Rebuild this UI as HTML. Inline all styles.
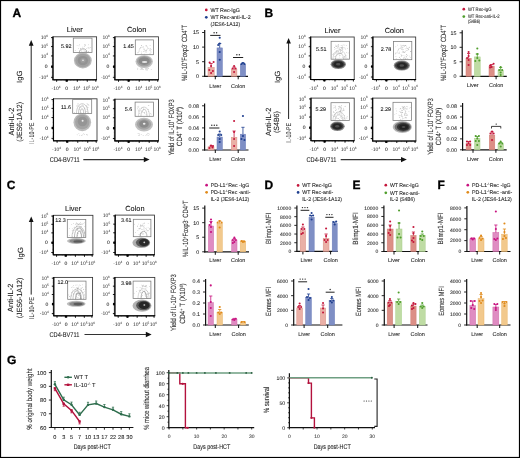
<!DOCTYPE html>
<html><head><meta charset="utf-8"><style>
html,body{margin:0;padding:0;background:#fff;}
body{width:520px;height:458px;overflow:hidden;}
svg{display:block;font-family:"Liberation Sans", sans-serif;will-change:transform;text-rendering:geometricPrecision;}
</style></head><body>
<svg width="520" height="458" viewBox="0 0 520 458">
<defs><filter id="bl" x="-20%" y="-20%" width="140%" height="140%"><feGaussianBlur stdDeviation="0.45"/></filter></defs>
<rect x="0" y="0" width="520" height="458" fill="#fff"/>
<text x="12.60" y="16.50" font-size="12" font-weight="bold" stroke="#000" stroke-width="0.3">A</text>
<line x1="31.20" y1="44.00" x2="31.20" y2="120.00" stroke="#222" stroke-width="1.0"/>
<path d="M28.8,45.7 L31.2,39.9 L33.6,45.7 Z" fill="#111" stroke="none" stroke-width="1"/>
<text x="22.10" y="76.80" font-size="7.5" text-anchor="middle" fill="#1a1a1a" stroke="#1a1a1a" stroke-width="0.08" textLength="12.4" lengthAdjust="spacingAndGlyphs" transform="rotate(-90 22.10 76.80)">IgG</text>
<text x="13.90" y="121.60" font-size="7.5" text-anchor="middle" fill="#1a1a1a" stroke="#1a1a1a" stroke-width="0.08" textLength="27.8" lengthAdjust="spacingAndGlyphs" transform="rotate(-90 13.90 121.60)">Anti-IL-2</text>
<text x="22.00" y="121.85" font-size="7.5" text-anchor="middle" fill="#1a1a1a" stroke="#1a1a1a" stroke-width="0.08" textLength="39.8" lengthAdjust="spacingAndGlyphs" transform="rotate(-90 22.00 121.85)">(JES6-1A12)</text>
<text x="33.60" y="133.25" font-size="7.0" text-anchor="middle" fill="#333" stroke="#333" stroke-width="0.08" textLength="21.3" lengthAdjust="spacingAndGlyphs" transform="rotate(-90 33.60 133.25)"><tspan fill="#9a9a9a" stroke="#9a9a9a">IL</tspan>-10-PE</text>
<text x="49.80" y="161.50" font-size="6.9" fill="#222" stroke="#222" stroke-width="0.08" textLength="29.8" lengthAdjust="spacingAndGlyphs">CD4-BV711</text>
<line x1="83.30" y1="159.60" x2="145.00" y2="159.60" stroke="#333" stroke-width="1.2"/>
<path d="M143.8,156.9 L149.6,159.6 L143.8,162.3 Z" fill="#111" stroke="none" stroke-width="1"/>
<rect x="53.00" y="36.80" width="43.60" height="43.00" fill="#fff" stroke="#333" stroke-width="0.85"/>
<path d="M51.80,38.23h1.2M51.80,39.67h1.2M51.80,41.10h1.2M51.80,42.53h1.2M51.80,43.97h1.2M51.80,45.40h1.2M51.80,46.83h1.2M51.80,48.27h1.2M51.80,49.70h1.2M51.80,51.13h1.2M51.80,52.57h1.2M51.80,54.00h1.2M51.80,55.43h1.2M51.80,56.87h1.2M51.80,58.30h1.2M51.80,59.73h1.2M51.80,61.17h1.2M51.80,62.60h1.2M51.80,64.03h1.2M51.80,65.47h1.2M51.80,66.90h1.2M51.80,68.33h1.2M51.80,69.77h1.2M51.80,71.20h1.2M51.80,72.63h1.2M51.80,74.07h1.2M51.80,75.50h1.2M51.80,76.93h1.2M51.80,78.37h1.2M54.45,79.80v1.2M55.91,79.80v1.2M57.36,79.80v1.2M58.81,79.80v1.2M60.27,79.80v1.2M61.72,79.80v1.2M63.17,79.80v1.2M64.63,79.80v1.2M66.08,79.80v1.2M67.53,79.80v1.2M68.99,79.80v1.2M70.44,79.80v1.2M71.89,79.80v1.2M73.35,79.80v1.2M74.80,79.80v1.2M76.25,79.80v1.2M77.71,79.80v1.2M79.16,79.80v1.2M80.61,79.80v1.2M82.07,79.80v1.2M83.52,79.80v1.2M84.97,79.80v1.2M86.43,79.80v1.2M87.88,79.80v1.2M89.33,79.80v1.2M90.79,79.80v1.2M92.24,79.80v1.2M93.69,79.80v1.2M95.15,79.80v1.2" fill="none" stroke="#333" stroke-width="0.45"/>
<path d="M51.00,37.62h2M51.00,46.60h2M51.00,55.94h2M51.00,66.69h2M51.00,77.31h2M56.62,79.80v2M66.73,79.80v2M77.33,79.80v2M87.31,79.80v2M95.82,79.80v2" fill="none" stroke="#000" stroke-width="0.9"/>
<line x1="53.00" y1="36.40" x2="53.00" y2="80.20" stroke="#000" stroke-width="1.1"/>
<line x1="52.60" y1="79.80" x2="97.00" y2="79.80" stroke="#000" stroke-width="1.1"/>
<rect x="51.20" y="65.48" width="1.80" height="2.40" fill="#000"/>
<rect x="65.53" y="79.80" width="2.40" height="1.80" fill="#000"/>
<text x="48.00" y="39.22" font-size="5" text-anchor="end" fill="#2a2a2a">10<tspan dy="-2.2" font-size="3.2">6</tspan></text>
<text x="48.00" y="48.20" font-size="5" text-anchor="end" fill="#2a2a2a">10<tspan dy="-2.2" font-size="3.2">5</tspan></text>
<text x="48.00" y="57.54" font-size="5" text-anchor="end" fill="#2a2a2a">10<tspan dy="-2.2" font-size="3.2">4</tspan></text>
<text x="47.50" y="68.28" font-size="5" text-anchor="end" fill="#2a2a2a" stroke="#2a2a2a" stroke-width="0.08">0</text>
<text x="48.00" y="78.91" font-size="5" text-anchor="end" fill="#2a2a2a">-10<tspan dy="-2.2" font-size="3.2">4</tspan></text>
<text x="56.02" y="89.80" font-size="5" text-anchor="middle" fill="#2a2a2a">-10<tspan dy="-2.2" font-size="3.2">4</tspan></text>
<text x="66.73" y="89.80" font-size="5" text-anchor="middle" fill="#2a2a2a" stroke="#2a2a2a" stroke-width="0.08">0</text>
<text x="76.73" y="89.80" font-size="5" text-anchor="middle" fill="#2a2a2a">10<tspan dy="-2.2" font-size="3.2">4</tspan></text>
<text x="86.71" y="89.80" font-size="5" text-anchor="middle" fill="#2a2a2a">10<tspan dy="-2.2" font-size="3.2">5</tspan></text>
<text x="95.22" y="89.80" font-size="5" text-anchor="middle" fill="#2a2a2a">10<tspan dy="-2.2" font-size="3.2">6</tspan></text>
<text x="74.80" y="32.30" font-size="7.4" text-anchor="middle" fill="#111" stroke="#111" stroke-width="0.08">Liver</text>
<g fill="#a5a5a5"><circle cx="78.69" cy="48.35" r="0.36"/><circle cx="80.73" cy="48.83" r="0.36"/><circle cx="84.70" cy="44.52" r="0.36"/><circle cx="75.20" cy="50.70" r="0.36"/><circle cx="79.02" cy="45.87" r="0.36"/><circle cx="90.43" cy="47.76" r="0.36"/><circle cx="87.97" cy="47.81" r="0.36"/><circle cx="84.91" cy="45.20" r="0.36"/><circle cx="84.84" cy="50.94" r="0.36"/><circle cx="83.11" cy="49.93" r="0.36"/><circle cx="85.41" cy="44.51" r="0.36"/><circle cx="86.75" cy="48.73" r="0.36"/><circle cx="79.67" cy="44.25" r="0.36"/><circle cx="88.42" cy="47.78" r="0.36"/><circle cx="86.14" cy="51.03" r="0.36"/><circle cx="86.07" cy="51.37" r="0.36"/><circle cx="81.12" cy="50.41" r="0.36"/><circle cx="81.89" cy="51.48" r="0.36"/><circle cx="88.62" cy="44.78" r="0.36"/><circle cx="77.11" cy="45.74" r="0.36"/><circle cx="89.96" cy="47.49" r="0.36"/><circle cx="84.71" cy="46.41" r="0.36"/><circle cx="82.86" cy="47.09" r="0.36"/><circle cx="80.44" cy="48.68" r="0.36"/><circle cx="84.06" cy="51.23" r="0.36"/><circle cx="85.57" cy="51.43" r="0.36"/><circle cx="88.27" cy="51.93" r="0.36"/><circle cx="85.40" cy="45.30" r="0.36"/><circle cx="88.34" cy="51.72" r="0.36"/><circle cx="89.02" cy="48.55" r="0.36"/></g>
<path d="M79.40,52.50 C79.40,47.50 86.90,47.50 86.90,52.50" fill="none" stroke="#777" stroke-width="0.55"/>
<g filter="url(#bl)">
<ellipse cx="82.85" cy="60.50" rx="8.90" ry="7.90" fill="#bababa"/>
<ellipse cx="82.85" cy="60.50" rx="7.60" ry="6.80" fill="#a2a2a2"/>
<ellipse cx="82.90" cy="60.60" rx="5.20" ry="4.70" fill="#939393"/>
<ellipse cx="83.00" cy="60.40" rx="2.60" ry="2.30" fill="#a0a0a0"/>
<ellipse cx="83.00" cy="60.30" rx="0.80" ry="0.80" fill="#f0f0f0"/>
</g>
<rect x="73.30" y="38.10" width="18.70" height="14.40" fill="none" stroke="#7a7a7a" stroke-width="0.75"/>
<text x="61.00" y="47.90" font-size="5.4" fill="#111" stroke="#111" stroke-width="0.08">5.92</text>
<rect x="114.90" y="36.80" width="43.60" height="43.00" fill="#fff" stroke="#333" stroke-width="0.85"/>
<path d="M113.70,38.23h1.2M113.70,39.67h1.2M113.70,41.10h1.2M113.70,42.53h1.2M113.70,43.97h1.2M113.70,45.40h1.2M113.70,46.83h1.2M113.70,48.27h1.2M113.70,49.70h1.2M113.70,51.13h1.2M113.70,52.57h1.2M113.70,54.00h1.2M113.70,55.43h1.2M113.70,56.87h1.2M113.70,58.30h1.2M113.70,59.73h1.2M113.70,61.17h1.2M113.70,62.60h1.2M113.70,64.03h1.2M113.70,65.47h1.2M113.70,66.90h1.2M113.70,68.33h1.2M113.70,69.77h1.2M113.70,71.20h1.2M113.70,72.63h1.2M113.70,74.07h1.2M113.70,75.50h1.2M113.70,76.93h1.2M113.70,78.37h1.2M116.35,79.80v1.2M117.81,79.80v1.2M119.26,79.80v1.2M120.71,79.80v1.2M122.17,79.80v1.2M123.62,79.80v1.2M125.07,79.80v1.2M126.53,79.80v1.2M127.98,79.80v1.2M129.43,79.80v1.2M130.89,79.80v1.2M132.34,79.80v1.2M133.79,79.80v1.2M135.25,79.80v1.2M136.70,79.80v1.2M138.15,79.80v1.2M139.61,79.80v1.2M141.06,79.80v1.2M142.51,79.80v1.2M143.97,79.80v1.2M145.42,79.80v1.2M146.87,79.80v1.2M148.33,79.80v1.2M149.78,79.80v1.2M151.23,79.80v1.2M152.69,79.80v1.2M154.14,79.80v1.2M155.59,79.80v1.2M157.05,79.80v1.2" fill="none" stroke="#333" stroke-width="0.45"/>
<path d="M112.90,37.62h2M112.90,46.60h2M112.90,55.94h2M112.90,66.69h2M112.90,77.31h2M118.52,79.80v2M128.63,79.80v2M139.23,79.80v2M149.21,79.80v2M157.72,79.80v2" fill="none" stroke="#000" stroke-width="0.9"/>
<line x1="114.90" y1="36.40" x2="114.90" y2="80.20" stroke="#000" stroke-width="1.1"/>
<line x1="114.50" y1="79.80" x2="158.90" y2="79.80" stroke="#000" stroke-width="1.1"/>
<rect x="113.10" y="65.48" width="1.80" height="2.40" fill="#000"/>
<rect x="127.43" y="79.80" width="2.40" height="1.80" fill="#000"/>
<text x="109.90" y="39.22" font-size="5" text-anchor="end" fill="#2a2a2a">10<tspan dy="-2.2" font-size="3.2">6</tspan></text>
<text x="109.90" y="48.20" font-size="5" text-anchor="end" fill="#2a2a2a">10<tspan dy="-2.2" font-size="3.2">5</tspan></text>
<text x="109.90" y="57.54" font-size="5" text-anchor="end" fill="#2a2a2a">10<tspan dy="-2.2" font-size="3.2">4</tspan></text>
<text x="109.40" y="68.28" font-size="5" text-anchor="end" fill="#2a2a2a" stroke="#2a2a2a" stroke-width="0.08">0</text>
<text x="109.90" y="78.91" font-size="5" text-anchor="end" fill="#2a2a2a">-10<tspan dy="-2.2" font-size="3.2">4</tspan></text>
<text x="117.92" y="89.80" font-size="5" text-anchor="middle" fill="#2a2a2a">-10<tspan dy="-2.2" font-size="3.2">4</tspan></text>
<text x="128.63" y="89.80" font-size="5" text-anchor="middle" fill="#2a2a2a" stroke="#2a2a2a" stroke-width="0.08">0</text>
<text x="138.63" y="89.80" font-size="5" text-anchor="middle" fill="#2a2a2a">10<tspan dy="-2.2" font-size="3.2">4</tspan></text>
<text x="148.61" y="89.80" font-size="5" text-anchor="middle" fill="#2a2a2a">10<tspan dy="-2.2" font-size="3.2">5</tspan></text>
<text x="157.12" y="89.80" font-size="5" text-anchor="middle" fill="#2a2a2a">10<tspan dy="-2.2" font-size="3.2">6</tspan></text>
<text x="136.70" y="32.30" font-size="7.4" text-anchor="middle" fill="#111" stroke="#111" stroke-width="0.08">Colon</text>
<g fill="#a5a5a5"><circle cx="147.71" cy="46.90" r="0.36"/><circle cx="149.47" cy="50.16" r="0.36"/><circle cx="141.27" cy="45.57" r="0.36"/><circle cx="149.81" cy="53.91" r="0.36"/><circle cx="138.33" cy="52.21" r="0.36"/><circle cx="143.16" cy="46.36" r="0.36"/><circle cx="141.41" cy="51.92" r="0.36"/><circle cx="150.09" cy="45.40" r="0.36"/><circle cx="146.22" cy="45.40" r="0.36"/><circle cx="147.78" cy="47.98" r="0.36"/><circle cx="150.21" cy="53.83" r="0.36"/><circle cx="144.58" cy="53.99" r="0.36"/><circle cx="141.65" cy="45.69" r="0.36"/><circle cx="146.00" cy="45.28" r="0.36"/><circle cx="139.96" cy="48.67" r="0.36"/><circle cx="146.16" cy="46.41" r="0.36"/><circle cx="137.64" cy="52.81" r="0.36"/><circle cx="141.71" cy="53.63" r="0.36"/><circle cx="150.45" cy="48.40" r="0.36"/><circle cx="143.91" cy="49.68" r="0.36"/><circle cx="146.66" cy="50.36" r="0.36"/><circle cx="145.39" cy="50.58" r="0.36"/><circle cx="151.11" cy="49.56" r="0.36"/><circle cx="143.47" cy="51.48" r="0.36"/><circle cx="140.56" cy="47.71" r="0.36"/><circle cx="151.19" cy="69.30" r="0.36"/><circle cx="145.18" cy="68.03" r="0.36"/><circle cx="143.31" cy="69.45" r="0.36"/><circle cx="137.78" cy="69.54" r="0.36"/><circle cx="146.35" cy="68.15" r="0.36"/><circle cx="146.28" cy="69.17" r="0.36"/><circle cx="147.01" cy="68.88" r="0.36"/><circle cx="147.40" cy="69.85" r="0.36"/><circle cx="137.81" cy="68.15" r="0.36"/><circle cx="146.96" cy="70.41" r="0.36"/><circle cx="141.02" cy="69.14" r="0.36"/><circle cx="145.80" cy="68.80" r="0.36"/><circle cx="142.60" cy="68.78" r="0.36"/><circle cx="142.67" cy="69.49" r="0.36"/><circle cx="141.71" cy="68.94" r="0.36"/><circle cx="148.31" cy="68.07" r="0.36"/><circle cx="145.47" cy="69.84" r="0.36"/><circle cx="141.84" cy="68.56" r="0.36"/><circle cx="148.75" cy="68.60" r="0.36"/><circle cx="140.12" cy="69.09" r="0.36"/><circle cx="147.27" cy="68.25" r="0.36"/><circle cx="142.01" cy="68.83" r="0.36"/></g>
<path d="M139.00,52.00 C139.00,45.50 145.00,45.50 145.00,52.00" fill="none" stroke="#bbb" stroke-width="0.4"/>
<path d="M146.00,53.00 C146.00,47.00 151.00,47.00 151.00,53.00" fill="none" stroke="#bbb" stroke-width="0.4"/>
<g filter="url(#bl)">
<ellipse cx="144.20" cy="61.60" rx="8.70" ry="6.40" fill="#c2c2c2"/>
<ellipse cx="144.20" cy="61.30" rx="7.30" ry="5.30" fill="#a0a0a0"/>
<ellipse cx="144.20" cy="61.10" rx="5.50" ry="3.90" fill="#8a8a8a"/>
<ellipse cx="144.60" cy="62.00" rx="2.70" ry="1.00" fill="#e6e6e6"/>
</g>
<rect x="135.30" y="39.90" width="18.30" height="14.80" fill="none" stroke="#7a7a7a" stroke-width="0.75"/>
<text x="123.20" y="47.90" font-size="5.4" fill="#111" stroke="#111" stroke-width="0.08">1.45</text>
<rect x="53.50" y="98.80" width="43.50" height="42.00" fill="#fff" stroke="#333" stroke-width="0.85"/>
<path d="M52.30,100.20h1.2M52.30,101.60h1.2M52.30,103.00h1.2M52.30,104.40h1.2M52.30,105.80h1.2M52.30,107.20h1.2M52.30,108.60h1.2M52.30,110.00h1.2M52.30,111.40h1.2M52.30,112.80h1.2M52.30,114.20h1.2M52.30,115.60h1.2M52.30,117.00h1.2M52.30,118.40h1.2M52.30,119.80h1.2M52.30,121.20h1.2M52.30,122.60h1.2M52.30,124.00h1.2M52.30,125.40h1.2M52.30,126.80h1.2M52.30,128.20h1.2M52.30,129.60h1.2M52.30,131.00h1.2M52.30,132.40h1.2M52.30,133.80h1.2M52.30,135.20h1.2M52.30,136.60h1.2M52.30,138.00h1.2M52.30,139.40h1.2M54.95,140.80v1.2M56.40,140.80v1.2M57.85,140.80v1.2M59.30,140.80v1.2M60.75,140.80v1.2M62.20,140.80v1.2M63.65,140.80v1.2M65.10,140.80v1.2M66.55,140.80v1.2M68.00,140.80v1.2M69.45,140.80v1.2M70.90,140.80v1.2M72.35,140.80v1.2M73.80,140.80v1.2M75.25,140.80v1.2M76.70,140.80v1.2M78.15,140.80v1.2M79.60,140.80v1.2M81.05,140.80v1.2M82.50,140.80v1.2M83.95,140.80v1.2M85.40,140.80v1.2M86.85,140.80v1.2M88.30,140.80v1.2M89.75,140.80v1.2M91.20,140.80v1.2M92.65,140.80v1.2M94.10,140.80v1.2M95.55,140.80v1.2" fill="none" stroke="#333" stroke-width="0.45"/>
<path d="M51.50,99.60h2M51.50,108.38h2M51.50,117.49h2M51.50,127.99h2M51.50,138.36h2M57.11,140.80v2M67.20,140.80v2M77.77,140.80v2M87.73,140.80v2M96.22,140.80v2" fill="none" stroke="#000" stroke-width="0.9"/>
<line x1="53.50" y1="98.40" x2="53.50" y2="141.20" stroke="#000" stroke-width="1.1"/>
<line x1="53.10" y1="140.80" x2="97.40" y2="140.80" stroke="#000" stroke-width="1.1"/>
<rect x="51.70" y="126.79" width="1.80" height="2.40" fill="#000"/>
<rect x="66.00" y="140.80" width="2.40" height="1.80" fill="#000"/>
<text x="48.50" y="101.20" font-size="5" text-anchor="end" fill="#2a2a2a">10<tspan dy="-2.2" font-size="3.2">6</tspan></text>
<text x="48.50" y="109.98" font-size="5" text-anchor="end" fill="#2a2a2a">10<tspan dy="-2.2" font-size="3.2">5</tspan></text>
<text x="48.50" y="119.09" font-size="5" text-anchor="end" fill="#2a2a2a">10<tspan dy="-2.2" font-size="3.2">4</tspan></text>
<text x="48.00" y="129.59" font-size="5" text-anchor="end" fill="#2a2a2a" stroke="#2a2a2a" stroke-width="0.08">0</text>
<text x="48.50" y="139.96" font-size="5" text-anchor="end" fill="#2a2a2a">-10<tspan dy="-2.2" font-size="3.2">4</tspan></text>
<text x="56.51" y="150.80" font-size="5" text-anchor="middle" fill="#2a2a2a">-10<tspan dy="-2.2" font-size="3.2">4</tspan></text>
<text x="67.20" y="150.80" font-size="5" text-anchor="middle" fill="#2a2a2a" stroke="#2a2a2a" stroke-width="0.08">0</text>
<text x="77.17" y="150.80" font-size="5" text-anchor="middle" fill="#2a2a2a">10<tspan dy="-2.2" font-size="3.2">4</tspan></text>
<text x="87.13" y="150.80" font-size="5" text-anchor="middle" fill="#2a2a2a">10<tspan dy="-2.2" font-size="3.2">5</tspan></text>
<text x="95.62" y="150.80" font-size="5" text-anchor="middle" fill="#2a2a2a">10<tspan dy="-2.2" font-size="3.2">6</tspan></text>
<g fill="#a5a5a5"><circle cx="87.42" cy="107.38" r="0.36"/><circle cx="87.76" cy="104.69" r="0.36"/><circle cx="79.72" cy="109.50" r="0.36"/><circle cx="88.22" cy="107.51" r="0.36"/><circle cx="77.99" cy="104.21" r="0.36"/><circle cx="82.71" cy="104.91" r="0.36"/><circle cx="87.01" cy="111.38" r="0.36"/><circle cx="77.35" cy="105.79" r="0.36"/><circle cx="87.01" cy="109.42" r="0.36"/><circle cx="87.00" cy="106.45" r="0.36"/><circle cx="76.51" cy="105.92" r="0.36"/><circle cx="86.80" cy="105.71" r="0.36"/><circle cx="79.87" cy="107.17" r="0.36"/><circle cx="81.01" cy="107.10" r="0.36"/><circle cx="88.77" cy="104.56" r="0.36"/><circle cx="74.57" cy="112.43" r="0.36"/><circle cx="88.14" cy="112.87" r="0.36"/><circle cx="81.23" cy="112.50" r="0.36"/><circle cx="88.87" cy="105.22" r="0.36"/><circle cx="86.06" cy="111.37" r="0.36"/><circle cx="84.78" cy="108.19" r="0.36"/><circle cx="78.98" cy="106.41" r="0.36"/><circle cx="78.03" cy="103.68" r="0.36"/><circle cx="83.62" cy="105.87" r="0.36"/><circle cx="87.06" cy="103.45" r="0.36"/><circle cx="86.94" cy="134.73" r="0.36"/><circle cx="87.16" cy="135.24" r="0.36"/><circle cx="86.90" cy="134.44" r="0.36"/><circle cx="77.14" cy="134.86" r="0.36"/><circle cx="78.89" cy="133.75" r="0.36"/><circle cx="84.29" cy="134.31" r="0.36"/><circle cx="81.55" cy="135.35" r="0.36"/><circle cx="83.73" cy="133.85" r="0.36"/><circle cx="79.78" cy="135.15" r="0.36"/><circle cx="82.25" cy="134.96" r="0.36"/></g>
<path d="M76.50,113.50 C76.50,100.50 88.00,100.50 88.00,113.50" fill="none" stroke="#999" stroke-width="0.5"/>
<path d="M78.50,113.50 C78.50,103.50 85.50,103.50 85.50,113.50" fill="none" stroke="#888" stroke-width="0.5"/>
<path d="M80.30,113.50 C80.30,107.00 83.70,107.00 83.70,113.50" fill="none" stroke="#888" stroke-width="0.5"/>
<g filter="url(#bl)">
<ellipse cx="82.30" cy="122.30" rx="8.80" ry="8.90" fill="#bcbcbc"/>
<ellipse cx="82.30" cy="122.00" rx="7.20" ry="7.30" fill="#a4a4a4"/>
<ellipse cx="82.50" cy="121.50" rx="4.80" ry="4.80" fill="#959595"/>
<ellipse cx="82.60" cy="120.80" rx="1.00" ry="1.00" fill="#eeeeee"/>
</g>
<rect x="72.70" y="99.60" width="19.00" height="13.90" fill="none" stroke="#7a7a7a" stroke-width="0.75"/>
<text x="60.90" y="108.90" font-size="5.4" fill="#111" stroke="#111" stroke-width="0.08">11.6</text>
<rect x="114.90" y="99.20" width="43.60" height="41.70" fill="#fff" stroke="#333" stroke-width="0.85"/>
<path d="M113.70,100.59h1.2M113.70,101.98h1.2M113.70,103.37h1.2M113.70,104.76h1.2M113.70,106.15h1.2M113.70,107.54h1.2M113.70,108.93h1.2M113.70,110.32h1.2M113.70,111.71h1.2M113.70,113.10h1.2M113.70,114.49h1.2M113.70,115.88h1.2M113.70,117.27h1.2M113.70,118.66h1.2M113.70,120.05h1.2M113.70,121.44h1.2M113.70,122.83h1.2M113.70,124.22h1.2M113.70,125.61h1.2M113.70,127.00h1.2M113.70,128.39h1.2M113.70,129.78h1.2M113.70,131.17h1.2M113.70,132.56h1.2M113.70,133.95h1.2M113.70,135.34h1.2M113.70,136.73h1.2M113.70,138.12h1.2M113.70,139.51h1.2M116.35,140.90v1.2M117.81,140.90v1.2M119.26,140.90v1.2M120.71,140.90v1.2M122.17,140.90v1.2M123.62,140.90v1.2M125.07,140.90v1.2M126.53,140.90v1.2M127.98,140.90v1.2M129.43,140.90v1.2M130.89,140.90v1.2M132.34,140.90v1.2M133.79,140.90v1.2M135.25,140.90v1.2M136.70,140.90v1.2M138.15,140.90v1.2M139.61,140.90v1.2M141.06,140.90v1.2M142.51,140.90v1.2M143.97,140.90v1.2M145.42,140.90v1.2M146.87,140.90v1.2M148.33,140.90v1.2M149.78,140.90v1.2M151.23,140.90v1.2M152.69,140.90v1.2M154.14,140.90v1.2M155.59,140.90v1.2M157.05,140.90v1.2" fill="none" stroke="#333" stroke-width="0.45"/>
<path d="M112.90,99.99h2M112.90,108.71h2M112.90,117.76h2M112.90,128.18h2M112.90,138.48h2M118.52,140.90v2M128.63,140.90v2M139.23,140.90v2M149.21,140.90v2M157.72,140.90v2" fill="none" stroke="#000" stroke-width="0.9"/>
<line x1="114.90" y1="98.80" x2="114.90" y2="141.30" stroke="#000" stroke-width="1.1"/>
<line x1="114.50" y1="140.90" x2="158.90" y2="140.90" stroke="#000" stroke-width="1.1"/>
<rect x="113.10" y="126.98" width="1.80" height="2.40" fill="#000"/>
<rect x="127.43" y="140.90" width="2.40" height="1.80" fill="#000"/>
<text x="109.90" y="101.59" font-size="5" text-anchor="end" fill="#2a2a2a">10<tspan dy="-2.2" font-size="3.2">6</tspan></text>
<text x="109.90" y="110.31" font-size="5" text-anchor="end" fill="#2a2a2a">10<tspan dy="-2.2" font-size="3.2">5</tspan></text>
<text x="109.90" y="119.36" font-size="5" text-anchor="end" fill="#2a2a2a">10<tspan dy="-2.2" font-size="3.2">4</tspan></text>
<text x="109.40" y="129.78" font-size="5" text-anchor="end" fill="#2a2a2a" stroke="#2a2a2a" stroke-width="0.08">0</text>
<text x="109.90" y="140.08" font-size="5" text-anchor="end" fill="#2a2a2a">-10<tspan dy="-2.2" font-size="3.2">4</tspan></text>
<text x="117.92" y="150.90" font-size="5" text-anchor="middle" fill="#2a2a2a">-10<tspan dy="-2.2" font-size="3.2">4</tspan></text>
<text x="128.63" y="150.90" font-size="5" text-anchor="middle" fill="#2a2a2a" stroke="#2a2a2a" stroke-width="0.08">0</text>
<text x="138.63" y="150.90" font-size="5" text-anchor="middle" fill="#2a2a2a">10<tspan dy="-2.2" font-size="3.2">4</tspan></text>
<text x="148.61" y="150.90" font-size="5" text-anchor="middle" fill="#2a2a2a">10<tspan dy="-2.2" font-size="3.2">5</tspan></text>
<text x="157.12" y="150.90" font-size="5" text-anchor="middle" fill="#2a2a2a">10<tspan dy="-2.2" font-size="3.2">6</tspan></text>
<g fill="#a5a5a5"><circle cx="142.10" cy="107.47" r="0.36"/><circle cx="144.75" cy="113.67" r="0.36"/><circle cx="139.48" cy="113.42" r="0.36"/><circle cx="150.37" cy="113.56" r="0.36"/><circle cx="148.94" cy="105.58" r="0.36"/><circle cx="146.11" cy="114.13" r="0.36"/><circle cx="137.72" cy="108.21" r="0.36"/><circle cx="140.89" cy="110.77" r="0.36"/><circle cx="143.13" cy="110.23" r="0.36"/><circle cx="148.26" cy="105.52" r="0.36"/><circle cx="137.80" cy="106.77" r="0.36"/><circle cx="138.81" cy="106.18" r="0.36"/><circle cx="151.13" cy="114.04" r="0.36"/><circle cx="138.25" cy="110.52" r="0.36"/><circle cx="141.58" cy="108.65" r="0.36"/><circle cx="142.09" cy="111.97" r="0.36"/><circle cx="145.51" cy="109.11" r="0.36"/><circle cx="139.77" cy="108.79" r="0.36"/><circle cx="138.79" cy="111.06" r="0.36"/><circle cx="147.38" cy="109.30" r="0.36"/><circle cx="138.16" cy="107.29" r="0.36"/><circle cx="142.41" cy="111.54" r="0.36"/><circle cx="148.35" cy="109.30" r="0.36"/><circle cx="148.62" cy="111.73" r="0.36"/><circle cx="143.26" cy="109.22" r="0.36"/><circle cx="144.19" cy="112.53" r="0.36"/><circle cx="143.10" cy="112.44" r="0.36"/><circle cx="143.68" cy="107.95" r="0.36"/><circle cx="144.77" cy="112.45" r="0.36"/><circle cx="138.04" cy="109.75" r="0.36"/><circle cx="143.11" cy="135.64" r="0.36"/><circle cx="149.24" cy="134.12" r="0.36"/><circle cx="148.77" cy="135.37" r="0.36"/><circle cx="141.15" cy="134.39" r="0.36"/><circle cx="139.48" cy="135.44" r="0.36"/><circle cx="145.95" cy="135.66" r="0.36"/><circle cx="147.51" cy="135.00" r="0.36"/><circle cx="146.80" cy="134.69" r="0.36"/><circle cx="139.24" cy="134.76" r="0.36"/><circle cx="138.06" cy="133.43" r="0.36"/><circle cx="147.29" cy="133.13" r="0.36"/><circle cx="139.10" cy="133.30" r="0.36"/><circle cx="148.57" cy="133.54" r="0.36"/><circle cx="138.28" cy="135.52" r="0.36"/></g>
<path d="M138.50,116.30 C138.50,104.00 149.50,104.00 149.50,116.30" fill="none" stroke="#aaa" stroke-width="0.45"/>
<path d="M141.00,116.30 C141.00,107.00 147.00,107.00 147.00,116.30" fill="none" stroke="#999" stroke-width="0.45"/>
<g filter="url(#bl)">
<ellipse cx="144.00" cy="124.60" rx="9.00" ry="6.90" fill="#c0c0c0"/>
<ellipse cx="144.00" cy="124.30" rx="7.20" ry="5.40" fill="#a4a4a4"/>
<ellipse cx="144.00" cy="124.00" rx="4.80" ry="3.80" fill="#8b8b8b"/>
<ellipse cx="144.20" cy="123.80" rx="1.30" ry="1.00" fill="#f0f0f0"/>
</g>
<rect x="135.10" y="102.10" width="18.30" height="14.20" fill="none" stroke="#7a7a7a" stroke-width="0.75"/>
<text x="124.70" y="110.90" font-size="5.4" fill="#111" stroke="#111" stroke-width="0.08">5.6</text>
<circle cx="206.30" cy="9.90" r="1.35" fill="#c4163b"/>
<text x="210.40" y="11.60" font-size="5.3" fill="#222" stroke="#222" stroke-width="0.08" textLength="29.6" lengthAdjust="spacingAndGlyphs">WT Rec-IgG</text>
<circle cx="206.30" cy="17.30" r="1.35" fill="#1f3f8f"/>
<text x="210.40" y="19.00" font-size="5.3" fill="#222" stroke="#222" stroke-width="0.08" textLength="40.2" lengthAdjust="spacingAndGlyphs">WT Rec-anti-IL-2</text>
<text x="210.40" y="25.60" font-size="5.3" fill="#222" stroke="#222" stroke-width="0.08" textLength="29.8" lengthAdjust="spacingAndGlyphs">(JES6-1A12)</text>
<line x1="204.70" y1="30.00" x2="204.70" y2="76.90" stroke="#111" stroke-width="1.2"/>
<line x1="204.10" y1="76.30" x2="248.00" y2="76.30" stroke="#111" stroke-width="1.2"/>
<line x1="202.10" y1="32.50" x2="204.70" y2="32.50" stroke="#111" stroke-width="0.9"/>
<text x="199.00" y="34.35" font-size="5.3" text-anchor="end" fill="#2a2a2a" stroke="#2a2a2a" stroke-width="0.08">15</text>
<line x1="202.10" y1="47.10" x2="204.70" y2="47.10" stroke="#111" stroke-width="0.9"/>
<text x="199.00" y="48.95" font-size="5.3" text-anchor="end" fill="#2a2a2a" stroke="#2a2a2a" stroke-width="0.08">10</text>
<line x1="202.10" y1="61.70" x2="204.70" y2="61.70" stroke="#111" stroke-width="0.9"/>
<text x="199.00" y="63.55" font-size="5.3" text-anchor="end" fill="#2a2a2a" stroke="#2a2a2a" stroke-width="0.08">5</text>
<line x1="202.10" y1="76.30" x2="204.70" y2="76.30" stroke="#111" stroke-width="0.9"/>
<text x="199.00" y="78.15" font-size="5.3" text-anchor="end" fill="#2a2a2a" stroke="#2a2a2a" stroke-width="0.08">0</text>
<line x1="215.30" y1="76.30" x2="215.30" y2="79.30" stroke="#111" stroke-width="1.0"/>
<line x1="238.20" y1="76.30" x2="238.20" y2="79.30" stroke="#111" stroke-width="1.0"/>
<rect x="208.00" y="67.40" width="6.20" height="8.90" fill="#eab0a6" stroke="#d98f84" stroke-width="0.5"/>
<line x1="211.10" y1="67.40" x2="211.10" y2="63.50" stroke="#c4163b" stroke-width="0.8"/>
<line x1="209.50" y1="63.50" x2="212.70" y2="63.50" stroke="#c4163b" stroke-width="0.8"/>
<circle cx="209.60" cy="62.60" r="1.05" fill="#c4163b"/>
<circle cx="213.60" cy="62.00" r="1.05" fill="#c4163b"/>
<circle cx="211.10" cy="66.00" r="1.05" fill="#c4163b"/>
<circle cx="209.30" cy="70.00" r="1.05" fill="#c4163b"/>
<circle cx="212.90" cy="71.00" r="1.05" fill="#c4163b"/>
<circle cx="211.10" cy="73.00" r="1.05" fill="#c4163b"/>
<rect x="217.00" y="47.90" width="5.40" height="28.40" fill="#7f8fc5" stroke="#6a7cba" stroke-width="0.5"/>
<line x1="219.70" y1="47.90" x2="219.70" y2="43.50" stroke="#1f3f8f" stroke-width="0.8"/>
<line x1="218.10" y1="43.50" x2="221.30" y2="43.50" stroke="#1f3f8f" stroke-width="0.8"/>
<circle cx="219.70" cy="37.80" r="1.05" fill="#1f3f8f"/>
<circle cx="219.70" cy="43.50" r="1.05" fill="#1f3f8f"/>
<circle cx="219.70" cy="52.00" r="1.05" fill="#1f3f8f"/>
<circle cx="219.70" cy="59.80" r="1.05" fill="#1f3f8f"/>
<circle cx="218.20" cy="45.00" r="1.05" fill="#1f3f8f"/>
<rect x="231.30" y="69.50" width="5.60" height="6.80" fill="#eab0a6" stroke="#d98f84" stroke-width="0.5"/>
<line x1="234.10" y1="69.50" x2="234.10" y2="67.00" stroke="#c4163b" stroke-width="0.8"/>
<line x1="232.50" y1="67.00" x2="235.70" y2="67.00" stroke="#c4163b" stroke-width="0.8"/>
<circle cx="234.10" cy="66.00" r="1.05" fill="#c4163b"/>
<circle cx="232.60" cy="68.50" r="1.05" fill="#c4163b"/>
<circle cx="235.60" cy="68.50" r="1.05" fill="#c4163b"/>
<circle cx="234.10" cy="72.00" r="1.05" fill="#c4163b"/>
<rect x="240.30" y="64.30" width="5.30" height="12.00" fill="#7f8fc5" stroke="#6a7cba" stroke-width="0.5"/>
<line x1="242.95" y1="64.30" x2="242.95" y2="62.80" stroke="#1f3f8f" stroke-width="0.8"/>
<line x1="241.35" y1="62.80" x2="244.55" y2="62.80" stroke="#1f3f8f" stroke-width="0.8"/>
<circle cx="242.95" cy="63.00" r="1.05" fill="#1f3f8f"/>
<circle cx="241.45" cy="64.00" r="1.05" fill="#1f3f8f"/>
<circle cx="244.45" cy="64.00" r="1.05" fill="#1f3f8f"/>
<text x="215.30" y="87.50" font-size="5.5" text-anchor="middle" fill="#2a2a2a" stroke="#2a2a2a" stroke-width="0.08">Liver</text>
<text x="238.20" y="87.50" font-size="5.5" text-anchor="middle" fill="#2a2a2a" stroke="#2a2a2a" stroke-width="0.08">Colon</text>
<line x1="210.20" y1="35.40" x2="220.50" y2="35.40" stroke="#222" stroke-width="1.0"/>
<circle cx="214.10" cy="32.70" r="0.72" fill="#2a2a2a"/>
<circle cx="216.60" cy="32.70" r="0.72" fill="#2a2a2a"/>
<line x1="233.00" y1="57.50" x2="243.20" y2="57.50" stroke="#222" stroke-width="1.0"/>
<circle cx="236.85" cy="54.80" r="0.72" fill="#2a2a2a"/>
<circle cx="239.35" cy="54.80" r="0.72" fill="#2a2a2a"/>
<text x="186.80" y="53.00" font-size="7.6" text-anchor="middle" fill="#2a2a2a" stroke="#2a2a2a" stroke-width="0.08" textLength="56" lengthAdjust="spacingAndGlyphs" transform="rotate(-90 186.80 53.00)">%IL-10<tspan dy="-2.6" font-size="4.5">+</tspan><tspan dy="2.6">Foxp3</tspan><tspan dy="-2.6" font-size="4.5">-</tspan><tspan dy="2.6"> CD4</tspan><tspan dy="-2.6" font-size="4.5">+</tspan><tspan dy="2.6">T</tspan></text>
<line x1="204.60" y1="103.50" x2="204.60" y2="150.60" stroke="#111" stroke-width="1.2"/>
<line x1="204.00" y1="150.00" x2="248.50" y2="150.00" stroke="#111" stroke-width="1.2"/>
<line x1="202.00" y1="105.80" x2="204.60" y2="105.80" stroke="#111" stroke-width="0.9"/>
<text x="198.90" y="107.65" font-size="5.3" text-anchor="end" fill="#2a2a2a" stroke="#2a2a2a" stroke-width="0.08">0.08</text>
<line x1="202.00" y1="116.85" x2="204.60" y2="116.85" stroke="#111" stroke-width="0.9"/>
<text x="198.90" y="118.70" font-size="5.3" text-anchor="end" fill="#2a2a2a" stroke="#2a2a2a" stroke-width="0.08">0.06</text>
<line x1="202.00" y1="127.90" x2="204.60" y2="127.90" stroke="#111" stroke-width="0.9"/>
<text x="198.90" y="129.75" font-size="5.3" text-anchor="end" fill="#2a2a2a" stroke="#2a2a2a" stroke-width="0.08">0.04</text>
<line x1="202.00" y1="138.95" x2="204.60" y2="138.95" stroke="#111" stroke-width="0.9"/>
<text x="198.90" y="140.80" font-size="5.3" text-anchor="end" fill="#2a2a2a" stroke="#2a2a2a" stroke-width="0.08">0.02</text>
<line x1="202.00" y1="150.00" x2="204.60" y2="150.00" stroke="#111" stroke-width="0.9"/>
<text x="198.90" y="151.85" font-size="5.3" text-anchor="end" fill="#2a2a2a" stroke="#2a2a2a" stroke-width="0.08">0.00</text>
<line x1="215.30" y1="150.00" x2="215.30" y2="153.00" stroke="#111" stroke-width="1.0"/>
<line x1="238.20" y1="150.00" x2="238.20" y2="153.00" stroke="#111" stroke-width="1.0"/>
<rect x="208.00" y="146.80" width="6.00" height="3.20" fill="#eab0a6" stroke="#d98f84" stroke-width="0.5"/>
<line x1="211.00" y1="146.80" x2="211.00" y2="146.00" stroke="#c4163b" stroke-width="0.8"/>
<line x1="209.40" y1="146.00" x2="212.60" y2="146.00" stroke="#c4163b" stroke-width="0.8"/>
<circle cx="209.50" cy="148.00" r="1.05" fill="#c4163b"/>
<circle cx="212.50" cy="147.50" r="1.05" fill="#c4163b"/>
<circle cx="211.00" cy="145.50" r="1.05" fill="#c4163b"/>
<circle cx="213.00" cy="146.00" r="1.05" fill="#c4163b"/>
<rect x="217.00" y="137.00" width="5.40" height="13.00" fill="#7f8fc5" stroke="#6a7cba" stroke-width="0.5"/>
<line x1="219.70" y1="137.00" x2="219.70" y2="134.00" stroke="#1f3f8f" stroke-width="0.8"/>
<line x1="218.10" y1="134.00" x2="221.30" y2="134.00" stroke="#1f3f8f" stroke-width="0.8"/>
<circle cx="219.70" cy="131.50" r="1.05" fill="#1f3f8f"/>
<circle cx="218.20" cy="135.00" r="1.05" fill="#1f3f8f"/>
<circle cx="221.20" cy="135.00" r="1.05" fill="#1f3f8f"/>
<circle cx="219.70" cy="139.00" r="1.05" fill="#1f3f8f"/>
<circle cx="219.70" cy="142.00" r="1.05" fill="#1f3f8f"/>
<rect x="231.30" y="137.30" width="5.60" height="12.70" fill="#eab0a6" stroke="#d98f84" stroke-width="0.5"/>
<line x1="234.10" y1="137.30" x2="234.10" y2="131.00" stroke="#c4163b" stroke-width="0.8"/>
<line x1="232.50" y1="131.00" x2="235.70" y2="131.00" stroke="#c4163b" stroke-width="0.8"/>
<circle cx="234.10" cy="121.00" r="1.05" fill="#c4163b"/>
<circle cx="234.10" cy="132.00" r="1.05" fill="#c4163b"/>
<circle cx="234.10" cy="139.00" r="1.05" fill="#c4163b"/>
<circle cx="234.10" cy="146.00" r="1.05" fill="#c4163b"/>
<rect x="240.30" y="134.20" width="5.30" height="15.80" fill="#7f8fc5" stroke="#6a7cba" stroke-width="0.5"/>
<line x1="242.95" y1="134.20" x2="242.95" y2="127.30" stroke="#1f3f8f" stroke-width="0.8"/>
<line x1="241.35" y1="127.30" x2="244.55" y2="127.30" stroke="#1f3f8f" stroke-width="0.8"/>
<circle cx="242.95" cy="116.00" r="1.05" fill="#1f3f8f"/>
<circle cx="242.95" cy="136.00" r="1.05" fill="#1f3f8f"/>
<circle cx="241.45" cy="139.00" r="1.05" fill="#1f3f8f"/>
<circle cx="244.45" cy="140.00" r="1.05" fill="#1f3f8f"/>
<text x="215.30" y="160.50" font-size="5.5" text-anchor="middle" fill="#2a2a2a" stroke="#2a2a2a" stroke-width="0.08">Liver</text>
<text x="238.20" y="160.50" font-size="5.5" text-anchor="middle" fill="#2a2a2a" stroke="#2a2a2a" stroke-width="0.08">Colon</text>
<line x1="209.20" y1="128.00" x2="219.40" y2="128.00" stroke="#222" stroke-width="1.0"/>
<circle cx="211.80" cy="125.30" r="0.72" fill="#2a2a2a"/>
<circle cx="214.30" cy="125.30" r="0.72" fill="#2a2a2a"/>
<circle cx="216.80" cy="125.30" r="0.72" fill="#2a2a2a"/>
<text x="173.80" y="127.30" font-size="7.6" text-anchor="middle" fill="#2a2a2a" stroke="#2a2a2a" stroke-width="0.08" textLength="56" lengthAdjust="spacingAndGlyphs" transform="rotate(-90 173.80 127.30)">Yield of IL-10<tspan dy="-2.6" font-size="4.5">+</tspan><tspan dy="2.6"> FOXP3</tspan></text>
<text x="181.70" y="126.50" font-size="7.6" text-anchor="middle" fill="#2a2a2a" stroke="#2a2a2a" stroke-width="0.08" textLength="39" lengthAdjust="spacingAndGlyphs" transform="rotate(-90 181.70 126.50)">CD4<tspan dy="-2.6" font-size="4.5">+</tspan><tspan dy="2.6"> T (X10</tspan><tspan dy="-2.6" font-size="4.5">6</tspan><tspan dy="2.6">)</tspan></text>
<text x="264.40" y="16.70" font-size="12" font-weight="bold" stroke="#000" stroke-width="0.3">B</text>
<line x1="288.60" y1="43.00" x2="288.60" y2="119.00" stroke="#222" stroke-width="1.0"/>
<path d="M286.3,43.5 L288.6,38 L290.9,43.5 Z" fill="#111" stroke="none" stroke-width="1"/>
<text x="280.00" y="76.90" font-size="7.5" text-anchor="middle" fill="#1a1a1a" stroke="#1a1a1a" stroke-width="0.08" textLength="12.4" lengthAdjust="spacingAndGlyphs" transform="rotate(-90 280.00 76.90)">IgG</text>
<text x="271.00" y="121.80" font-size="7.5" text-anchor="middle" fill="#1a1a1a" stroke="#1a1a1a" stroke-width="0.08" textLength="28.4" lengthAdjust="spacingAndGlyphs" transform="rotate(-90 271.00 121.80)">Anti-IL-2</text>
<text x="279.50" y="122.10" font-size="7.5" text-anchor="middle" fill="#1a1a1a" stroke="#1a1a1a" stroke-width="0.08" textLength="21.8" lengthAdjust="spacingAndGlyphs" transform="rotate(-90 279.50 122.10)">(S4B6)</text>
<text x="291.20" y="133.20" font-size="7.0" text-anchor="middle" fill="#333" stroke="#333" stroke-width="0.08" textLength="20.5" lengthAdjust="spacingAndGlyphs" transform="rotate(-90 291.20 133.20)"><tspan fill="#9a9a9a" stroke="#9a9a9a">IL</tspan>-10-PE</text>
<text x="306.50" y="161.50" font-size="6.9" fill="#222" stroke="#222" stroke-width="0.08" textLength="29.8" lengthAdjust="spacingAndGlyphs">CD4-BV711</text>
<line x1="340.70" y1="159.60" x2="402.00" y2="159.60" stroke="#333" stroke-width="1.2"/>
<path d="M401,156.9 L406.8,159.6 L401,162.3 Z" fill="#111" stroke="none" stroke-width="1"/>
<rect x="310.70" y="37.00" width="43.50" height="42.50" fill="#fff" stroke="#333" stroke-width="0.85"/>
<path d="M309.50,38.42h1.2M309.50,39.83h1.2M309.50,41.25h1.2M309.50,42.67h1.2M309.50,44.08h1.2M309.50,45.50h1.2M309.50,46.92h1.2M309.50,48.33h1.2M309.50,49.75h1.2M309.50,51.17h1.2M309.50,52.58h1.2M309.50,54.00h1.2M309.50,55.42h1.2M309.50,56.83h1.2M309.50,58.25h1.2M309.50,59.67h1.2M309.50,61.08h1.2M309.50,62.50h1.2M309.50,63.92h1.2M309.50,65.33h1.2M309.50,66.75h1.2M309.50,68.17h1.2M309.50,69.58h1.2M309.50,71.00h1.2M309.50,72.42h1.2M309.50,73.83h1.2M309.50,75.25h1.2M309.50,76.67h1.2M309.50,78.08h1.2M312.15,79.50v1.2M313.60,79.50v1.2M315.05,79.50v1.2M316.50,79.50v1.2M317.95,79.50v1.2M319.40,79.50v1.2M320.85,79.50v1.2M322.30,79.50v1.2M323.75,79.50v1.2M325.20,79.50v1.2M326.65,79.50v1.2M328.10,79.50v1.2M329.55,79.50v1.2M331.00,79.50v1.2M332.45,79.50v1.2M333.90,79.50v1.2M335.35,79.50v1.2M336.80,79.50v1.2M338.25,79.50v1.2M339.70,79.50v1.2M341.15,79.50v1.2M342.60,79.50v1.2M344.05,79.50v1.2M345.50,79.50v1.2M346.95,79.50v1.2M348.40,79.50v1.2M349.85,79.50v1.2M351.30,79.50v1.2M352.75,79.50v1.2" fill="none" stroke="#333" stroke-width="0.45"/>
<path d="M308.70,37.81h2M308.70,46.69h2M308.70,55.91h2M308.70,66.54h2M308.70,77.03h2M314.31,79.50v2M324.40,79.50v2M334.97,79.50v2M344.93,79.50v2M353.42,79.50v2" fill="none" stroke="#000" stroke-width="0.9"/>
<line x1="310.70" y1="36.60" x2="310.70" y2="79.90" stroke="#000" stroke-width="1.1"/>
<line x1="310.30" y1="79.50" x2="354.60" y2="79.50" stroke="#000" stroke-width="1.1"/>
<rect x="308.90" y="65.34" width="1.80" height="2.40" fill="#000"/>
<rect x="323.20" y="79.50" width="2.40" height="1.80" fill="#000"/>
<text x="305.70" y="39.41" font-size="5" text-anchor="end" fill="#2a2a2a">10<tspan dy="-2.2" font-size="3.2">6</tspan></text>
<text x="305.70" y="48.29" font-size="5" text-anchor="end" fill="#2a2a2a">10<tspan dy="-2.2" font-size="3.2">5</tspan></text>
<text x="305.70" y="57.51" font-size="5" text-anchor="end" fill="#2a2a2a">10<tspan dy="-2.2" font-size="3.2">4</tspan></text>
<text x="305.20" y="68.14" font-size="5" text-anchor="end" fill="#2a2a2a" stroke="#2a2a2a" stroke-width="0.08">0</text>
<text x="305.70" y="78.63" font-size="5" text-anchor="end" fill="#2a2a2a">-10<tspan dy="-2.2" font-size="3.2">4</tspan></text>
<text x="313.71" y="89.50" font-size="5" text-anchor="middle" fill="#2a2a2a">-10<tspan dy="-2.2" font-size="3.2">4</tspan></text>
<text x="324.40" y="89.50" font-size="5" text-anchor="middle" fill="#2a2a2a" stroke="#2a2a2a" stroke-width="0.08">0</text>
<text x="334.37" y="89.50" font-size="5" text-anchor="middle" fill="#2a2a2a">10<tspan dy="-2.2" font-size="3.2">4</tspan></text>
<text x="344.33" y="89.50" font-size="5" text-anchor="middle" fill="#2a2a2a">10<tspan dy="-2.2" font-size="3.2">5</tspan></text>
<text x="352.82" y="89.50" font-size="5" text-anchor="middle" fill="#2a2a2a">10<tspan dy="-2.2" font-size="3.2">6</tspan></text>
<text x="332.45" y="32.50" font-size="7.4" text-anchor="middle" fill="#111" stroke="#111" stroke-width="0.08">Liver</text>
<g fill="#a5a5a5"><circle cx="344.67" cy="56.73" r="0.36"/><circle cx="336.04" cy="46.50" r="0.36"/><circle cx="335.37" cy="45.07" r="0.36"/><circle cx="335.33" cy="58.44" r="0.36"/><circle cx="334.64" cy="47.36" r="0.36"/><circle cx="339.59" cy="57.00" r="0.36"/><circle cx="341.36" cy="47.60" r="0.36"/><circle cx="339.53" cy="53.41" r="0.36"/><circle cx="341.62" cy="50.01" r="0.36"/><circle cx="336.81" cy="55.70" r="0.36"/><circle cx="334.04" cy="54.55" r="0.36"/><circle cx="335.18" cy="52.38" r="0.36"/><circle cx="336.81" cy="52.77" r="0.36"/><circle cx="342.69" cy="52.03" r="0.36"/><circle cx="340.18" cy="52.11" r="0.36"/><circle cx="343.11" cy="47.62" r="0.36"/><circle cx="344.80" cy="47.51" r="0.36"/><circle cx="335.91" cy="48.56" r="0.36"/><circle cx="339.73" cy="48.96" r="0.36"/><circle cx="341.05" cy="45.74" r="0.36"/><circle cx="341.49" cy="47.61" r="0.36"/><circle cx="336.81" cy="45.51" r="0.36"/><circle cx="339.77" cy="47.98" r="0.36"/><circle cx="339.83" cy="55.59" r="0.36"/><circle cx="342.84" cy="49.72" r="0.36"/><circle cx="341.01" cy="53.55" r="0.36"/><circle cx="344.87" cy="45.06" r="0.36"/><circle cx="338.83" cy="53.84" r="0.36"/><circle cx="336.92" cy="46.28" r="0.36"/><circle cx="339.90" cy="49.74" r="0.36"/><circle cx="344.21" cy="58.76" r="0.36"/><circle cx="338.26" cy="51.17" r="0.36"/><circle cx="342.10" cy="52.87" r="0.36"/><circle cx="340.60" cy="53.44" r="0.36"/><circle cx="338.56" cy="44.61" r="0.36"/><circle cx="336.30" cy="51.17" r="0.36"/><circle cx="338.01" cy="46.52" r="0.36"/><circle cx="336.57" cy="46.68" r="0.36"/><circle cx="338.74" cy="47.96" r="0.36"/><circle cx="335.85" cy="46.25" r="0.36"/><circle cx="343.11" cy="44.98" r="0.36"/><circle cx="340.60" cy="51.34" r="0.36"/><circle cx="342.84" cy="48.00" r="0.36"/><circle cx="347.31" cy="48.54" r="0.36"/><circle cx="337.71" cy="54.68" r="0.36"/><circle cx="340.02" cy="55.53" r="0.36"/><circle cx="342.56" cy="48.16" r="0.36"/><circle cx="342.24" cy="46.22" r="0.36"/><circle cx="338.72" cy="46.14" r="0.36"/><circle cx="333.41" cy="53.57" r="0.36"/><circle cx="344.32" cy="57.39" r="0.36"/><circle cx="342.49" cy="57.26" r="0.36"/><circle cx="336.89" cy="52.92" r="0.36"/><circle cx="339.99" cy="49.79" r="0.36"/><circle cx="339.71" cy="53.25" r="0.36"/><circle cx="337.20" cy="51.78" r="0.36"/><circle cx="340.44" cy="49.73" r="0.36"/><circle cx="337.23" cy="45.04" r="0.36"/><circle cx="344.46" cy="56.76" r="0.36"/><circle cx="339.00" cy="54.16" r="0.36"/><circle cx="338.84" cy="45.87" r="0.36"/><circle cx="346.40" cy="45.61" r="0.36"/><circle cx="346.41" cy="52.67" r="0.36"/><circle cx="340.33" cy="47.30" r="0.36"/><circle cx="337.06" cy="48.54" r="0.36"/><circle cx="341.23" cy="48.82" r="0.36"/><circle cx="337.58" cy="47.53" r="0.36"/><circle cx="338.44" cy="44.97" r="0.36"/><circle cx="334.29" cy="56.87" r="0.36"/><circle cx="336.17" cy="50.97" r="0.36"/><circle cx="344.97" cy="48.50" r="0.36"/><circle cx="342.61" cy="49.98" r="0.36"/><circle cx="345.27" cy="49.12" r="0.36"/><circle cx="346.00" cy="55.71" r="0.36"/><circle cx="335.21" cy="56.69" r="0.36"/><circle cx="341.96" cy="45.32" r="0.36"/><circle cx="342.73" cy="47.96" r="0.36"/><circle cx="334.83" cy="49.57" r="0.36"/><circle cx="338.09" cy="51.47" r="0.36"/><circle cx="341.00" cy="53.59" r="0.36"/><circle cx="341.43" cy="48.02" r="0.36"/><circle cx="334.59" cy="47.53" r="0.36"/><circle cx="338.18" cy="52.89" r="0.36"/><circle cx="332.83" cy="54.30" r="0.36"/><circle cx="347.90" cy="58.31" r="0.36"/><circle cx="340.33" cy="50.82" r="0.36"/><circle cx="348.11" cy="52.96" r="0.36"/><circle cx="335.40" cy="53.28" r="0.36"/><circle cx="342.70" cy="47.31" r="0.36"/><circle cx="341.49" cy="52.98" r="0.36"/></g>
<path d="M333.00,59.20 C333.00,47.00 346.00,47.00 346.00,59.20" fill="none" stroke="#aaa" stroke-width="0.45"/>
<path d="M335.50,59.20 C335.50,51.00 343.50,51.00 343.50,59.20" fill="none" stroke="#999" stroke-width="0.45"/>
<g filter="url(#bl)">
<ellipse cx="338.30" cy="64.30" rx="7.70" ry="4.75" fill="#8c8c8c"/>
<ellipse cx="338.30" cy="64.30" rx="6.50" ry="3.90" fill="#444444"/>
<ellipse cx="338.40" cy="64.30" rx="4.90" ry="2.90" fill="#262626"/>
<ellipse cx="338.20" cy="64.20" rx="2.20" ry="1.20" fill="#505050"/>
</g>
<rect x="331.10" y="41.30" width="18.50" height="17.90" fill="none" stroke="#7a7a7a" stroke-width="0.75"/>
<text x="316.00" y="51.00" font-size="5.4" fill="#111" stroke="#111" stroke-width="0.08">5.51</text>
<rect x="372.90" y="37.00" width="42.80" height="42.50" fill="#fff" stroke="#333" stroke-width="0.85"/>
<path d="M371.70,38.42h1.2M371.70,39.83h1.2M371.70,41.25h1.2M371.70,42.67h1.2M371.70,44.08h1.2M371.70,45.50h1.2M371.70,46.92h1.2M371.70,48.33h1.2M371.70,49.75h1.2M371.70,51.17h1.2M371.70,52.58h1.2M371.70,54.00h1.2M371.70,55.42h1.2M371.70,56.83h1.2M371.70,58.25h1.2M371.70,59.67h1.2M371.70,61.08h1.2M371.70,62.50h1.2M371.70,63.92h1.2M371.70,65.33h1.2M371.70,66.75h1.2M371.70,68.17h1.2M371.70,69.58h1.2M371.70,71.00h1.2M371.70,72.42h1.2M371.70,73.83h1.2M371.70,75.25h1.2M371.70,76.67h1.2M371.70,78.08h1.2M374.33,79.50v1.2M375.75,79.50v1.2M377.18,79.50v1.2M378.61,79.50v1.2M380.03,79.50v1.2M381.46,79.50v1.2M382.89,79.50v1.2M384.31,79.50v1.2M385.74,79.50v1.2M387.17,79.50v1.2M388.59,79.50v1.2M390.02,79.50v1.2M391.45,79.50v1.2M392.87,79.50v1.2M394.30,79.50v1.2M395.73,79.50v1.2M397.15,79.50v1.2M398.58,79.50v1.2M400.01,79.50v1.2M401.43,79.50v1.2M402.86,79.50v1.2M404.29,79.50v1.2M405.71,79.50v1.2M407.14,79.50v1.2M408.57,79.50v1.2M409.99,79.50v1.2M411.42,79.50v1.2M412.85,79.50v1.2M414.27,79.50v1.2" fill="none" stroke="#333" stroke-width="0.45"/>
<path d="M370.90,37.81h2M370.90,46.69h2M370.90,55.91h2M370.90,66.54h2M370.90,77.03h2M376.45,79.50v2M386.38,79.50v2M396.78,79.50v2M406.58,79.50v2M414.93,79.50v2" fill="none" stroke="#000" stroke-width="0.9"/>
<line x1="372.90" y1="36.60" x2="372.90" y2="79.90" stroke="#000" stroke-width="1.1"/>
<line x1="372.50" y1="79.50" x2="416.10" y2="79.50" stroke="#000" stroke-width="1.1"/>
<rect x="371.10" y="65.34" width="1.80" height="2.40" fill="#000"/>
<rect x="385.18" y="79.50" width="2.40" height="1.80" fill="#000"/>
<text x="367.90" y="39.41" font-size="5" text-anchor="end" fill="#2a2a2a">10<tspan dy="-2.2" font-size="3.2">6</tspan></text>
<text x="367.90" y="48.29" font-size="5" text-anchor="end" fill="#2a2a2a">10<tspan dy="-2.2" font-size="3.2">5</tspan></text>
<text x="367.90" y="57.51" font-size="5" text-anchor="end" fill="#2a2a2a">10<tspan dy="-2.2" font-size="3.2">4</tspan></text>
<text x="367.40" y="68.14" font-size="5" text-anchor="end" fill="#2a2a2a" stroke="#2a2a2a" stroke-width="0.08">0</text>
<text x="367.90" y="78.63" font-size="5" text-anchor="end" fill="#2a2a2a">-10<tspan dy="-2.2" font-size="3.2">4</tspan></text>
<text x="375.85" y="89.50" font-size="5" text-anchor="middle" fill="#2a2a2a">-10<tspan dy="-2.2" font-size="3.2">4</tspan></text>
<text x="386.38" y="89.50" font-size="5" text-anchor="middle" fill="#2a2a2a" stroke="#2a2a2a" stroke-width="0.08">0</text>
<text x="396.18" y="89.50" font-size="5" text-anchor="middle" fill="#2a2a2a">10<tspan dy="-2.2" font-size="3.2">4</tspan></text>
<text x="405.98" y="89.50" font-size="5" text-anchor="middle" fill="#2a2a2a">10<tspan dy="-2.2" font-size="3.2">5</tspan></text>
<text x="414.33" y="89.50" font-size="5" text-anchor="middle" fill="#2a2a2a">10<tspan dy="-2.2" font-size="3.2">6</tspan></text>
<text x="394.30" y="32.50" font-size="7.4" text-anchor="middle" fill="#111" stroke="#111" stroke-width="0.08">Colon</text>
<g fill="#a5a5a5"><circle cx="401.05" cy="54.53" r="0.36"/><circle cx="410.18" cy="57.43" r="0.36"/><circle cx="407.09" cy="48.17" r="0.36"/><circle cx="404.99" cy="55.91" r="0.36"/><circle cx="406.45" cy="47.97" r="0.36"/><circle cx="402.96" cy="47.06" r="0.36"/><circle cx="395.94" cy="56.57" r="0.36"/><circle cx="404.91" cy="52.62" r="0.36"/><circle cx="407.63" cy="50.25" r="0.36"/><circle cx="402.99" cy="55.63" r="0.36"/><circle cx="409.49" cy="47.21" r="0.36"/><circle cx="396.00" cy="52.84" r="0.36"/><circle cx="398.00" cy="50.47" r="0.36"/><circle cx="400.87" cy="45.08" r="0.36"/><circle cx="400.75" cy="48.70" r="0.36"/><circle cx="411.04" cy="51.41" r="0.36"/><circle cx="402.96" cy="49.81" r="0.36"/><circle cx="402.76" cy="47.62" r="0.36"/><circle cx="398.40" cy="49.02" r="0.36"/><circle cx="403.27" cy="51.73" r="0.36"/><circle cx="401.62" cy="55.77" r="0.36"/><circle cx="402.79" cy="51.18" r="0.36"/><circle cx="398.36" cy="49.23" r="0.36"/><circle cx="404.35" cy="45.29" r="0.36"/><circle cx="406.75" cy="46.11" r="0.36"/><circle cx="408.18" cy="49.52" r="0.36"/><circle cx="400.38" cy="58.42" r="0.36"/><circle cx="406.11" cy="57.85" r="0.36"/><circle cx="406.28" cy="50.65" r="0.36"/><circle cx="401.77" cy="46.38" r="0.36"/><circle cx="407.86" cy="48.59" r="0.36"/><circle cx="408.83" cy="49.82" r="0.36"/><circle cx="401.91" cy="45.68" r="0.36"/><circle cx="395.54" cy="53.42" r="0.36"/><circle cx="409.19" cy="47.17" r="0.36"/><circle cx="399.37" cy="52.06" r="0.36"/><circle cx="401.30" cy="47.80" r="0.36"/><circle cx="403.26" cy="58.60" r="0.36"/><circle cx="404.01" cy="57.85" r="0.36"/><circle cx="405.38" cy="51.22" r="0.36"/><circle cx="399.24" cy="48.53" r="0.36"/><circle cx="402.07" cy="49.18" r="0.36"/><circle cx="395.18" cy="54.00" r="0.36"/><circle cx="404.67" cy="52.57" r="0.36"/><circle cx="409.64" cy="55.99" r="0.36"/><circle cx="398.68" cy="53.07" r="0.36"/><circle cx="396.94" cy="53.01" r="0.36"/><circle cx="401.76" cy="55.27" r="0.36"/><circle cx="405.62" cy="59.67" r="0.36"/><circle cx="404.00" cy="51.74" r="0.36"/><circle cx="406.35" cy="56.15" r="0.36"/><circle cx="403.52" cy="52.54" r="0.36"/><circle cx="404.11" cy="57.23" r="0.36"/><circle cx="401.18" cy="56.20" r="0.36"/><circle cx="403.12" cy="59.08" r="0.36"/><circle cx="397.32" cy="51.91" r="0.36"/><circle cx="407.81" cy="58.41" r="0.36"/><circle cx="402.17" cy="52.55" r="0.36"/><circle cx="403.43" cy="45.22" r="0.36"/><circle cx="407.74" cy="55.35" r="0.36"/><circle cx="406.30" cy="56.26" r="0.36"/><circle cx="401.86" cy="49.53" r="0.36"/><circle cx="405.38" cy="58.39" r="0.36"/><circle cx="402.00" cy="48.17" r="0.36"/><circle cx="410.49" cy="51.67" r="0.36"/><circle cx="402.26" cy="45.61" r="0.36"/><circle cx="406.52" cy="54.60" r="0.36"/><circle cx="400.85" cy="47.07" r="0.36"/><circle cx="399.36" cy="57.54" r="0.36"/><circle cx="407.91" cy="48.75" r="0.36"/><circle cx="401.49" cy="59.63" r="0.36"/><circle cx="405.95" cy="58.89" r="0.36"/><circle cx="404.88" cy="58.74" r="0.36"/><circle cx="396.17" cy="58.35" r="0.36"/><circle cx="397.61" cy="45.11" r="0.36"/><circle cx="403.82" cy="45.80" r="0.36"/><circle cx="405.58" cy="45.52" r="0.36"/><circle cx="403.71" cy="49.74" r="0.36"/><circle cx="405.19" cy="45.45" r="0.36"/><circle cx="404.45" cy="46.63" r="0.36"/><circle cx="399.26" cy="57.15" r="0.36"/><circle cx="405.15" cy="48.78" r="0.36"/><circle cx="405.34" cy="45.66" r="0.36"/><circle cx="408.26" cy="48.09" r="0.36"/><circle cx="395.83" cy="46.81" r="0.36"/><circle cx="399.57" cy="53.13" r="0.36"/><circle cx="404.00" cy="52.38" r="0.36"/><circle cx="410.35" cy="51.45" r="0.36"/><circle cx="406.76" cy="54.55" r="0.36"/><circle cx="408.50" cy="49.76" r="0.36"/></g>
<g filter="url(#bl)">
<ellipse cx="401.80" cy="65.60" rx="8.10" ry="5.00" fill="#8c8c8c"/>
<ellipse cx="401.80" cy="65.60" rx="6.90" ry="4.10" fill="#444444"/>
<ellipse cx="401.80" cy="65.60" rx="5.20" ry="3.00" fill="#262626"/>
<ellipse cx="401.80" cy="65.50" rx="2.30" ry="1.30" fill="#505050"/>
</g>
<rect x="393.60" y="41.40" width="18.20" height="18.30" fill="none" stroke="#7a7a7a" stroke-width="0.75"/>
<text x="380.80" y="51.00" font-size="5.4" fill="#111" stroke="#111" stroke-width="0.08">2.78</text>
<rect x="311.00" y="98.10" width="43.20" height="42.60" fill="#fff" stroke="#333" stroke-width="0.85"/>
<path d="M309.80,99.52h1.2M309.80,100.94h1.2M309.80,102.36h1.2M309.80,103.78h1.2M309.80,105.20h1.2M309.80,106.62h1.2M309.80,108.04h1.2M309.80,109.46h1.2M309.80,110.88h1.2M309.80,112.30h1.2M309.80,113.72h1.2M309.80,115.14h1.2M309.80,116.56h1.2M309.80,117.98h1.2M309.80,119.40h1.2M309.80,120.82h1.2M309.80,122.24h1.2M309.80,123.66h1.2M309.80,125.08h1.2M309.80,126.50h1.2M309.80,127.92h1.2M309.80,129.34h1.2M309.80,130.76h1.2M309.80,132.18h1.2M309.80,133.60h1.2M309.80,135.02h1.2M309.80,136.44h1.2M309.80,137.86h1.2M309.80,139.28h1.2M312.44,140.70v1.2M313.88,140.70v1.2M315.32,140.70v1.2M316.76,140.70v1.2M318.20,140.70v1.2M319.64,140.70v1.2M321.08,140.70v1.2M322.52,140.70v1.2M323.96,140.70v1.2M325.40,140.70v1.2M326.84,140.70v1.2M328.28,140.70v1.2M329.72,140.70v1.2M331.16,140.70v1.2M332.60,140.70v1.2M334.04,140.70v1.2M335.48,140.70v1.2M336.92,140.70v1.2M338.36,140.70v1.2M339.80,140.70v1.2M341.24,140.70v1.2M342.68,140.70v1.2M344.12,140.70v1.2M345.56,140.70v1.2M347.00,140.70v1.2M348.44,140.70v1.2M349.88,140.70v1.2M351.32,140.70v1.2M352.76,140.70v1.2" fill="none" stroke="#333" stroke-width="0.45"/>
<path d="M309.00,98.91h2M309.00,107.81h2M309.00,117.06h2M309.00,127.71h2M309.00,138.23h2M314.59,140.70v2M324.61,140.70v2M335.11,140.70v2M345.00,140.70v2M353.42,140.70v2" fill="none" stroke="#000" stroke-width="0.9"/>
<line x1="311.00" y1="97.70" x2="311.00" y2="141.10" stroke="#000" stroke-width="1.1"/>
<line x1="310.60" y1="140.70" x2="354.60" y2="140.70" stroke="#000" stroke-width="1.1"/>
<rect x="309.20" y="126.51" width="1.80" height="2.40" fill="#000"/>
<rect x="323.41" y="140.70" width="2.40" height="1.80" fill="#000"/>
<text x="306.00" y="100.51" font-size="5" text-anchor="end" fill="#2a2a2a">10<tspan dy="-2.2" font-size="3.2">6</tspan></text>
<text x="306.00" y="109.41" font-size="5" text-anchor="end" fill="#2a2a2a">10<tspan dy="-2.2" font-size="3.2">5</tspan></text>
<text x="306.00" y="118.66" font-size="5" text-anchor="end" fill="#2a2a2a">10<tspan dy="-2.2" font-size="3.2">4</tspan></text>
<text x="305.50" y="129.31" font-size="5" text-anchor="end" fill="#2a2a2a" stroke="#2a2a2a" stroke-width="0.08">0</text>
<text x="306.00" y="139.83" font-size="5" text-anchor="end" fill="#2a2a2a">-10<tspan dy="-2.2" font-size="3.2">4</tspan></text>
<text x="313.99" y="150.70" font-size="5" text-anchor="middle" fill="#2a2a2a">-10<tspan dy="-2.2" font-size="3.2">4</tspan></text>
<text x="324.61" y="150.70" font-size="5" text-anchor="middle" fill="#2a2a2a" stroke="#2a2a2a" stroke-width="0.08">0</text>
<text x="334.51" y="150.70" font-size="5" text-anchor="middle" fill="#2a2a2a">10<tspan dy="-2.2" font-size="3.2">4</tspan></text>
<text x="344.40" y="150.70" font-size="5" text-anchor="middle" fill="#2a2a2a">10<tspan dy="-2.2" font-size="3.2">5</tspan></text>
<text x="352.82" y="150.70" font-size="5" text-anchor="middle" fill="#2a2a2a">10<tspan dy="-2.2" font-size="3.2">6</tspan></text>
<g fill="#a5a5a5"><circle cx="336.54" cy="109.19" r="0.36"/><circle cx="343.15" cy="117.24" r="0.36"/><circle cx="343.25" cy="109.19" r="0.36"/><circle cx="340.03" cy="108.58" r="0.36"/><circle cx="341.59" cy="109.62" r="0.36"/><circle cx="340.80" cy="107.51" r="0.36"/><circle cx="344.69" cy="110.07" r="0.36"/><circle cx="333.87" cy="112.68" r="0.36"/><circle cx="339.21" cy="106.85" r="0.36"/><circle cx="335.72" cy="113.83" r="0.36"/><circle cx="346.89" cy="118.13" r="0.36"/><circle cx="340.68" cy="111.05" r="0.36"/><circle cx="340.42" cy="109.98" r="0.36"/><circle cx="342.01" cy="115.80" r="0.36"/><circle cx="340.11" cy="110.04" r="0.36"/><circle cx="342.15" cy="110.82" r="0.36"/><circle cx="339.65" cy="105.99" r="0.36"/><circle cx="335.03" cy="116.13" r="0.36"/><circle cx="338.22" cy="108.29" r="0.36"/><circle cx="340.58" cy="110.57" r="0.36"/><circle cx="333.81" cy="116.66" r="0.36"/><circle cx="347.33" cy="116.84" r="0.36"/><circle cx="343.94" cy="117.99" r="0.36"/><circle cx="342.97" cy="119.84" r="0.36"/><circle cx="339.09" cy="106.89" r="0.36"/><circle cx="335.98" cy="118.50" r="0.36"/><circle cx="339.98" cy="107.68" r="0.36"/><circle cx="335.66" cy="110.43" r="0.36"/><circle cx="335.54" cy="107.16" r="0.36"/><circle cx="335.79" cy="114.18" r="0.36"/><circle cx="336.23" cy="118.02" r="0.36"/><circle cx="334.79" cy="107.61" r="0.36"/><circle cx="334.69" cy="116.36" r="0.36"/><circle cx="333.54" cy="111.45" r="0.36"/><circle cx="341.34" cy="118.67" r="0.36"/><circle cx="337.86" cy="114.18" r="0.36"/><circle cx="339.64" cy="111.27" r="0.36"/><circle cx="335.25" cy="108.87" r="0.36"/><circle cx="341.94" cy="110.55" r="0.36"/><circle cx="341.96" cy="112.95" r="0.36"/><circle cx="341.20" cy="117.05" r="0.36"/><circle cx="338.63" cy="106.43" r="0.36"/><circle cx="333.94" cy="105.76" r="0.36"/><circle cx="343.57" cy="110.47" r="0.36"/><circle cx="337.38" cy="113.12" r="0.36"/><circle cx="345.20" cy="106.23" r="0.36"/><circle cx="334.01" cy="112.20" r="0.36"/><circle cx="345.01" cy="106.56" r="0.36"/><circle cx="342.09" cy="115.00" r="0.36"/><circle cx="338.21" cy="118.30" r="0.36"/><circle cx="338.39" cy="109.04" r="0.36"/><circle cx="343.63" cy="110.11" r="0.36"/><circle cx="339.37" cy="119.44" r="0.36"/><circle cx="336.24" cy="112.93" r="0.36"/><circle cx="339.15" cy="114.20" r="0.36"/><circle cx="332.14" cy="115.07" r="0.36"/><circle cx="337.93" cy="118.16" r="0.36"/><circle cx="344.50" cy="118.66" r="0.36"/><circle cx="340.10" cy="117.26" r="0.36"/><circle cx="335.20" cy="105.88" r="0.36"/><circle cx="341.41" cy="105.84" r="0.36"/><circle cx="336.23" cy="117.11" r="0.36"/><circle cx="334.29" cy="114.69" r="0.36"/><circle cx="340.56" cy="111.41" r="0.36"/><circle cx="341.59" cy="113.98" r="0.36"/><circle cx="336.89" cy="112.50" r="0.36"/><circle cx="340.38" cy="106.97" r="0.36"/><circle cx="335.90" cy="115.77" r="0.36"/><circle cx="341.17" cy="107.97" r="0.36"/><circle cx="339.63" cy="111.56" r="0.36"/><circle cx="340.12" cy="111.49" r="0.36"/><circle cx="340.80" cy="116.40" r="0.36"/><circle cx="341.41" cy="108.23" r="0.36"/><circle cx="341.23" cy="105.85" r="0.36"/><circle cx="340.25" cy="120.13" r="0.36"/><circle cx="338.81" cy="112.93" r="0.36"/><circle cx="340.54" cy="111.36" r="0.36"/><circle cx="338.06" cy="118.34" r="0.36"/><circle cx="341.71" cy="108.03" r="0.36"/><circle cx="339.42" cy="113.13" r="0.36"/><circle cx="340.72" cy="112.97" r="0.36"/><circle cx="335.93" cy="110.27" r="0.36"/><circle cx="333.29" cy="107.94" r="0.36"/><circle cx="344.56" cy="115.69" r="0.36"/><circle cx="343.56" cy="108.18" r="0.36"/><circle cx="341.89" cy="111.86" r="0.36"/><circle cx="334.55" cy="115.19" r="0.36"/><circle cx="346.35" cy="116.99" r="0.36"/><circle cx="339.95" cy="106.85" r="0.36"/><circle cx="335.25" cy="106.74" r="0.36"/></g>
<path d="M333.00,120.40 C333.00,109.00 345.00,109.00 345.00,120.40" fill="none" stroke="#aaa" stroke-width="0.45"/>
<path d="M335.00,120.40 C335.00,113.00 343.00,113.00 343.00,120.40" fill="none" stroke="#999" stroke-width="0.45"/>
<g filter="url(#bl)">
<ellipse cx="337.40" cy="126.30" rx="7.30" ry="4.80" fill="#8c8c8c"/>
<ellipse cx="337.30" cy="126.30" rx="6.10" ry="3.90" fill="#444444"/>
<ellipse cx="337.20" cy="126.30" rx="4.60" ry="2.90" fill="#262626"/>
<ellipse cx="337.20" cy="126.20" rx="2.00" ry="1.20" fill="#505050"/>
</g>
<rect x="331.00" y="102.70" width="18.40" height="17.70" fill="none" stroke="#7a7a7a" stroke-width="0.75"/>
<text x="315.60" y="111.00" font-size="5.4" fill="#111" stroke="#111" stroke-width="0.08">5.29</text>
<rect x="372.70" y="98.10" width="43.20" height="42.90" fill="#fff" stroke="#333" stroke-width="0.85"/>
<path d="M371.50,99.53h1.2M371.50,100.96h1.2M371.50,102.39h1.2M371.50,103.82h1.2M371.50,105.25h1.2M371.50,106.68h1.2M371.50,108.11h1.2M371.50,109.54h1.2M371.50,110.97h1.2M371.50,112.40h1.2M371.50,113.83h1.2M371.50,115.26h1.2M371.50,116.69h1.2M371.50,118.12h1.2M371.50,119.55h1.2M371.50,120.98h1.2M371.50,122.41h1.2M371.50,123.84h1.2M371.50,125.27h1.2M371.50,126.70h1.2M371.50,128.13h1.2M371.50,129.56h1.2M371.50,130.99h1.2M371.50,132.42h1.2M371.50,133.85h1.2M371.50,135.28h1.2M371.50,136.71h1.2M371.50,138.14h1.2M371.50,139.57h1.2M374.14,141.00v1.2M375.58,141.00v1.2M377.02,141.00v1.2M378.46,141.00v1.2M379.90,141.00v1.2M381.34,141.00v1.2M382.78,141.00v1.2M384.22,141.00v1.2M385.66,141.00v1.2M387.10,141.00v1.2M388.54,141.00v1.2M389.98,141.00v1.2M391.42,141.00v1.2M392.86,141.00v1.2M394.30,141.00v1.2M395.74,141.00v1.2M397.18,141.00v1.2M398.62,141.00v1.2M400.06,141.00v1.2M401.50,141.00v1.2M402.94,141.00v1.2M404.38,141.00v1.2M405.82,141.00v1.2M407.26,141.00v1.2M408.70,141.00v1.2M410.14,141.00v1.2M411.58,141.00v1.2M413.02,141.00v1.2M414.46,141.00v1.2" fill="none" stroke="#333" stroke-width="0.45"/>
<path d="M370.70,98.92h2M370.70,107.88h2M370.70,117.19h2M370.70,127.92h2M370.70,138.51h2M376.29,141.00v2M386.31,141.00v2M396.81,141.00v2M406.70,141.00v2M415.12,141.00v2" fill="none" stroke="#000" stroke-width="0.9"/>
<line x1="372.70" y1="97.70" x2="372.70" y2="141.40" stroke="#000" stroke-width="1.1"/>
<line x1="372.30" y1="141.00" x2="416.30" y2="141.00" stroke="#000" stroke-width="1.1"/>
<rect x="370.90" y="126.72" width="1.80" height="2.40" fill="#000"/>
<rect x="385.11" y="141.00" width="2.40" height="1.80" fill="#000"/>
<text x="367.70" y="100.52" font-size="5" text-anchor="end" fill="#2a2a2a">10<tspan dy="-2.2" font-size="3.2">6</tspan></text>
<text x="367.70" y="109.48" font-size="5" text-anchor="end" fill="#2a2a2a">10<tspan dy="-2.2" font-size="3.2">5</tspan></text>
<text x="367.70" y="118.79" font-size="5" text-anchor="end" fill="#2a2a2a">10<tspan dy="-2.2" font-size="3.2">4</tspan></text>
<text x="367.20" y="129.52" font-size="5" text-anchor="end" fill="#2a2a2a" stroke="#2a2a2a" stroke-width="0.08">0</text>
<text x="367.70" y="140.11" font-size="5" text-anchor="end" fill="#2a2a2a">-10<tspan dy="-2.2" font-size="3.2">4</tspan></text>
<text x="375.69" y="151.00" font-size="5" text-anchor="middle" fill="#2a2a2a">-10<tspan dy="-2.2" font-size="3.2">4</tspan></text>
<text x="386.31" y="151.00" font-size="5" text-anchor="middle" fill="#2a2a2a" stroke="#2a2a2a" stroke-width="0.08">0</text>
<text x="396.21" y="151.00" font-size="5" text-anchor="middle" fill="#2a2a2a">10<tspan dy="-2.2" font-size="3.2">4</tspan></text>
<text x="406.10" y="151.00" font-size="5" text-anchor="middle" fill="#2a2a2a">10<tspan dy="-2.2" font-size="3.2">5</tspan></text>
<text x="414.52" y="151.00" font-size="5" text-anchor="middle" fill="#2a2a2a">10<tspan dy="-2.2" font-size="3.2">6</tspan></text>
<g fill="#a5a5a5"><circle cx="403.79" cy="107.41" r="0.36"/><circle cx="400.62" cy="108.73" r="0.36"/><circle cx="400.81" cy="112.32" r="0.36"/><circle cx="405.73" cy="117.20" r="0.36"/><circle cx="406.48" cy="106.69" r="0.36"/><circle cx="400.30" cy="111.96" r="0.36"/><circle cx="404.86" cy="113.14" r="0.36"/><circle cx="395.98" cy="108.85" r="0.36"/><circle cx="406.30" cy="117.44" r="0.36"/><circle cx="398.91" cy="115.05" r="0.36"/><circle cx="402.60" cy="108.29" r="0.36"/><circle cx="406.57" cy="108.57" r="0.36"/><circle cx="400.21" cy="119.74" r="0.36"/><circle cx="399.26" cy="111.61" r="0.36"/><circle cx="401.54" cy="115.55" r="0.36"/><circle cx="404.22" cy="109.96" r="0.36"/><circle cx="402.22" cy="110.45" r="0.36"/><circle cx="394.81" cy="114.26" r="0.36"/><circle cx="402.49" cy="107.05" r="0.36"/><circle cx="405.47" cy="110.76" r="0.36"/><circle cx="404.58" cy="114.10" r="0.36"/><circle cx="399.83" cy="115.68" r="0.36"/><circle cx="405.13" cy="107.16" r="0.36"/><circle cx="401.85" cy="113.97" r="0.36"/><circle cx="405.10" cy="115.52" r="0.36"/><circle cx="404.42" cy="106.82" r="0.36"/><circle cx="403.40" cy="118.76" r="0.36"/><circle cx="406.09" cy="118.75" r="0.36"/><circle cx="402.71" cy="112.22" r="0.36"/><circle cx="396.76" cy="110.91" r="0.36"/><circle cx="405.34" cy="108.68" r="0.36"/><circle cx="403.07" cy="107.04" r="0.36"/><circle cx="402.40" cy="118.94" r="0.36"/><circle cx="407.71" cy="115.72" r="0.36"/><circle cx="405.43" cy="111.97" r="0.36"/><circle cx="403.55" cy="107.08" r="0.36"/><circle cx="405.32" cy="117.63" r="0.36"/><circle cx="402.12" cy="106.68" r="0.36"/><circle cx="401.94" cy="110.38" r="0.36"/><circle cx="400.90" cy="119.23" r="0.36"/><circle cx="403.87" cy="109.37" r="0.36"/><circle cx="404.66" cy="108.62" r="0.36"/><circle cx="409.68" cy="108.02" r="0.36"/><circle cx="405.68" cy="112.12" r="0.36"/><circle cx="405.99" cy="114.11" r="0.36"/><circle cx="404.56" cy="106.74" r="0.36"/><circle cx="404.56" cy="115.53" r="0.36"/><circle cx="404.86" cy="117.92" r="0.36"/><circle cx="404.35" cy="114.52" r="0.36"/><circle cx="402.12" cy="116.86" r="0.36"/><circle cx="410.33" cy="107.28" r="0.36"/><circle cx="402.77" cy="116.04" r="0.36"/><circle cx="407.29" cy="114.49" r="0.36"/><circle cx="401.91" cy="110.03" r="0.36"/><circle cx="406.66" cy="115.07" r="0.36"/><circle cx="403.37" cy="109.50" r="0.36"/><circle cx="400.01" cy="109.10" r="0.36"/><circle cx="401.37" cy="112.07" r="0.36"/><circle cx="396.17" cy="113.31" r="0.36"/><circle cx="401.25" cy="116.73" r="0.36"/><circle cx="408.94" cy="111.37" r="0.36"/><circle cx="399.52" cy="117.06" r="0.36"/><circle cx="403.84" cy="107.01" r="0.36"/><circle cx="400.88" cy="115.75" r="0.36"/><circle cx="406.42" cy="113.75" r="0.36"/><circle cx="403.35" cy="108.05" r="0.36"/><circle cx="403.31" cy="108.08" r="0.36"/><circle cx="407.44" cy="108.96" r="0.36"/><circle cx="402.72" cy="112.24" r="0.36"/><circle cx="406.11" cy="109.29" r="0.36"/><circle cx="405.53" cy="113.33" r="0.36"/><circle cx="399.82" cy="117.59" r="0.36"/><circle cx="401.15" cy="112.48" r="0.36"/><circle cx="401.49" cy="114.23" r="0.36"/><circle cx="405.86" cy="111.28" r="0.36"/><circle cx="407.65" cy="106.82" r="0.36"/><circle cx="400.80" cy="108.48" r="0.36"/><circle cx="406.20" cy="115.45" r="0.36"/><circle cx="402.48" cy="117.98" r="0.36"/><circle cx="402.64" cy="112.55" r="0.36"/></g>
<g filter="url(#bl)">
<ellipse cx="402.30" cy="127.00" rx="9.60" ry="6.00" fill="#b8b8b8"/>
<ellipse cx="402.80" cy="127.00" rx="8.20" ry="4.90" fill="#707070"/>
<ellipse cx="403.30" cy="127.00" rx="6.40" ry="3.90" fill="#363636"/>
<ellipse cx="403.60" cy="127.00" rx="4.50" ry="2.80" fill="#242424"/>
<ellipse cx="403.60" cy="127.00" rx="1.80" ry="1.10" fill="#4a4a4a"/>
</g>
<rect x="393.00" y="102.30" width="18.60" height="18.10" fill="none" stroke="#7a7a7a" stroke-width="0.75"/>
<text x="380.60" y="111.30" font-size="5.4" fill="#111" stroke="#111" stroke-width="0.08">2.29</text>
<circle cx="463.80" cy="9.20" r="1.35" fill="#c4163b"/>
<text x="467.90" y="10.90" font-size="4.9" fill="#222" stroke="#222" stroke-width="0.08" textLength="23.6" lengthAdjust="spacingAndGlyphs">WT Rec-IgG</text>
<circle cx="463.80" cy="16.60" r="1.35" fill="#4f9e2c"/>
<text x="467.90" y="18.30" font-size="4.9" fill="#222" stroke="#222" stroke-width="0.08" textLength="31.8" lengthAdjust="spacingAndGlyphs">WT Rec-anti-IL-2</text>
<text x="467.90" y="23.40" font-size="4.9" fill="#222" stroke="#222" stroke-width="0.08" textLength="12.3" lengthAdjust="spacingAndGlyphs">(S4B6)</text>
<line x1="462.20" y1="30.30" x2="462.20" y2="76.90" stroke="#111" stroke-width="1.2"/>
<line x1="461.60" y1="76.30" x2="506.80" y2="76.30" stroke="#111" stroke-width="1.2"/>
<line x1="459.60" y1="32.80" x2="462.20" y2="32.80" stroke="#111" stroke-width="0.9"/>
<text x="456.50" y="34.65" font-size="5.3" text-anchor="end" fill="#2a2a2a" stroke="#2a2a2a" stroke-width="0.08">15</text>
<line x1="459.60" y1="47.30" x2="462.20" y2="47.30" stroke="#111" stroke-width="0.9"/>
<text x="456.50" y="49.15" font-size="5.3" text-anchor="end" fill="#2a2a2a" stroke="#2a2a2a" stroke-width="0.08">10</text>
<line x1="459.60" y1="61.80" x2="462.20" y2="61.80" stroke="#111" stroke-width="0.9"/>
<text x="456.50" y="63.65" font-size="5.3" text-anchor="end" fill="#2a2a2a" stroke="#2a2a2a" stroke-width="0.08">5</text>
<line x1="459.60" y1="76.30" x2="462.20" y2="76.30" stroke="#111" stroke-width="0.9"/>
<text x="456.50" y="78.15" font-size="5.3" text-anchor="end" fill="#2a2a2a" stroke="#2a2a2a" stroke-width="0.08">0</text>
<line x1="472.70" y1="76.30" x2="472.70" y2="79.30" stroke="#111" stroke-width="1.0"/>
<line x1="496.10" y1="76.30" x2="496.10" y2="79.30" stroke="#111" stroke-width="1.0"/>
<rect x="466.00" y="58.30" width="5.20" height="18.00" fill="#dc8f86" stroke="#cf7d74" stroke-width="0.5"/>
<line x1="468.60" y1="58.30" x2="468.60" y2="53.50" stroke="#c4163b" stroke-width="0.8"/>
<line x1="467.00" y1="53.50" x2="470.20" y2="53.50" stroke="#c4163b" stroke-width="0.8"/>
<circle cx="468.60" cy="52.00" r="1.05" fill="#c4163b"/>
<circle cx="468.60" cy="56.00" r="1.05" fill="#c4163b"/>
<circle cx="468.60" cy="60.00" r="1.05" fill="#c4163b"/>
<circle cx="468.60" cy="65.00" r="1.05" fill="#c4163b"/>
<circle cx="467.10" cy="58.00" r="1.05" fill="#c4163b"/>
<rect x="474.40" y="56.90" width="5.80" height="19.40" fill="#bfdca4" stroke="#a8cf8a" stroke-width="0.5"/>
<line x1="477.30" y1="56.90" x2="477.30" y2="54.00" stroke="#4f9e2c" stroke-width="0.8"/>
<line x1="475.70" y1="54.00" x2="478.90" y2="54.00" stroke="#4f9e2c" stroke-width="0.8"/>
<circle cx="477.30" cy="48.50" r="1.05" fill="#4f9e2c"/>
<circle cx="477.30" cy="54.00" r="1.05" fill="#4f9e2c"/>
<circle cx="475.30" cy="61.00" r="1.05" fill="#4f9e2c"/>
<circle cx="479.30" cy="60.50" r="1.05" fill="#4f9e2c"/>
<circle cx="477.30" cy="58.00" r="1.05" fill="#4f9e2c"/>
<rect x="489.00" y="66.10" width="5.20" height="10.20" fill="#dc8f86" stroke="#cf7d74" stroke-width="0.5"/>
<line x1="491.60" y1="66.10" x2="491.60" y2="64.50" stroke="#c4163b" stroke-width="0.8"/>
<line x1="490.00" y1="64.50" x2="493.20" y2="64.50" stroke="#c4163b" stroke-width="0.8"/>
<circle cx="490.10" cy="65.50" r="1.05" fill="#c4163b"/>
<circle cx="493.60" cy="63.70" r="1.05" fill="#c4163b"/>
<circle cx="491.60" cy="67.00" r="1.05" fill="#c4163b"/>
<circle cx="490.10" cy="67.50" r="1.05" fill="#c4163b"/>
<rect x="498.00" y="70.70" width="5.30" height="5.60" fill="#bfdca4" stroke="#a8cf8a" stroke-width="0.5"/>
<line x1="500.65" y1="70.70" x2="500.65" y2="67.50" stroke="#4f9e2c" stroke-width="0.8"/>
<line x1="499.05" y1="67.50" x2="502.25" y2="67.50" stroke="#4f9e2c" stroke-width="0.8"/>
<circle cx="500.65" cy="67.00" r="1.05" fill="#4f9e2c"/>
<circle cx="499.15" cy="70.00" r="1.05" fill="#4f9e2c"/>
<circle cx="502.15" cy="70.00" r="1.05" fill="#4f9e2c"/>
<circle cx="500.65" cy="72.50" r="1.05" fill="#4f9e2c"/>
<circle cx="500.65" cy="75.00" r="1.05" fill="#4f9e2c"/>
<text x="472.70" y="87.30" font-size="5.5" text-anchor="middle" fill="#2a2a2a" stroke="#2a2a2a" stroke-width="0.08">Liver</text>
<text x="496.10" y="87.30" font-size="5.5" text-anchor="middle" fill="#2a2a2a" stroke="#2a2a2a" stroke-width="0.08">Colon</text>
<text x="445.50" y="53.00" font-size="7.6" text-anchor="middle" fill="#2a2a2a" stroke="#2a2a2a" stroke-width="0.08" textLength="56" lengthAdjust="spacingAndGlyphs" transform="rotate(-90 445.50 53.00)">%IL-10<tspan dy="-2.6" font-size="4.5">+</tspan><tspan dy="2.6">Foxp3</tspan><tspan dy="-2.6" font-size="4.5">-</tspan><tspan dy="2.6"> CD4</tspan><tspan dy="-2.6" font-size="4.5">+</tspan><tspan dy="2.6">T</tspan></text>
<line x1="462.60" y1="103.10" x2="462.60" y2="150.40" stroke="#111" stroke-width="1.2"/>
<line x1="462.00" y1="149.80" x2="506.70" y2="149.80" stroke="#111" stroke-width="1.2"/>
<line x1="460.00" y1="106.10" x2="462.60" y2="106.10" stroke="#111" stroke-width="0.9"/>
<text x="456.90" y="107.95" font-size="5.3" text-anchor="end" fill="#2a2a2a" stroke="#2a2a2a" stroke-width="0.08">0.08</text>
<line x1="460.00" y1="117.03" x2="462.60" y2="117.03" stroke="#111" stroke-width="0.9"/>
<text x="456.90" y="118.88" font-size="5.3" text-anchor="end" fill="#2a2a2a" stroke="#2a2a2a" stroke-width="0.08">0.06</text>
<line x1="460.00" y1="127.95" x2="462.60" y2="127.95" stroke="#111" stroke-width="0.9"/>
<text x="456.90" y="129.80" font-size="5.3" text-anchor="end" fill="#2a2a2a" stroke="#2a2a2a" stroke-width="0.08">0.04</text>
<line x1="460.00" y1="138.88" x2="462.60" y2="138.88" stroke="#111" stroke-width="0.9"/>
<text x="456.90" y="140.72" font-size="5.3" text-anchor="end" fill="#2a2a2a" stroke="#2a2a2a" stroke-width="0.08">0.02</text>
<line x1="460.00" y1="149.80" x2="462.60" y2="149.80" stroke="#111" stroke-width="0.9"/>
<text x="456.90" y="151.65" font-size="5.3" text-anchor="end" fill="#2a2a2a" stroke="#2a2a2a" stroke-width="0.08">0.00</text>
<line x1="473.00" y1="149.80" x2="473.00" y2="152.80" stroke="#111" stroke-width="1.0"/>
<line x1="495.90" y1="149.80" x2="495.90" y2="152.80" stroke="#111" stroke-width="1.0"/>
<rect x="466.10" y="143.30" width="4.90" height="6.50" fill="#dc8f86" stroke="#cf7d74" stroke-width="0.5"/>
<line x1="468.55" y1="143.30" x2="468.55" y2="141.50" stroke="#c4163b" stroke-width="0.8"/>
<line x1="466.95" y1="141.50" x2="470.15" y2="141.50" stroke="#c4163b" stroke-width="0.8"/>
<circle cx="466.95" cy="141.50" r="1.05" fill="#c4163b"/>
<circle cx="470.15" cy="141.50" r="1.05" fill="#c4163b"/>
<circle cx="468.55" cy="143.30" r="1.05" fill="#c4163b"/>
<circle cx="466.95" cy="145.00" r="1.05" fill="#c4163b"/>
<circle cx="470.15" cy="145.00" r="1.05" fill="#c4163b"/>
<rect x="474.60" y="138.40" width="5.40" height="11.40" fill="#bfdca4" stroke="#a8cf8a" stroke-width="0.5"/>
<line x1="477.30" y1="138.40" x2="477.30" y2="136.50" stroke="#4f9e2c" stroke-width="0.8"/>
<line x1="475.70" y1="136.50" x2="478.90" y2="136.50" stroke="#4f9e2c" stroke-width="0.8"/>
<circle cx="475.70" cy="136.00" r="1.05" fill="#4f9e2c"/>
<circle cx="478.90" cy="136.00" r="1.05" fill="#4f9e2c"/>
<circle cx="477.30" cy="138.50" r="1.05" fill="#4f9e2c"/>
<circle cx="475.70" cy="141.00" r="1.05" fill="#4f9e2c"/>
<circle cx="478.90" cy="141.00" r="1.05" fill="#4f9e2c"/>
<circle cx="477.30" cy="145.00" r="1.05" fill="#4f9e2c"/>
<rect x="489.30" y="135.10" width="5.50" height="14.70" fill="#dc8f86" stroke="#cf7d74" stroke-width="0.5"/>
<line x1="492.05" y1="135.10" x2="492.05" y2="131.80" stroke="#c4163b" stroke-width="0.8"/>
<line x1="490.45" y1="131.80" x2="493.65" y2="131.80" stroke="#c4163b" stroke-width="0.8"/>
<circle cx="492.05" cy="131.50" r="1.05" fill="#c4163b"/>
<circle cx="490.45" cy="133.50" r="1.05" fill="#c4163b"/>
<circle cx="493.65" cy="133.50" r="1.05" fill="#c4163b"/>
<circle cx="492.05" cy="140.00" r="1.05" fill="#c4163b"/>
<rect x="498.00" y="144.10" width="5.40" height="5.70" fill="#bfdca4" stroke="#a8cf8a" stroke-width="0.5"/>
<line x1="500.70" y1="144.10" x2="500.70" y2="142.50" stroke="#4f9e2c" stroke-width="0.8"/>
<line x1="499.10" y1="142.50" x2="502.30" y2="142.50" stroke="#4f9e2c" stroke-width="0.8"/>
<circle cx="500.70" cy="141.50" r="1.05" fill="#4f9e2c"/>
<circle cx="499.10" cy="143.50" r="1.05" fill="#4f9e2c"/>
<circle cx="502.30" cy="143.50" r="1.05" fill="#4f9e2c"/>
<circle cx="500.70" cy="146.50" r="1.05" fill="#4f9e2c"/>
<text x="473.00" y="160.80" font-size="5.5" text-anchor="middle" fill="#2a2a2a" stroke="#2a2a2a" stroke-width="0.08">Liver</text>
<text x="495.90" y="160.80" font-size="5.5" text-anchor="middle" fill="#2a2a2a" stroke="#2a2a2a" stroke-width="0.08">Colon</text>
<path d="M491.5,128.5 L491.5,126.4 L500.8,126.4 L500.8,128.5" fill="none" stroke="#111" stroke-width="0.8"/>
<circle cx="496.20" cy="124.10" r="0.72" fill="#2a2a2a"/>
<text x="432.80" y="126.50" font-size="7.6" text-anchor="middle" fill="#2a2a2a" stroke="#2a2a2a" stroke-width="0.08" textLength="56.7" lengthAdjust="spacingAndGlyphs" transform="rotate(-90 432.80 126.50)">Yield of IL-10<tspan dy="-2.6" font-size="4.5">+</tspan><tspan dy="2.6"> FOXP3</tspan></text>
<text x="441.50" y="126.40" font-size="7.6" text-anchor="middle" fill="#2a2a2a" stroke="#2a2a2a" stroke-width="0.08" textLength="37.5" lengthAdjust="spacingAndGlyphs" transform="rotate(-90 441.50 126.40)">CD4<tspan dy="-2.6" font-size="4.5">+</tspan><tspan dy="2.6"> T (X10</tspan><tspan dy="-2.6" font-size="4.5">6</tspan><tspan dy="2.6">)</tspan></text>
<text x="6.80" y="188.70" font-size="12" font-weight="bold" stroke="#000" stroke-width="0.3">C</text>
<line x1="31.20" y1="221.00" x2="31.20" y2="294.60" stroke="#222" stroke-width="1.0"/>
<path d="M28.8,222 L31.2,216.4 L33.6,222 Z" fill="#111" stroke="none" stroke-width="1"/>
<text x="23.00" y="253.50" font-size="7.5" text-anchor="middle" fill="#1a1a1a" stroke="#1a1a1a" stroke-width="0.08" textLength="12.4" lengthAdjust="spacingAndGlyphs" transform="rotate(-90 23.00 253.50)">IgG</text>
<text x="13.30" y="297.80" font-size="7.5" text-anchor="middle" fill="#1a1a1a" stroke="#1a1a1a" stroke-width="0.08" textLength="28.2" lengthAdjust="spacingAndGlyphs" transform="rotate(-90 13.30 297.80)">Anti-IL-2</text>
<text x="22.10" y="298.00" font-size="7.5" text-anchor="middle" fill="#1a1a1a" stroke="#1a1a1a" stroke-width="0.08" textLength="40.5" lengthAdjust="spacingAndGlyphs" transform="rotate(-90 22.10 298.00)">(JES6-1A12)</text>
<text x="33.80" y="308.10" font-size="7.0" text-anchor="middle" fill="#333" stroke="#333" stroke-width="0.08" textLength="22" lengthAdjust="spacingAndGlyphs" transform="rotate(-90 33.80 308.10)">IL-10-PE</text>
<text x="49.50" y="336.50" font-size="6.9" fill="#222" stroke="#222" stroke-width="0.08" textLength="29.9" lengthAdjust="spacingAndGlyphs">CD4-BV711</text>
<line x1="84.50" y1="334.50" x2="146.60" y2="334.50" stroke="#333" stroke-width="1.2"/>
<path d="M145.8,331.8 L151.6,334.5 L145.8,337.2 Z" fill="#111" stroke="none" stroke-width="1"/>
<rect x="53.30" y="215.30" width="39.60" height="39.50" fill="#fff" stroke="#333" stroke-width="0.85"/>
<path d="M52.10,216.62h1.2M52.10,217.93h1.2M52.10,219.25h1.2M52.10,220.57h1.2M52.10,221.88h1.2M52.10,223.20h1.2M52.10,224.52h1.2M52.10,225.83h1.2M52.10,227.15h1.2M52.10,228.47h1.2M52.10,229.78h1.2M52.10,231.10h1.2M52.10,232.42h1.2M52.10,233.73h1.2M52.10,235.05h1.2M52.10,236.37h1.2M52.10,237.68h1.2M52.10,239.00h1.2M52.10,240.32h1.2M52.10,241.63h1.2M52.10,242.95h1.2M52.10,244.27h1.2M52.10,245.58h1.2M52.10,246.90h1.2M52.10,248.22h1.2M52.10,249.53h1.2M52.10,250.85h1.2M52.10,252.17h1.2M52.10,253.48h1.2M54.62,254.80v1.2M55.94,254.80v1.2M57.26,254.80v1.2M58.58,254.80v1.2M59.90,254.80v1.2M61.22,254.80v1.2M62.54,254.80v1.2M63.86,254.80v1.2M65.18,254.80v1.2M66.50,254.80v1.2M67.82,254.80v1.2M69.14,254.80v1.2M70.46,254.80v1.2M71.78,254.80v1.2M73.10,254.80v1.2M74.42,254.80v1.2M75.74,254.80v1.2M77.06,254.80v1.2M78.38,254.80v1.2M79.70,254.80v1.2M81.02,254.80v1.2M82.34,254.80v1.2M83.66,254.80v1.2M84.98,254.80v1.2M86.30,254.80v1.2M87.62,254.80v1.2M88.94,254.80v1.2M90.26,254.80v1.2M91.58,254.80v1.2" fill="none" stroke="#333" stroke-width="0.45"/>
<path d="M51.30,216.05h2M51.30,224.31h2M51.30,232.88h2M51.30,242.75h2M51.30,252.51h2M56.59,254.80v2M65.77,254.80v2M75.40,254.80v2M84.47,254.80v2M92.19,254.80v2" fill="none" stroke="#000" stroke-width="0.9"/>
<line x1="53.30" y1="214.90" x2="53.30" y2="255.20" stroke="#000" stroke-width="1.1"/>
<line x1="52.90" y1="254.80" x2="93.30" y2="254.80" stroke="#000" stroke-width="1.1"/>
<rect x="51.50" y="241.55" width="1.80" height="2.40" fill="#000"/>
<rect x="64.57" y="254.80" width="2.40" height="1.80" fill="#000"/>
<text x="48.30" y="217.65" font-size="5" text-anchor="end" fill="#2a2a2a">10<tspan dy="-2.2" font-size="3.2">6</tspan></text>
<text x="48.30" y="225.91" font-size="5" text-anchor="end" fill="#2a2a2a">10<tspan dy="-2.2" font-size="3.2">5</tspan></text>
<text x="48.30" y="234.48" font-size="5" text-anchor="end" fill="#2a2a2a">10<tspan dy="-2.2" font-size="3.2">4</tspan></text>
<text x="47.80" y="244.35" font-size="5" text-anchor="end" fill="#2a2a2a" stroke="#2a2a2a" stroke-width="0.08">0</text>
<text x="48.30" y="254.11" font-size="5" text-anchor="end" fill="#2a2a2a">-10<tspan dy="-2.2" font-size="3.2">4</tspan></text>
<text x="55.99" y="264.80" font-size="5" text-anchor="middle" fill="#2a2a2a">-10<tspan dy="-2.2" font-size="3.2">4</tspan></text>
<text x="65.77" y="264.80" font-size="5" text-anchor="middle" fill="#2a2a2a" stroke="#2a2a2a" stroke-width="0.08">0</text>
<text x="74.80" y="264.80" font-size="5" text-anchor="middle" fill="#2a2a2a">10<tspan dy="-2.2" font-size="3.2">4</tspan></text>
<text x="83.87" y="264.80" font-size="5" text-anchor="middle" fill="#2a2a2a">10<tspan dy="-2.2" font-size="3.2">5</tspan></text>
<text x="91.59" y="264.80" font-size="5" text-anchor="middle" fill="#2a2a2a">10<tspan dy="-2.2" font-size="3.2">6</tspan></text>
<text x="73.10" y="210.80" font-size="7.4" text-anchor="middle" fill="#111" stroke="#111" stroke-width="0.08">Liver</text>
<g fill="#a5a5a5"><circle cx="74.76" cy="227.03" r="0.36"/><circle cx="84.10" cy="232.15" r="0.36"/><circle cx="77.46" cy="229.29" r="0.36"/><circle cx="69.25" cy="228.59" r="0.36"/><circle cx="77.18" cy="229.80" r="0.36"/><circle cx="77.28" cy="230.03" r="0.36"/><circle cx="78.71" cy="224.46" r="0.36"/><circle cx="77.27" cy="224.37" r="0.36"/><circle cx="83.14" cy="230.62" r="0.36"/><circle cx="77.89" cy="233.22" r="0.36"/><circle cx="81.98" cy="228.32" r="0.36"/><circle cx="76.00" cy="224.21" r="0.36"/><circle cx="76.35" cy="226.18" r="0.36"/><circle cx="81.42" cy="228.91" r="0.36"/><circle cx="73.61" cy="230.41" r="0.36"/><circle cx="82.15" cy="224.12" r="0.36"/><circle cx="80.34" cy="227.84" r="0.36"/><circle cx="81.26" cy="230.82" r="0.36"/><circle cx="79.61" cy="227.44" r="0.36"/><circle cx="80.11" cy="231.56" r="0.36"/><circle cx="84.86" cy="232.14" r="0.36"/><circle cx="79.28" cy="223.55" r="0.36"/><circle cx="77.84" cy="228.51" r="0.36"/><circle cx="71.76" cy="224.58" r="0.36"/><circle cx="73.69" cy="223.65" r="0.36"/><circle cx="81.65" cy="234.84" r="0.36"/><circle cx="75.64" cy="224.06" r="0.36"/><circle cx="81.23" cy="223.93" r="0.36"/><circle cx="82.07" cy="232.08" r="0.36"/><circle cx="83.92" cy="235.52" r="0.36"/><circle cx="79.53" cy="237.30" r="0.36"/><circle cx="79.67" cy="224.65" r="0.36"/><circle cx="82.06" cy="230.56" r="0.36"/><circle cx="72.73" cy="228.82" r="0.36"/><circle cx="80.87" cy="226.84" r="0.36"/><circle cx="84.86" cy="226.44" r="0.36"/><circle cx="69.24" cy="235.54" r="0.36"/><circle cx="80.42" cy="222.70" r="0.36"/><circle cx="78.82" cy="230.08" r="0.36"/><circle cx="79.93" cy="223.88" r="0.36"/><circle cx="74.70" cy="230.12" r="0.36"/><circle cx="80.66" cy="227.86" r="0.36"/><circle cx="76.33" cy="230.51" r="0.36"/><circle cx="77.63" cy="235.44" r="0.36"/><circle cx="77.90" cy="223.38" r="0.36"/><circle cx="76.81" cy="228.66" r="0.36"/><circle cx="77.48" cy="232.94" r="0.36"/><circle cx="82.10" cy="229.42" r="0.36"/><circle cx="73.45" cy="232.11" r="0.36"/><circle cx="76.41" cy="222.82" r="0.36"/><circle cx="72.80" cy="233.42" r="0.36"/><circle cx="80.73" cy="231.90" r="0.36"/><circle cx="77.10" cy="228.55" r="0.36"/><circle cx="74.11" cy="227.37" r="0.36"/><circle cx="83.12" cy="223.69" r="0.36"/><circle cx="78.32" cy="224.34" r="0.36"/><circle cx="74.44" cy="236.02" r="0.36"/><circle cx="77.32" cy="229.92" r="0.36"/><circle cx="80.63" cy="224.16" r="0.36"/><circle cx="84.15" cy="233.20" r="0.36"/><circle cx="76.62" cy="223.65" r="0.36"/><circle cx="80.80" cy="233.69" r="0.36"/><circle cx="72.46" cy="236.51" r="0.36"/><circle cx="78.53" cy="224.41" r="0.36"/><circle cx="81.93" cy="224.64" r="0.36"/><circle cx="80.23" cy="230.55" r="0.36"/><circle cx="78.48" cy="233.84" r="0.36"/><circle cx="81.62" cy="226.40" r="0.36"/><circle cx="81.21" cy="231.27" r="0.36"/><circle cx="80.64" cy="229.79" r="0.36"/><circle cx="78.69" cy="228.10" r="0.36"/><circle cx="76.55" cy="226.70" r="0.36"/><circle cx="76.99" cy="225.67" r="0.36"/><circle cx="72.15" cy="230.48" r="0.36"/><circle cx="77.12" cy="227.26" r="0.36"/><circle cx="80.65" cy="224.31" r="0.36"/><circle cx="75.33" cy="229.12" r="0.36"/><circle cx="77.20" cy="223.83" r="0.36"/><circle cx="79.80" cy="226.51" r="0.36"/><circle cx="84.34" cy="222.77" r="0.36"/></g>
<path d="M72.00,237.40 C72.00,222.50 85.00,222.50 85.00,237.40" fill="none" stroke="#999" stroke-width="0.5"/>
<path d="M74.50,237.40 C74.50,225.00 83.50,225.00 83.50,237.40" fill="none" stroke="#777" stroke-width="0.5"/>
<path d="M77.00,237.40 C77.00,229.00 81.50,229.00 81.50,237.40" fill="none" stroke="#777" stroke-width="0.6"/>
<g filter="url(#bl)">
<ellipse cx="76.40" cy="241.00" rx="9.40" ry="2.90" fill="#bdbdbd"/>
<ellipse cx="76.90" cy="241.10" rx="7.60" ry="2.10" fill="#8c8c8c"/>
<ellipse cx="78.00" cy="241.40" rx="4.60" ry="1.20" fill="#5a5a5a"/>
</g>
<rect x="67.30" y="219.50" width="18.50" height="17.90" fill="none" stroke="#7a7a7a" stroke-width="0.75"/>
<text x="55.30" y="221.70" font-size="5.4" fill="#111" stroke="#111" stroke-width="0.08">12.3</text>
<rect x="115.20" y="215.10" width="39.30" height="39.70" fill="#fff" stroke="#333" stroke-width="0.85"/>
<path d="M114.00,216.42h1.2M114.00,217.75h1.2M114.00,219.07h1.2M114.00,220.39h1.2M114.00,221.72h1.2M114.00,223.04h1.2M114.00,224.36h1.2M114.00,225.69h1.2M114.00,227.01h1.2M114.00,228.33h1.2M114.00,229.66h1.2M114.00,230.98h1.2M114.00,232.30h1.2M114.00,233.63h1.2M114.00,234.95h1.2M114.00,236.27h1.2M114.00,237.60h1.2M114.00,238.92h1.2M114.00,240.24h1.2M114.00,241.57h1.2M114.00,242.89h1.2M114.00,244.21h1.2M114.00,245.54h1.2M114.00,246.86h1.2M114.00,248.18h1.2M114.00,249.51h1.2M114.00,250.83h1.2M114.00,252.15h1.2M114.00,253.48h1.2M116.51,254.80v1.2M117.82,254.80v1.2M119.13,254.80v1.2M120.44,254.80v1.2M121.75,254.80v1.2M123.06,254.80v1.2M124.37,254.80v1.2M125.68,254.80v1.2M126.99,254.80v1.2M128.30,254.80v1.2M129.61,254.80v1.2M130.92,254.80v1.2M132.23,254.80v1.2M133.54,254.80v1.2M134.85,254.80v1.2M136.16,254.80v1.2M137.47,254.80v1.2M138.78,254.80v1.2M140.09,254.80v1.2M141.40,254.80v1.2M142.71,254.80v1.2M144.02,254.80v1.2M145.33,254.80v1.2M146.64,254.80v1.2M147.95,254.80v1.2M149.26,254.80v1.2M150.57,254.80v1.2M151.88,254.80v1.2M153.19,254.80v1.2" fill="none" stroke="#333" stroke-width="0.45"/>
<path d="M113.20,215.85h2M113.20,224.15h2M113.20,232.77h2M113.20,242.69h2M113.20,252.50h2M118.46,254.80v2M127.58,254.80v2M137.13,254.80v2M146.13,254.80v2M153.79,254.80v2" fill="none" stroke="#000" stroke-width="0.9"/>
<line x1="115.20" y1="214.70" x2="115.20" y2="255.20" stroke="#000" stroke-width="1.1"/>
<line x1="114.80" y1="254.80" x2="154.90" y2="254.80" stroke="#000" stroke-width="1.1"/>
<rect x="113.40" y="241.49" width="1.80" height="2.40" fill="#000"/>
<rect x="126.38" y="254.80" width="2.40" height="1.80" fill="#000"/>
<text x="110.20" y="217.45" font-size="5" text-anchor="end" fill="#2a2a2a">10<tspan dy="-2.2" font-size="3.2">6</tspan></text>
<text x="110.20" y="225.75" font-size="5" text-anchor="end" fill="#2a2a2a">10<tspan dy="-2.2" font-size="3.2">5</tspan></text>
<text x="110.20" y="234.37" font-size="5" text-anchor="end" fill="#2a2a2a">10<tspan dy="-2.2" font-size="3.2">4</tspan></text>
<text x="109.70" y="244.29" font-size="5" text-anchor="end" fill="#2a2a2a" stroke="#2a2a2a" stroke-width="0.08">0</text>
<text x="110.20" y="254.10" font-size="5" text-anchor="end" fill="#2a2a2a">-10<tspan dy="-2.2" font-size="3.2">4</tspan></text>
<text x="117.86" y="264.80" font-size="5" text-anchor="middle" fill="#2a2a2a">-10<tspan dy="-2.2" font-size="3.2">4</tspan></text>
<text x="127.58" y="264.80" font-size="5" text-anchor="middle" fill="#2a2a2a" stroke="#2a2a2a" stroke-width="0.08">0</text>
<text x="136.53" y="264.80" font-size="5" text-anchor="middle" fill="#2a2a2a">10<tspan dy="-2.2" font-size="3.2">4</tspan></text>
<text x="145.53" y="264.80" font-size="5" text-anchor="middle" fill="#2a2a2a">10<tspan dy="-2.2" font-size="3.2">5</tspan></text>
<text x="153.19" y="264.80" font-size="5" text-anchor="middle" fill="#2a2a2a">10<tspan dy="-2.2" font-size="3.2">6</tspan></text>
<text x="134.85" y="210.60" font-size="7.4" text-anchor="middle" fill="#111" stroke="#111" stroke-width="0.08">Colon</text>
<g fill="#a5a5a5"><circle cx="147.92" cy="230.91" r="0.36"/><circle cx="142.85" cy="233.37" r="0.36"/><circle cx="140.11" cy="226.17" r="0.36"/><circle cx="148.07" cy="227.80" r="0.36"/><circle cx="141.65" cy="229.15" r="0.36"/><circle cx="145.69" cy="228.36" r="0.36"/><circle cx="139.78" cy="228.95" r="0.36"/><circle cx="144.11" cy="227.81" r="0.36"/><circle cx="139.96" cy="234.80" r="0.36"/><circle cx="140.38" cy="225.65" r="0.36"/><circle cx="142.18" cy="224.12" r="0.36"/><circle cx="134.39" cy="224.21" r="0.36"/><circle cx="140.62" cy="224.77" r="0.36"/><circle cx="142.88" cy="225.80" r="0.36"/><circle cx="143.49" cy="226.63" r="0.36"/><circle cx="140.76" cy="225.96" r="0.36"/><circle cx="146.43" cy="228.01" r="0.36"/><circle cx="141.11" cy="232.28" r="0.36"/><circle cx="137.91" cy="230.37" r="0.36"/><circle cx="138.87" cy="234.51" r="0.36"/><circle cx="142.02" cy="226.08" r="0.36"/><circle cx="140.51" cy="233.47" r="0.36"/><circle cx="144.68" cy="230.06" r="0.36"/><circle cx="143.97" cy="227.89" r="0.36"/><circle cx="143.82" cy="229.09" r="0.36"/><circle cx="140.16" cy="233.01" r="0.36"/><circle cx="142.90" cy="234.67" r="0.36"/><circle cx="149.77" cy="228.38" r="0.36"/><circle cx="139.40" cy="228.66" r="0.36"/><circle cx="146.06" cy="230.21" r="0.36"/><circle cx="144.42" cy="231.35" r="0.36"/><circle cx="148.14" cy="223.56" r="0.36"/><circle cx="149.45" cy="229.16" r="0.36"/><circle cx="142.20" cy="229.72" r="0.36"/><circle cx="140.53" cy="227.95" r="0.36"/><circle cx="142.79" cy="232.69" r="0.36"/><circle cx="144.14" cy="223.06" r="0.36"/><circle cx="138.37" cy="224.00" r="0.36"/><circle cx="140.59" cy="234.71" r="0.36"/><circle cx="135.62" cy="232.65" r="0.36"/><circle cx="146.51" cy="229.42" r="0.36"/><circle cx="142.54" cy="225.63" r="0.36"/><circle cx="141.11" cy="233.58" r="0.36"/><circle cx="140.34" cy="228.75" r="0.36"/><circle cx="147.78" cy="230.55" r="0.36"/><circle cx="138.34" cy="228.81" r="0.36"/><circle cx="137.43" cy="226.53" r="0.36"/><circle cx="146.59" cy="232.17" r="0.36"/><circle cx="139.78" cy="228.30" r="0.36"/><circle cx="140.35" cy="235.70" r="0.36"/><circle cx="140.90" cy="233.51" r="0.36"/><circle cx="141.26" cy="225.68" r="0.36"/><circle cx="150.20" cy="228.80" r="0.36"/><circle cx="141.12" cy="226.05" r="0.36"/><circle cx="148.18" cy="230.55" r="0.36"/><circle cx="144.14" cy="225.83" r="0.36"/><circle cx="143.50" cy="223.79" r="0.36"/><circle cx="144.56" cy="223.12" r="0.36"/><circle cx="137.60" cy="225.90" r="0.36"/><circle cx="143.77" cy="233.84" r="0.36"/></g>
<path d="M140.00,236.70 C140.00,229.50 147.00,229.50 147.00,236.70" fill="none" stroke="#777" stroke-width="0.5"/>
<g filter="url(#bl)">
<ellipse cx="141.30" cy="242.70" rx="8.90" ry="5.30" fill="#b0b0b0"/>
<ellipse cx="142.80" cy="242.60" rx="6.90" ry="4.40" fill="#5a5a5a"/>
<ellipse cx="144.00" cy="242.50" rx="5.00" ry="3.50" fill="#2a2a2a"/>
<ellipse cx="144.30" cy="242.40" rx="0.90" ry="0.80" fill="#c8c8c8"/>
</g>
<rect x="133.30" y="219.30" width="17.60" height="17.40" fill="none" stroke="#7a7a7a" stroke-width="0.75"/>
<text x="120.90" y="221.60" font-size="5.4" fill="#111" stroke="#111" stroke-width="0.08">3.61</text>
<rect x="53.80" y="277.40" width="38.80" height="38.40" fill="#fff" stroke="#333" stroke-width="0.85"/>
<path d="M52.60,278.68h1.2M52.60,279.96h1.2M52.60,281.24h1.2M52.60,282.52h1.2M52.60,283.80h1.2M52.60,285.08h1.2M52.60,286.36h1.2M52.60,287.64h1.2M52.60,288.92h1.2M52.60,290.20h1.2M52.60,291.48h1.2M52.60,292.76h1.2M52.60,294.04h1.2M52.60,295.32h1.2M52.60,296.60h1.2M52.60,297.88h1.2M52.60,299.16h1.2M52.60,300.44h1.2M52.60,301.72h1.2M52.60,303.00h1.2M52.60,304.28h1.2M52.60,305.56h1.2M52.60,306.84h1.2M52.60,308.12h1.2M52.60,309.40h1.2M52.60,310.68h1.2M52.60,311.96h1.2M52.60,313.24h1.2M52.60,314.52h1.2M55.09,315.80v1.2M56.39,315.80v1.2M57.68,315.80v1.2M58.97,315.80v1.2M60.27,315.80v1.2M61.56,315.80v1.2M62.85,315.80v1.2M64.15,315.80v1.2M65.44,315.80v1.2M66.73,315.80v1.2M68.03,315.80v1.2M69.32,315.80v1.2M70.61,315.80v1.2M71.91,315.80v1.2M73.20,315.80v1.2M74.49,315.80v1.2M75.79,315.80v1.2M77.08,315.80v1.2M78.37,315.80v1.2M79.67,315.80v1.2M80.96,315.80v1.2M82.25,315.80v1.2M83.55,315.80v1.2M84.84,315.80v1.2M86.13,315.80v1.2M87.43,315.80v1.2M88.72,315.80v1.2M90.01,315.80v1.2M91.31,315.80v1.2" fill="none" stroke="#333" stroke-width="0.45"/>
<path d="M51.80,278.13h2M51.80,286.16h2M51.80,294.49h2M51.80,304.09h2M51.80,313.57h2M57.02,315.80v2M66.02,315.80v2M75.45,315.80v2M84.34,315.80v2M91.90,315.80v2" fill="none" stroke="#000" stroke-width="0.9"/>
<line x1="53.80" y1="277.00" x2="53.80" y2="316.20" stroke="#000" stroke-width="1.1"/>
<line x1="53.40" y1="315.80" x2="93.00" y2="315.80" stroke="#000" stroke-width="1.1"/>
<rect x="52.00" y="302.89" width="1.80" height="2.40" fill="#000"/>
<rect x="64.82" y="315.80" width="2.40" height="1.80" fill="#000"/>
<text x="48.80" y="279.73" font-size="5" text-anchor="end" fill="#2a2a2a">10<tspan dy="-2.2" font-size="3.2">6</tspan></text>
<text x="48.80" y="287.76" font-size="5" text-anchor="end" fill="#2a2a2a">10<tspan dy="-2.2" font-size="3.2">5</tspan></text>
<text x="48.80" y="296.09" font-size="5" text-anchor="end" fill="#2a2a2a">10<tspan dy="-2.2" font-size="3.2">4</tspan></text>
<text x="48.30" y="305.69" font-size="5" text-anchor="end" fill="#2a2a2a" stroke="#2a2a2a" stroke-width="0.08">0</text>
<text x="48.80" y="315.17" font-size="5" text-anchor="end" fill="#2a2a2a">-10<tspan dy="-2.2" font-size="3.2">4</tspan></text>
<text x="56.42" y="325.80" font-size="5" text-anchor="middle" fill="#2a2a2a">-10<tspan dy="-2.2" font-size="3.2">4</tspan></text>
<text x="66.02" y="325.80" font-size="5" text-anchor="middle" fill="#2a2a2a" stroke="#2a2a2a" stroke-width="0.08">0</text>
<text x="74.85" y="325.80" font-size="5" text-anchor="middle" fill="#2a2a2a">10<tspan dy="-2.2" font-size="3.2">4</tspan></text>
<text x="83.74" y="325.80" font-size="5" text-anchor="middle" fill="#2a2a2a">10<tspan dy="-2.2" font-size="3.2">5</tspan></text>
<text x="91.30" y="325.80" font-size="5" text-anchor="middle" fill="#2a2a2a">10<tspan dy="-2.2" font-size="3.2">6</tspan></text>
<g fill="#a5a5a5"><circle cx="75.07" cy="290.28" r="0.36"/><circle cx="71.32" cy="296.02" r="0.36"/><circle cx="69.60" cy="296.45" r="0.36"/><circle cx="69.62" cy="296.42" r="0.36"/><circle cx="82.24" cy="292.43" r="0.36"/><circle cx="84.41" cy="291.50" r="0.36"/><circle cx="77.73" cy="294.34" r="0.36"/><circle cx="81.23" cy="288.21" r="0.36"/><circle cx="78.04" cy="288.24" r="0.36"/><circle cx="84.61" cy="295.85" r="0.36"/><circle cx="79.25" cy="293.35" r="0.36"/><circle cx="82.71" cy="284.85" r="0.36"/><circle cx="83.22" cy="292.46" r="0.36"/><circle cx="72.85" cy="286.88" r="0.36"/><circle cx="80.54" cy="293.37" r="0.36"/><circle cx="68.74" cy="294.96" r="0.36"/><circle cx="80.65" cy="293.09" r="0.36"/><circle cx="75.91" cy="294.87" r="0.36"/><circle cx="79.15" cy="293.54" r="0.36"/><circle cx="72.40" cy="289.89" r="0.36"/><circle cx="76.03" cy="293.93" r="0.36"/><circle cx="83.56" cy="298.72" r="0.36"/><circle cx="78.83" cy="295.42" r="0.36"/><circle cx="77.29" cy="289.95" r="0.36"/><circle cx="85.16" cy="289.51" r="0.36"/><circle cx="77.55" cy="288.71" r="0.36"/><circle cx="72.25" cy="291.91" r="0.36"/><circle cx="81.11" cy="290.88" r="0.36"/><circle cx="84.93" cy="297.13" r="0.36"/><circle cx="75.54" cy="289.22" r="0.36"/><circle cx="80.52" cy="292.78" r="0.36"/><circle cx="77.99" cy="290.89" r="0.36"/><circle cx="78.15" cy="291.17" r="0.36"/><circle cx="77.40" cy="299.08" r="0.36"/><circle cx="78.06" cy="288.11" r="0.36"/><circle cx="78.92" cy="286.09" r="0.36"/><circle cx="77.29" cy="288.54" r="0.36"/><circle cx="73.72" cy="293.70" r="0.36"/><circle cx="78.74" cy="293.70" r="0.36"/><circle cx="76.26" cy="296.52" r="0.36"/><circle cx="77.00" cy="284.93" r="0.36"/><circle cx="81.88" cy="298.27" r="0.36"/><circle cx="77.13" cy="297.44" r="0.36"/><circle cx="71.53" cy="287.65" r="0.36"/><circle cx="76.51" cy="290.77" r="0.36"/><circle cx="83.41" cy="289.13" r="0.36"/><circle cx="81.34" cy="290.71" r="0.36"/><circle cx="79.23" cy="284.96" r="0.36"/><circle cx="78.06" cy="288.53" r="0.36"/><circle cx="73.32" cy="285.39" r="0.36"/><circle cx="81.25" cy="290.06" r="0.36"/><circle cx="71.56" cy="292.42" r="0.36"/><circle cx="79.81" cy="298.62" r="0.36"/><circle cx="77.70" cy="293.69" r="0.36"/><circle cx="74.44" cy="291.26" r="0.36"/><circle cx="73.20" cy="294.45" r="0.36"/><circle cx="82.36" cy="287.66" r="0.36"/><circle cx="75.81" cy="285.02" r="0.36"/><circle cx="78.49" cy="293.22" r="0.36"/><circle cx="78.52" cy="297.95" r="0.36"/><circle cx="83.58" cy="289.38" r="0.36"/><circle cx="79.01" cy="294.69" r="0.36"/><circle cx="80.30" cy="295.72" r="0.36"/><circle cx="77.69" cy="290.87" r="0.36"/><circle cx="76.70" cy="293.17" r="0.36"/><circle cx="78.47" cy="287.80" r="0.36"/><circle cx="73.96" cy="287.57" r="0.36"/><circle cx="84.37" cy="294.20" r="0.36"/><circle cx="78.49" cy="295.04" r="0.36"/><circle cx="80.78" cy="289.45" r="0.36"/><circle cx="77.73" cy="288.98" r="0.36"/><circle cx="76.24" cy="287.38" r="0.36"/><circle cx="74.07" cy="291.19" r="0.36"/><circle cx="81.87" cy="291.82" r="0.36"/><circle cx="71.75" cy="295.36" r="0.36"/><circle cx="81.47" cy="288.03" r="0.36"/><circle cx="80.45" cy="285.53" r="0.36"/><circle cx="85.32" cy="286.95" r="0.36"/><circle cx="80.13" cy="288.06" r="0.36"/><circle cx="77.74" cy="287.25" r="0.36"/></g>
<path d="M70.70,299.30 C70.70,285.50 83.80,285.50 83.80,299.30" fill="none" stroke="#999" stroke-width="0.5"/>
<path d="M73.00,299.30 C73.00,288.00 81.50,288.00 81.50,299.30" fill="none" stroke="#888" stroke-width="0.5"/>
<path d="M75.70,299.30 C75.70,290.50 80.60,290.50 80.60,299.30" fill="none" stroke="#666" stroke-width="0.65"/>
<g filter="url(#bl)">
<ellipse cx="76.20" cy="303.80" rx="9.40" ry="3.00" fill="#bdbdbd"/>
<ellipse cx="76.80" cy="303.90" rx="7.60" ry="2.20" fill="#8c8c8c"/>
<ellipse cx="78.00" cy="304.10" rx="4.60" ry="1.30" fill="#5a5a5a"/>
</g>
<rect x="67.70" y="281.10" width="18.30" height="18.20" fill="none" stroke="#7a7a7a" stroke-width="0.75"/>
<text x="57.60" y="284.00" font-size="5.4" fill="#111" stroke="#111" stroke-width="0.08">12.0</text>
<rect x="114.90" y="277.40" width="39.90" height="38.40" fill="#fff" stroke="#333" stroke-width="0.85"/>
<path d="M113.70,278.68h1.2M113.70,279.96h1.2M113.70,281.24h1.2M113.70,282.52h1.2M113.70,283.80h1.2M113.70,285.08h1.2M113.70,286.36h1.2M113.70,287.64h1.2M113.70,288.92h1.2M113.70,290.20h1.2M113.70,291.48h1.2M113.70,292.76h1.2M113.70,294.04h1.2M113.70,295.32h1.2M113.70,296.60h1.2M113.70,297.88h1.2M113.70,299.16h1.2M113.70,300.44h1.2M113.70,301.72h1.2M113.70,303.00h1.2M113.70,304.28h1.2M113.70,305.56h1.2M113.70,306.84h1.2M113.70,308.12h1.2M113.70,309.40h1.2M113.70,310.68h1.2M113.70,311.96h1.2M113.70,313.24h1.2M113.70,314.52h1.2M116.23,315.80v1.2M117.56,315.80v1.2M118.89,315.80v1.2M120.22,315.80v1.2M121.55,315.80v1.2M122.88,315.80v1.2M124.21,315.80v1.2M125.54,315.80v1.2M126.87,315.80v1.2M128.20,315.80v1.2M129.53,315.80v1.2M130.86,315.80v1.2M132.19,315.80v1.2M133.52,315.80v1.2M134.85,315.80v1.2M136.18,315.80v1.2M137.51,315.80v1.2M138.84,315.80v1.2M140.17,315.80v1.2M141.50,315.80v1.2M142.83,315.80v1.2M144.16,315.80v1.2M145.49,315.80v1.2M146.82,315.80v1.2M148.15,315.80v1.2M149.48,315.80v1.2M150.81,315.80v1.2M152.14,315.80v1.2M153.47,315.80v1.2" fill="none" stroke="#333" stroke-width="0.45"/>
<path d="M112.90,278.13h2M112.90,286.16h2M112.90,294.49h2M112.90,304.09h2M112.90,313.57h2M118.21,315.80v2M127.47,315.80v2M137.16,315.80v2M146.30,315.80v2M154.08,315.80v2" fill="none" stroke="#000" stroke-width="0.9"/>
<line x1="114.90" y1="277.00" x2="114.90" y2="316.20" stroke="#000" stroke-width="1.1"/>
<line x1="114.50" y1="315.80" x2="155.20" y2="315.80" stroke="#000" stroke-width="1.1"/>
<rect x="113.10" y="302.89" width="1.80" height="2.40" fill="#000"/>
<rect x="126.27" y="315.80" width="2.40" height="1.80" fill="#000"/>
<text x="109.90" y="279.73" font-size="5" text-anchor="end" fill="#2a2a2a">10<tspan dy="-2.2" font-size="3.2">6</tspan></text>
<text x="109.90" y="287.76" font-size="5" text-anchor="end" fill="#2a2a2a">10<tspan dy="-2.2" font-size="3.2">5</tspan></text>
<text x="109.90" y="296.09" font-size="5" text-anchor="end" fill="#2a2a2a">10<tspan dy="-2.2" font-size="3.2">4</tspan></text>
<text x="109.40" y="305.69" font-size="5" text-anchor="end" fill="#2a2a2a" stroke="#2a2a2a" stroke-width="0.08">0</text>
<text x="109.90" y="315.17" font-size="5" text-anchor="end" fill="#2a2a2a">-10<tspan dy="-2.2" font-size="3.2">4</tspan></text>
<text x="117.61" y="325.80" font-size="5" text-anchor="middle" fill="#2a2a2a">-10<tspan dy="-2.2" font-size="3.2">4</tspan></text>
<text x="127.47" y="325.80" font-size="5" text-anchor="middle" fill="#2a2a2a" stroke="#2a2a2a" stroke-width="0.08">0</text>
<text x="136.56" y="325.80" font-size="5" text-anchor="middle" fill="#2a2a2a">10<tspan dy="-2.2" font-size="3.2">4</tspan></text>
<text x="145.70" y="325.80" font-size="5" text-anchor="middle" fill="#2a2a2a">10<tspan dy="-2.2" font-size="3.2">5</tspan></text>
<text x="153.48" y="325.80" font-size="5" text-anchor="middle" fill="#2a2a2a">10<tspan dy="-2.2" font-size="3.2">6</tspan></text>
<g fill="#a5a5a5"><circle cx="146.35" cy="285.94" r="0.36"/><circle cx="146.15" cy="285.40" r="0.36"/><circle cx="149.43" cy="293.56" r="0.36"/><circle cx="136.54" cy="291.61" r="0.36"/><circle cx="145.47" cy="295.81" r="0.36"/><circle cx="134.11" cy="293.23" r="0.36"/><circle cx="147.16" cy="294.12" r="0.36"/><circle cx="147.93" cy="298.23" r="0.36"/><circle cx="142.35" cy="292.27" r="0.36"/><circle cx="143.27" cy="285.07" r="0.36"/><circle cx="144.73" cy="286.07" r="0.36"/><circle cx="145.41" cy="294.27" r="0.36"/><circle cx="142.25" cy="285.92" r="0.36"/><circle cx="146.93" cy="294.69" r="0.36"/><circle cx="139.96" cy="290.22" r="0.36"/><circle cx="142.06" cy="290.66" r="0.36"/><circle cx="148.89" cy="293.48" r="0.36"/><circle cx="136.98" cy="287.64" r="0.36"/><circle cx="145.64" cy="286.86" r="0.36"/><circle cx="145.03" cy="294.88" r="0.36"/><circle cx="142.25" cy="285.77" r="0.36"/><circle cx="146.44" cy="290.02" r="0.36"/><circle cx="147.16" cy="297.40" r="0.36"/><circle cx="143.26" cy="285.88" r="0.36"/><circle cx="145.84" cy="285.41" r="0.36"/><circle cx="147.09" cy="294.93" r="0.36"/><circle cx="142.09" cy="288.70" r="0.36"/><circle cx="147.55" cy="296.46" r="0.36"/><circle cx="140.92" cy="292.82" r="0.36"/><circle cx="141.28" cy="288.83" r="0.36"/><circle cx="141.42" cy="296.16" r="0.36"/><circle cx="144.84" cy="292.84" r="0.36"/><circle cx="142.39" cy="295.41" r="0.36"/><circle cx="145.39" cy="293.22" r="0.36"/><circle cx="140.66" cy="290.21" r="0.36"/><circle cx="145.71" cy="293.59" r="0.36"/><circle cx="144.25" cy="290.93" r="0.36"/><circle cx="140.07" cy="287.47" r="0.36"/><circle cx="145.25" cy="290.98" r="0.36"/><circle cx="144.78" cy="286.53" r="0.36"/><circle cx="139.99" cy="291.03" r="0.36"/><circle cx="145.99" cy="286.55" r="0.36"/><circle cx="140.91" cy="292.41" r="0.36"/><circle cx="147.43" cy="298.43" r="0.36"/><circle cx="139.12" cy="290.19" r="0.36"/><circle cx="144.11" cy="291.39" r="0.36"/><circle cx="142.95" cy="291.12" r="0.36"/><circle cx="141.77" cy="285.01" r="0.36"/><circle cx="145.56" cy="296.32" r="0.36"/><circle cx="142.03" cy="287.15" r="0.36"/><circle cx="148.48" cy="294.03" r="0.36"/><circle cx="145.32" cy="286.63" r="0.36"/><circle cx="149.64" cy="286.56" r="0.36"/><circle cx="149.01" cy="292.36" r="0.36"/><circle cx="147.69" cy="291.39" r="0.36"/><circle cx="146.97" cy="287.75" r="0.36"/><circle cx="142.32" cy="286.22" r="0.36"/><circle cx="143.13" cy="286.03" r="0.36"/><circle cx="147.82" cy="293.74" r="0.36"/><circle cx="145.86" cy="288.73" r="0.36"/></g>
<path d="M141.10,298.60 C141.10,289.00 146.60,289.00 146.60,298.60" fill="none" stroke="#777" stroke-width="0.55"/>
<path d="M138.00,298.60 C138.00,285.50 149.00,285.50 149.00,298.60" fill="none" stroke="#aaa" stroke-width="0.45"/>
<g filter="url(#bl)">
<ellipse cx="142.00" cy="305.70" rx="9.50" ry="6.10" fill="#b3b3b3"/>
<ellipse cx="143.30" cy="305.50" rx="7.20" ry="4.80" fill="#5a5a5a"/>
<ellipse cx="144.00" cy="305.20" rx="5.40" ry="3.80" fill="#262626"/>
<ellipse cx="144.30" cy="305.00" rx="1.00" ry="0.80" fill="#cfcfcf"/>
</g>
<rect x="133.10" y="281.10" width="17.80" height="17.50" fill="none" stroke="#7a7a7a" stroke-width="0.75"/>
<text x="121.10" y="284.70" font-size="5.4" fill="#111" stroke="#111" stroke-width="0.08">3.98</text>
<circle cx="206.60" cy="185.20" r="1.35" fill="#c8127f"/>
<text x="210.70" y="186.90" font-size="5.3" fill="#222" stroke="#222" stroke-width="0.08" textLength="38.6" lengthAdjust="spacingAndGlyphs">PD-L1<tspan dy="-1.8" font-size="3">-/-</tspan><tspan dy="1.8">Rec -IgG</tspan></text>
<circle cx="206.60" cy="192.30" r="1.35" fill="#e08a1a"/>
<text x="210.70" y="194.00" font-size="5.3" fill="#222" stroke="#222" stroke-width="0.08" textLength="39.7" lengthAdjust="spacingAndGlyphs">PD-L1<tspan dy="-1.8" font-size="3">-/-</tspan><tspan dy="1.8">Rec -anti-</tspan></text>
<text x="210.70" y="200.90" font-size="5.3" fill="#222" stroke="#222" stroke-width="0.08" textLength="38.6" lengthAdjust="spacingAndGlyphs">IL-2 (JES6-1A12)</text>
<line x1="204.80" y1="205.50" x2="204.80" y2="252.40" stroke="#111" stroke-width="1.2"/>
<line x1="204.20" y1="251.80" x2="249.00" y2="251.80" stroke="#111" stroke-width="1.2"/>
<line x1="202.20" y1="208.10" x2="204.80" y2="208.10" stroke="#111" stroke-width="0.9"/>
<text x="199.10" y="209.95" font-size="5.3" text-anchor="end" fill="#2a2a2a" stroke="#2a2a2a" stroke-width="0.08">15</text>
<line x1="202.20" y1="222.67" x2="204.80" y2="222.67" stroke="#111" stroke-width="0.9"/>
<text x="199.10" y="224.52" font-size="5.3" text-anchor="end" fill="#2a2a2a" stroke="#2a2a2a" stroke-width="0.08">10</text>
<line x1="202.20" y1="237.23" x2="204.80" y2="237.23" stroke="#111" stroke-width="0.9"/>
<text x="199.10" y="239.08" font-size="5.3" text-anchor="end" fill="#2a2a2a" stroke="#2a2a2a" stroke-width="0.08">5</text>
<line x1="202.20" y1="251.80" x2="204.80" y2="251.80" stroke="#111" stroke-width="0.9"/>
<text x="199.10" y="253.65" font-size="5.3" text-anchor="end" fill="#2a2a2a" stroke="#2a2a2a" stroke-width="0.08">0</text>
<line x1="215.30" y1="251.80" x2="215.30" y2="254.80" stroke="#111" stroke-width="1.0"/>
<line x1="238.20" y1="251.80" x2="238.20" y2="254.80" stroke="#111" stroke-width="1.0"/>
<rect x="208.40" y="226.00" width="5.20" height="25.80" fill="#df8cc2" stroke="#d06aa8" stroke-width="0.5"/>
<line x1="211.00" y1="226.00" x2="211.00" y2="221.50" stroke="#c8127f" stroke-width="0.8"/>
<line x1="209.40" y1="221.50" x2="212.60" y2="221.50" stroke="#c8127f" stroke-width="0.8"/>
<circle cx="211.00" cy="219.50" r="1.05" fill="#c8127f"/>
<circle cx="211.00" cy="222.50" r="1.05" fill="#c8127f"/>
<circle cx="211.00" cy="227.00" r="1.05" fill="#c8127f"/>
<circle cx="209.50" cy="225.00" r="1.05" fill="#c8127f"/>
<circle cx="211.00" cy="232.00" r="1.05" fill="#c8127f"/>
<rect x="217.00" y="223.30" width="5.30" height="28.50" fill="#f2c98d" stroke="#eab56a" stroke-width="0.5"/>
<line x1="219.65" y1="223.30" x2="219.65" y2="221.00" stroke="#e08a1a" stroke-width="0.8"/>
<line x1="218.05" y1="221.00" x2="221.25" y2="221.00" stroke="#e08a1a" stroke-width="0.8"/>
<circle cx="219.65" cy="221.00" r="1.05" fill="#e08a1a"/>
<circle cx="217.65" cy="222.50" r="1.05" fill="#e08a1a"/>
<circle cx="221.65" cy="222.50" r="1.05" fill="#e08a1a"/>
<circle cx="219.65" cy="227.50" r="1.05" fill="#e08a1a"/>
<rect x="231.70" y="240.00" width="5.30" height="11.80" fill="#df8cc2" stroke="#d06aa8" stroke-width="0.5"/>
<line x1="234.35" y1="240.00" x2="234.35" y2="238.50" stroke="#c8127f" stroke-width="0.8"/>
<line x1="232.75" y1="238.50" x2="235.95" y2="238.50" stroke="#c8127f" stroke-width="0.8"/>
<circle cx="234.35" cy="237.50" r="1.05" fill="#c8127f"/>
<circle cx="232.85" cy="240.00" r="1.05" fill="#c8127f"/>
<circle cx="235.85" cy="240.00" r="1.05" fill="#c8127f"/>
<circle cx="234.35" cy="242.00" r="1.05" fill="#c8127f"/>
<circle cx="232.85" cy="243.00" r="1.05" fill="#c8127f"/>
<rect x="240.20" y="241.70" width="5.50" height="10.10" fill="#f2c98d" stroke="#eab56a" stroke-width="0.5"/>
<line x1="242.95" y1="241.70" x2="242.95" y2="240.80" stroke="#e08a1a" stroke-width="0.8"/>
<line x1="241.35" y1="240.80" x2="244.55" y2="240.80" stroke="#e08a1a" stroke-width="0.8"/>
<circle cx="241.45" cy="241.00" r="1.05" fill="#e08a1a"/>
<circle cx="244.45" cy="241.50" r="1.05" fill="#e08a1a"/>
<circle cx="242.95" cy="242.00" r="1.05" fill="#e08a1a"/>
<text x="215.30" y="262.30" font-size="5.5" text-anchor="middle" fill="#2a2a2a" stroke="#2a2a2a" stroke-width="0.08">Liver</text>
<text x="238.20" y="262.30" font-size="5.5" text-anchor="middle" fill="#2a2a2a" stroke="#2a2a2a" stroke-width="0.08">Colon</text>
<text x="188.30" y="228.70" font-size="7.6" text-anchor="middle" fill="#2a2a2a" stroke="#2a2a2a" stroke-width="0.08" textLength="56.5" lengthAdjust="spacingAndGlyphs" transform="rotate(-90 188.30 228.70)">%IL-10<tspan dy="-2.6" font-size="4.5">+</tspan><tspan dy="2.6">Foxp3</tspan><tspan dy="-2.6" font-size="4.5">-</tspan><tspan dy="2.6"> CD4</tspan><tspan dy="-2.6" font-size="4.5">+</tspan><tspan dy="2.6">T</tspan></text>
<line x1="205.60" y1="279.00" x2="205.60" y2="325.60" stroke="#111" stroke-width="1.2"/>
<line x1="205.00" y1="325.00" x2="248.80" y2="325.00" stroke="#111" stroke-width="1.2"/>
<line x1="203.00" y1="281.00" x2="205.60" y2="281.00" stroke="#111" stroke-width="0.9"/>
<text x="199.90" y="282.85" font-size="5.3" text-anchor="end" fill="#2a2a2a" stroke="#2a2a2a" stroke-width="0.08">0.4</text>
<line x1="203.00" y1="292.00" x2="205.60" y2="292.00" stroke="#111" stroke-width="0.9"/>
<text x="199.90" y="293.85" font-size="5.3" text-anchor="end" fill="#2a2a2a" stroke="#2a2a2a" stroke-width="0.08">0.3</text>
<line x1="203.00" y1="303.00" x2="205.60" y2="303.00" stroke="#111" stroke-width="0.9"/>
<text x="199.90" y="304.85" font-size="5.3" text-anchor="end" fill="#2a2a2a" stroke="#2a2a2a" stroke-width="0.08">0.2</text>
<line x1="203.00" y1="314.00" x2="205.60" y2="314.00" stroke="#111" stroke-width="0.9"/>
<text x="199.90" y="315.85" font-size="5.3" text-anchor="end" fill="#2a2a2a" stroke="#2a2a2a" stroke-width="0.08">0.1</text>
<line x1="203.00" y1="325.00" x2="205.60" y2="325.00" stroke="#111" stroke-width="0.9"/>
<text x="199.90" y="326.85" font-size="5.3" text-anchor="end" fill="#2a2a2a" stroke="#2a2a2a" stroke-width="0.08">0.0</text>
<line x1="215.30" y1="325.00" x2="215.30" y2="328.00" stroke="#111" stroke-width="1.0"/>
<line x1="238.60" y1="325.00" x2="238.60" y2="328.00" stroke="#111" stroke-width="1.0"/>
<rect x="208.10" y="302.70" width="5.30" height="22.30" fill="#df8cc2" stroke="#d06aa8" stroke-width="0.5"/>
<line x1="210.75" y1="302.70" x2="210.75" y2="296.00" stroke="#c8127f" stroke-width="0.8"/>
<line x1="209.15" y1="296.00" x2="212.35" y2="296.00" stroke="#c8127f" stroke-width="0.8"/>
<circle cx="210.75" cy="285.40" r="1.05" fill="#c8127f"/>
<circle cx="210.75" cy="302.00" r="1.05" fill="#c8127f"/>
<circle cx="210.75" cy="308.00" r="1.05" fill="#c8127f"/>
<circle cx="210.75" cy="316.00" r="1.05" fill="#c8127f"/>
<rect x="217.00" y="312.50" width="5.50" height="12.50" fill="#f2c98d" stroke="#eab56a" stroke-width="0.5"/>
<line x1="219.75" y1="312.50" x2="219.75" y2="309.50" stroke="#e08a1a" stroke-width="0.8"/>
<line x1="218.15" y1="309.50" x2="221.35" y2="309.50" stroke="#e08a1a" stroke-width="0.8"/>
<circle cx="219.75" cy="307.00" r="1.05" fill="#e08a1a"/>
<circle cx="218.25" cy="312.50" r="1.05" fill="#e08a1a"/>
<circle cx="221.25" cy="312.50" r="1.05" fill="#e08a1a"/>
<circle cx="219.75" cy="314.00" r="1.05" fill="#e08a1a"/>
<rect x="231.70" y="319.20" width="5.30" height="5.80" fill="#df8cc2" stroke="#d06aa8" stroke-width="0.5"/>
<line x1="234.35" y1="319.20" x2="234.35" y2="318.40" stroke="#c8127f" stroke-width="0.8"/>
<line x1="232.75" y1="318.40" x2="235.95" y2="318.40" stroke="#c8127f" stroke-width="0.8"/>
<circle cx="232.85" cy="319.50" r="1.05" fill="#c8127f"/>
<circle cx="235.85" cy="318.80" r="1.05" fill="#c8127f"/>
<circle cx="234.35" cy="320.00" r="1.05" fill="#c8127f"/>
<rect x="240.50" y="322.10" width="5.20" height="2.90" fill="#f2c98d" stroke="#eab56a" stroke-width="0.5"/>
<line x1="243.10" y1="322.10" x2="243.10" y2="321.60" stroke="#e08a1a" stroke-width="0.8"/>
<line x1="241.50" y1="321.60" x2="244.70" y2="321.60" stroke="#e08a1a" stroke-width="0.8"/>
<circle cx="241.60" cy="322.00" r="1.05" fill="#e08a1a"/>
<circle cx="244.60" cy="322.00" r="1.05" fill="#e08a1a"/>
<text x="215.30" y="335.80" font-size="5.5" text-anchor="middle" fill="#2a2a2a" stroke="#2a2a2a" stroke-width="0.08">Liver</text>
<text x="238.60" y="335.80" font-size="5.5" text-anchor="middle" fill="#2a2a2a" stroke="#2a2a2a" stroke-width="0.08">Colon</text>
<text x="176.50" y="302.60" font-size="7.6" text-anchor="middle" fill="#2a2a2a" stroke="#2a2a2a" stroke-width="0.08" textLength="56.8" lengthAdjust="spacingAndGlyphs" transform="rotate(-90 176.50 302.60)">Yield of IL-10<tspan dy="-2.6" font-size="4.5">+</tspan><tspan dy="2.6"> FOXP3</tspan></text>
<text x="185.30" y="303.50" font-size="7.6" text-anchor="middle" fill="#2a2a2a" stroke="#2a2a2a" stroke-width="0.08" textLength="40.5" lengthAdjust="spacingAndGlyphs" transform="rotate(-90 185.30 303.50)">CD4<tspan dy="-2.6" font-size="4.5">+</tspan><tspan dy="2.6"> T (X10</tspan><tspan dy="-2.6" font-size="4.5">6</tspan><tspan dy="2.6">)</tspan></text>
<text x="264.40" y="188.90" font-size="12" font-weight="bold" stroke="#000" stroke-width="0.3">D</text>
<circle cx="298.10" cy="185.40" r="1.35" fill="#c4163b"/>
<text x="302.20" y="187.10" font-size="5.3" fill="#222" stroke="#222" stroke-width="0.08" textLength="29.8" lengthAdjust="spacingAndGlyphs">WT Rec-IgG</text>
<circle cx="298.10" cy="192.40" r="1.35" fill="#1f3f8f"/>
<text x="302.20" y="194.10" font-size="5.3" fill="#222" stroke="#222" stroke-width="0.08" textLength="31" lengthAdjust="spacingAndGlyphs">WT Rec-anti-</text>
<text x="302.20" y="200.70" font-size="5.3" fill="#222" stroke="#222" stroke-width="0.08" textLength="39.8" lengthAdjust="spacingAndGlyphs">IL-2 (JES6-1A12)</text>
<line x1="296.90" y1="205.60" x2="296.90" y2="252.00" stroke="#111" stroke-width="1.2"/>
<line x1="296.30" y1="251.40" x2="337.70" y2="251.40" stroke="#111" stroke-width="1.2"/>
<line x1="294.30" y1="208.00" x2="296.90" y2="208.00" stroke="#111" stroke-width="0.9"/>
<text x="291.20" y="209.85" font-size="5" text-anchor="end" fill="#2a2a2a" stroke="#2a2a2a" stroke-width="0.08">10000</text>
<line x1="294.30" y1="216.68" x2="296.90" y2="216.68" stroke="#111" stroke-width="0.9"/>
<text x="291.20" y="218.53" font-size="5" text-anchor="end" fill="#2a2a2a" stroke="#2a2a2a" stroke-width="0.08">8000</text>
<line x1="294.30" y1="225.36" x2="296.90" y2="225.36" stroke="#111" stroke-width="0.9"/>
<text x="291.20" y="227.21" font-size="5" text-anchor="end" fill="#2a2a2a" stroke="#2a2a2a" stroke-width="0.08">6000</text>
<line x1="294.30" y1="234.04" x2="296.90" y2="234.04" stroke="#111" stroke-width="0.9"/>
<text x="291.20" y="235.89" font-size="5" text-anchor="end" fill="#2a2a2a" stroke="#2a2a2a" stroke-width="0.08">4000</text>
<line x1="294.30" y1="242.72" x2="296.90" y2="242.72" stroke="#111" stroke-width="0.9"/>
<text x="291.20" y="244.57" font-size="5" text-anchor="end" fill="#2a2a2a" stroke="#2a2a2a" stroke-width="0.08">2000</text>
<line x1="294.30" y1="251.40" x2="296.90" y2="251.40" stroke="#111" stroke-width="0.9"/>
<text x="291.20" y="253.25" font-size="5" text-anchor="end" fill="#2a2a2a" stroke="#2a2a2a" stroke-width="0.08">0</text>
<line x1="302.90" y1="251.40" x2="302.90" y2="254.40" stroke="#111" stroke-width="1.0"/>
<line x1="330.60" y1="251.40" x2="330.60" y2="254.40" stroke="#111" stroke-width="1.0"/>
<rect x="300.20" y="230.70" width="5.40" height="20.70" fill="#eab0a6" stroke="#d98f84" stroke-width="0.5"/>
<line x1="302.90" y1="230.70" x2="302.90" y2="227.00" stroke="#c4163b" stroke-width="0.8"/>
<line x1="301.30" y1="227.00" x2="304.50" y2="227.00" stroke="#c4163b" stroke-width="0.8"/>
<circle cx="302.90" cy="224.50" r="1.05" fill="#c4163b"/>
<circle cx="301.40" cy="229.00" r="1.05" fill="#c4163b"/>
<circle cx="304.40" cy="229.00" r="1.05" fill="#c4163b"/>
<circle cx="302.90" cy="233.00" r="1.05" fill="#c4163b"/>
<circle cx="301.40" cy="234.00" r="1.05" fill="#c4163b"/>
<rect x="309.00" y="217.30" width="5.20" height="34.10" fill="#7f8fc5" stroke="#6a7cba" stroke-width="0.5"/>
<line x1="311.60" y1="217.30" x2="311.60" y2="215.50" stroke="#1f3f8f" stroke-width="0.8"/>
<line x1="310.00" y1="215.50" x2="313.20" y2="215.50" stroke="#1f3f8f" stroke-width="0.8"/>
<circle cx="311.60" cy="213.00" r="1.05" fill="#1f3f8f"/>
<circle cx="310.10" cy="215.50" r="1.05" fill="#1f3f8f"/>
<circle cx="313.10" cy="215.50" r="1.05" fill="#1f3f8f"/>
<circle cx="311.60" cy="219.50" r="1.05" fill="#1f3f8f"/>
<rect x="323.20" y="238.50" width="5.80" height="12.90" fill="#eab0a6" stroke="#d98f84" stroke-width="0.5"/>
<line x1="326.10" y1="238.50" x2="326.10" y2="234.00" stroke="#c4163b" stroke-width="0.8"/>
<line x1="324.50" y1="234.00" x2="327.70" y2="234.00" stroke="#c4163b" stroke-width="0.8"/>
<circle cx="326.10" cy="228.50" r="1.05" fill="#c4163b"/>
<circle cx="326.10" cy="236.00" r="1.05" fill="#c4163b"/>
<circle cx="324.60" cy="240.00" r="1.05" fill="#c4163b"/>
<circle cx="327.60" cy="240.00" r="1.05" fill="#c4163b"/>
<circle cx="326.10" cy="242.00" r="1.05" fill="#c4163b"/>
<rect x="332.20" y="223.60" width="5.00" height="27.80" fill="#7f8fc5" stroke="#6a7cba" stroke-width="0.5"/>
<line x1="334.70" y1="223.60" x2="334.70" y2="222.00" stroke="#1f3f8f" stroke-width="0.8"/>
<line x1="333.10" y1="222.00" x2="336.30" y2="222.00" stroke="#1f3f8f" stroke-width="0.8"/>
<circle cx="333.20" cy="222.00" r="1.05" fill="#1f3f8f"/>
<circle cx="336.20" cy="221.50" r="1.05" fill="#1f3f8f"/>
<circle cx="334.70" cy="224.50" r="1.05" fill="#1f3f8f"/>
<text x="306.50" y="262.30" font-size="5.5" text-anchor="middle" fill="#2a2a2a" stroke="#2a2a2a" stroke-width="0.08">Liver</text>
<text x="330.60" y="262.30" font-size="5.5" text-anchor="middle" fill="#2a2a2a" stroke="#2a2a2a" stroke-width="0.08">Colon</text>
<line x1="300.60" y1="210.30" x2="309.30" y2="210.30" stroke="#222" stroke-width="1.0"/>
<circle cx="302.45" cy="207.60" r="0.72" fill="#2a2a2a"/>
<circle cx="304.95" cy="207.60" r="0.72" fill="#2a2a2a"/>
<circle cx="307.45" cy="207.60" r="0.72" fill="#2a2a2a"/>
<line x1="325.30" y1="217.30" x2="333.50" y2="217.30" stroke="#222" stroke-width="1.0"/>
<circle cx="326.90" cy="214.60" r="0.72" fill="#2a2a2a"/>
<circle cx="329.40" cy="214.60" r="0.72" fill="#2a2a2a"/>
<circle cx="331.90" cy="214.60" r="0.72" fill="#2a2a2a"/>
<text x="271.00" y="228.40" font-size="7.6" text-anchor="middle" fill="#2a2a2a" stroke="#2a2a2a" stroke-width="0.08" textLength="31.2" lengthAdjust="spacingAndGlyphs" transform="rotate(-90 271.00 228.40)">Blimp1-MFI</text>
<line x1="293.70" y1="279.10" x2="293.70" y2="325.60" stroke="#111" stroke-width="1.2"/>
<line x1="293.10" y1="325.00" x2="342.40" y2="325.00" stroke="#111" stroke-width="1.2"/>
<line x1="291.10" y1="281.00" x2="293.70" y2="281.00" stroke="#111" stroke-width="0.9"/>
<text x="288.00" y="282.85" font-size="5" text-anchor="end" fill="#2a2a2a" stroke="#2a2a2a" stroke-width="0.08">6000</text>
<line x1="291.10" y1="295.67" x2="293.70" y2="295.67" stroke="#111" stroke-width="0.9"/>
<text x="288.00" y="297.52" font-size="5" text-anchor="end" fill="#2a2a2a" stroke="#2a2a2a" stroke-width="0.08">4000</text>
<line x1="291.10" y1="310.33" x2="293.70" y2="310.33" stroke="#111" stroke-width="0.9"/>
<text x="288.00" y="312.18" font-size="5" text-anchor="end" fill="#2a2a2a" stroke="#2a2a2a" stroke-width="0.08">2000</text>
<line x1="291.10" y1="325.00" x2="293.70" y2="325.00" stroke="#111" stroke-width="0.9"/>
<text x="288.00" y="326.85" font-size="5" text-anchor="end" fill="#2a2a2a" stroke="#2a2a2a" stroke-width="0.08">0</text>
<line x1="304.10" y1="325.00" x2="304.10" y2="328.00" stroke="#111" stroke-width="1.0"/>
<line x1="327.70" y1="325.00" x2="327.70" y2="328.00" stroke="#111" stroke-width="1.0"/>
<rect x="296.80" y="308.00" width="5.70" height="17.00" fill="#eab0a6" stroke="#d98f84" stroke-width="0.5"/>
<line x1="299.65" y1="308.00" x2="299.65" y2="305.50" stroke="#c4163b" stroke-width="0.8"/>
<line x1="298.05" y1="305.50" x2="301.25" y2="305.50" stroke="#c4163b" stroke-width="0.8"/>
<circle cx="299.65" cy="303.50" r="1.05" fill="#c4163b"/>
<circle cx="298.15" cy="307.00" r="1.05" fill="#c4163b"/>
<circle cx="301.15" cy="307.00" r="1.05" fill="#c4163b"/>
<circle cx="299.65" cy="309.00" r="1.05" fill="#c4163b"/>
<rect x="305.70" y="297.20" width="5.70" height="27.80" fill="#7f8fc5" stroke="#6a7cba" stroke-width="0.5"/>
<line x1="308.55" y1="297.20" x2="308.55" y2="294.00" stroke="#1f3f8f" stroke-width="0.8"/>
<line x1="306.95" y1="294.00" x2="310.15" y2="294.00" stroke="#1f3f8f" stroke-width="0.8"/>
<circle cx="308.55" cy="289.00" r="1.05" fill="#1f3f8f"/>
<circle cx="307.05" cy="297.00" r="1.05" fill="#1f3f8f"/>
<circle cx="310.05" cy="298.00" r="1.05" fill="#1f3f8f"/>
<circle cx="308.55" cy="300.00" r="1.05" fill="#1f3f8f"/>
<rect x="320.40" y="308.00" width="5.30" height="17.00" fill="#eab0a6" stroke="#d98f84" stroke-width="0.5"/>
<line x1="323.05" y1="308.00" x2="323.05" y2="305.00" stroke="#c4163b" stroke-width="0.8"/>
<line x1="321.45" y1="305.00" x2="324.65" y2="305.00" stroke="#c4163b" stroke-width="0.8"/>
<circle cx="323.05" cy="303.00" r="1.05" fill="#c4163b"/>
<circle cx="323.05" cy="308.50" r="1.05" fill="#c4163b"/>
<circle cx="323.05" cy="312.50" r="1.05" fill="#c4163b"/>
<rect x="329.10" y="300.70" width="5.50" height="24.30" fill="#7f8fc5" stroke="#6a7cba" stroke-width="0.5"/>
<line x1="331.85" y1="300.70" x2="331.85" y2="298.50" stroke="#1f3f8f" stroke-width="0.8"/>
<line x1="330.25" y1="298.50" x2="333.45" y2="298.50" stroke="#1f3f8f" stroke-width="0.8"/>
<circle cx="331.85" cy="297.00" r="1.05" fill="#1f3f8f"/>
<circle cx="330.35" cy="301.00" r="1.05" fill="#1f3f8f"/>
<circle cx="333.35" cy="300.50" r="1.05" fill="#1f3f8f"/>
<circle cx="331.85" cy="302.50" r="1.05" fill="#1f3f8f"/>
<text x="304.10" y="335.80" font-size="5.5" text-anchor="middle" fill="#2a2a2a" stroke="#2a2a2a" stroke-width="0.08">Liver</text>
<text x="327.70" y="335.80" font-size="5.5" text-anchor="middle" fill="#2a2a2a" stroke="#2a2a2a" stroke-width="0.08">Colon</text>
<line x1="298.20" y1="281.80" x2="307.10" y2="281.80" stroke="#222" stroke-width="1.0"/>
<circle cx="300.15" cy="279.10" r="0.72" fill="#2a2a2a"/>
<circle cx="302.65" cy="279.10" r="0.72" fill="#2a2a2a"/>
<circle cx="305.15" cy="279.10" r="0.72" fill="#2a2a2a"/>
<line x1="325.70" y1="292.20" x2="334.60" y2="292.20" stroke="#222" stroke-width="1.0"/>
<circle cx="330.15" cy="289.50" r="0.72" fill="#2a2a2a"/>
<text x="271.20" y="301.50" font-size="7.6" text-anchor="middle" fill="#2a2a2a" stroke="#2a2a2a" stroke-width="0.08" textLength="29" lengthAdjust="spacingAndGlyphs" transform="rotate(-90 271.20 301.50)">Eomes MFI</text>
<text x="352.50" y="188.90" font-size="12" font-weight="bold" stroke="#000" stroke-width="0.3">E</text>
<circle cx="385.80" cy="185.20" r="1.35" fill="#c4163b"/>
<text x="389.90" y="186.90" font-size="5.3" fill="#222" stroke="#222" stroke-width="0.08" textLength="28.9" lengthAdjust="spacingAndGlyphs">WT Rec-IgG</text>
<circle cx="385.80" cy="192.80" r="1.35" fill="#4f9e2c"/>
<text x="389.90" y="194.50" font-size="5.3" fill="#222" stroke="#222" stroke-width="0.08" textLength="29.9" lengthAdjust="spacingAndGlyphs">WT Rec-anti-</text>
<text x="389.90" y="201.20" font-size="5.3" fill="#222" stroke="#222" stroke-width="0.08" textLength="25.1" lengthAdjust="spacingAndGlyphs">IL-2 (S4B6)</text>
<line x1="383.90" y1="205.40" x2="383.90" y2="252.10" stroke="#111" stroke-width="1.2"/>
<line x1="383.30" y1="251.50" x2="427.50" y2="251.50" stroke="#111" stroke-width="1.2"/>
<line x1="381.30" y1="207.70" x2="383.90" y2="207.70" stroke="#111" stroke-width="0.9"/>
<text x="378.20" y="209.55" font-size="5" text-anchor="end" fill="#2a2a2a" stroke="#2a2a2a" stroke-width="0.08">10000</text>
<line x1="381.30" y1="216.46" x2="383.90" y2="216.46" stroke="#111" stroke-width="0.9"/>
<text x="378.20" y="218.31" font-size="5" text-anchor="end" fill="#2a2a2a" stroke="#2a2a2a" stroke-width="0.08">8000</text>
<line x1="381.30" y1="225.22" x2="383.90" y2="225.22" stroke="#111" stroke-width="0.9"/>
<text x="378.20" y="227.07" font-size="5" text-anchor="end" fill="#2a2a2a" stroke="#2a2a2a" stroke-width="0.08">6000</text>
<line x1="381.30" y1="233.98" x2="383.90" y2="233.98" stroke="#111" stroke-width="0.9"/>
<text x="378.20" y="235.83" font-size="5" text-anchor="end" fill="#2a2a2a" stroke="#2a2a2a" stroke-width="0.08">4000</text>
<line x1="381.30" y1="242.74" x2="383.90" y2="242.74" stroke="#111" stroke-width="0.9"/>
<text x="378.20" y="244.59" font-size="5" text-anchor="end" fill="#2a2a2a" stroke="#2a2a2a" stroke-width="0.08">2000</text>
<line x1="381.30" y1="251.50" x2="383.90" y2="251.50" stroke="#111" stroke-width="0.9"/>
<text x="378.20" y="253.35" font-size="5" text-anchor="end" fill="#2a2a2a" stroke="#2a2a2a" stroke-width="0.08">0</text>
<line x1="394.00" y1="251.50" x2="394.00" y2="254.50" stroke="#111" stroke-width="1.0"/>
<line x1="418.00" y1="251.50" x2="418.00" y2="254.50" stroke="#111" stroke-width="1.0"/>
<rect x="387.20" y="229.00" width="5.90" height="22.50" fill="#dc8f86" stroke="#cf7d74" stroke-width="0.5"/>
<line x1="390.15" y1="229.00" x2="390.15" y2="225.00" stroke="#c4163b" stroke-width="0.8"/>
<line x1="388.55" y1="225.00" x2="391.75" y2="225.00" stroke="#c4163b" stroke-width="0.8"/>
<circle cx="390.15" cy="221.50" r="1.05" fill="#c4163b"/>
<circle cx="390.15" cy="226.00" r="1.05" fill="#c4163b"/>
<circle cx="390.15" cy="230.00" r="1.05" fill="#c4163b"/>
<circle cx="390.15" cy="235.00" r="1.05" fill="#c4163b"/>
<circle cx="388.65" cy="233.00" r="1.05" fill="#c4163b"/>
<rect x="396.10" y="229.00" width="5.90" height="22.50" fill="#bfdca4" stroke="#a8cf8a" stroke-width="0.5"/>
<line x1="399.05" y1="229.00" x2="399.05" y2="223.00" stroke="#4f9e2c" stroke-width="0.8"/>
<line x1="397.45" y1="223.00" x2="400.65" y2="223.00" stroke="#4f9e2c" stroke-width="0.8"/>
<circle cx="399.05" cy="210.50" r="1.05" fill="#4f9e2c"/>
<circle cx="399.05" cy="223.00" r="1.05" fill="#4f9e2c"/>
<circle cx="397.55" cy="237.50" r="1.05" fill="#4f9e2c"/>
<circle cx="400.55" cy="237.50" r="1.05" fill="#4f9e2c"/>
<circle cx="399.05" cy="234.00" r="1.05" fill="#4f9e2c"/>
<rect x="410.80" y="235.40" width="5.30" height="16.10" fill="#dc8f86" stroke="#cf7d74" stroke-width="0.5"/>
<line x1="413.45" y1="235.40" x2="413.45" y2="232.00" stroke="#c4163b" stroke-width="0.8"/>
<line x1="411.85" y1="232.00" x2="415.05" y2="232.00" stroke="#c4163b" stroke-width="0.8"/>
<circle cx="413.45" cy="227.00" r="1.05" fill="#c4163b"/>
<circle cx="413.45" cy="233.50" r="1.05" fill="#c4163b"/>
<circle cx="413.45" cy="238.00" r="1.05" fill="#c4163b"/>
<circle cx="411.95" cy="240.50" r="1.05" fill="#c4163b"/>
<circle cx="413.45" cy="242.00" r="1.05" fill="#c4163b"/>
<rect x="419.30" y="235.20" width="5.90" height="16.30" fill="#bfdca4" stroke="#a8cf8a" stroke-width="0.5"/>
<line x1="422.25" y1="235.20" x2="422.25" y2="234.00" stroke="#4f9e2c" stroke-width="0.8"/>
<line x1="420.65" y1="234.00" x2="423.85" y2="234.00" stroke="#4f9e2c" stroke-width="0.8"/>
<circle cx="422.25" cy="231.50" r="1.05" fill="#4f9e2c"/>
<circle cx="420.75" cy="236.00" r="1.05" fill="#4f9e2c"/>
<circle cx="423.75" cy="236.00" r="1.05" fill="#4f9e2c"/>
<circle cx="422.25" cy="240.00" r="1.05" fill="#4f9e2c"/>
<circle cx="420.25" cy="239.00" r="1.05" fill="#4f9e2c"/>
<text x="394.00" y="262.30" font-size="5.5" text-anchor="middle" fill="#2a2a2a" stroke="#2a2a2a" stroke-width="0.08">Liver</text>
<text x="418.00" y="262.30" font-size="5.5" text-anchor="middle" fill="#2a2a2a" stroke="#2a2a2a" stroke-width="0.08">Colon</text>
<text x="357.50" y="228.50" font-size="7.6" text-anchor="middle" fill="#2a2a2a" stroke="#2a2a2a" stroke-width="0.08" textLength="32.5" lengthAdjust="spacingAndGlyphs" transform="rotate(-90 357.50 228.50)">Blimp1-MFI</text>
<line x1="384.30" y1="279.10" x2="384.30" y2="325.60" stroke="#111" stroke-width="1.2"/>
<line x1="383.70" y1="325.00" x2="427.50" y2="325.00" stroke="#111" stroke-width="1.2"/>
<line x1="381.70" y1="281.00" x2="384.30" y2="281.00" stroke="#111" stroke-width="0.9"/>
<text x="378.60" y="282.85" font-size="5" text-anchor="end" fill="#2a2a2a" stroke="#2a2a2a" stroke-width="0.08">6000</text>
<line x1="381.70" y1="295.67" x2="384.30" y2="295.67" stroke="#111" stroke-width="0.9"/>
<text x="378.60" y="297.52" font-size="5" text-anchor="end" fill="#2a2a2a" stroke="#2a2a2a" stroke-width="0.08">4000</text>
<line x1="381.70" y1="310.33" x2="384.30" y2="310.33" stroke="#111" stroke-width="0.9"/>
<text x="378.60" y="312.18" font-size="5" text-anchor="end" fill="#2a2a2a" stroke="#2a2a2a" stroke-width="0.08">2000</text>
<line x1="381.70" y1="325.00" x2="384.30" y2="325.00" stroke="#111" stroke-width="0.9"/>
<text x="378.60" y="326.85" font-size="5" text-anchor="end" fill="#2a2a2a" stroke="#2a2a2a" stroke-width="0.08">0</text>
<line x1="394.10" y1="325.00" x2="394.10" y2="328.00" stroke="#111" stroke-width="1.0"/>
<line x1="417.70" y1="325.00" x2="417.70" y2="328.00" stroke="#111" stroke-width="1.0"/>
<rect x="387.20" y="303.00" width="5.50" height="22.00" fill="#dc8f86" stroke="#cf7d74" stroke-width="0.5"/>
<line x1="389.95" y1="303.00" x2="389.95" y2="300.50" stroke="#c4163b" stroke-width="0.8"/>
<line x1="388.35" y1="300.50" x2="391.55" y2="300.50" stroke="#c4163b" stroke-width="0.8"/>
<circle cx="389.95" cy="299.00" r="1.05" fill="#c4163b"/>
<circle cx="388.45" cy="302.50" r="1.05" fill="#c4163b"/>
<circle cx="391.45" cy="302.50" r="1.05" fill="#c4163b"/>
<circle cx="389.95" cy="305.00" r="1.05" fill="#c4163b"/>
<circle cx="388.95" cy="306.00" r="1.05" fill="#c4163b"/>
<rect x="395.70" y="301.50" width="5.90" height="23.50" fill="#bfdca4" stroke="#a8cf8a" stroke-width="0.5"/>
<line x1="398.65" y1="301.50" x2="398.65" y2="299.00" stroke="#4f9e2c" stroke-width="0.8"/>
<line x1="397.05" y1="299.00" x2="400.25" y2="299.00" stroke="#4f9e2c" stroke-width="0.8"/>
<circle cx="398.65" cy="292.50" r="1.05" fill="#4f9e2c"/>
<circle cx="397.15" cy="302.00" r="1.05" fill="#4f9e2c"/>
<circle cx="400.15" cy="302.00" r="1.05" fill="#4f9e2c"/>
<circle cx="398.65" cy="304.00" r="1.05" fill="#4f9e2c"/>
<rect x="410.80" y="306.00" width="5.30" height="19.00" fill="#dc8f86" stroke="#cf7d74" stroke-width="0.5"/>
<line x1="413.45" y1="306.00" x2="413.45" y2="304.00" stroke="#c4163b" stroke-width="0.8"/>
<line x1="411.85" y1="304.00" x2="415.05" y2="304.00" stroke="#c4163b" stroke-width="0.8"/>
<circle cx="413.45" cy="303.00" r="1.05" fill="#c4163b"/>
<circle cx="411.95" cy="305.50" r="1.05" fill="#c4163b"/>
<circle cx="415.45" cy="304.00" r="1.05" fill="#c4163b"/>
<circle cx="413.45" cy="308.00" r="1.05" fill="#c4163b"/>
<circle cx="411.95" cy="309.00" r="1.05" fill="#c4163b"/>
<rect x="419.30" y="306.60" width="5.90" height="18.40" fill="#bfdca4" stroke="#a8cf8a" stroke-width="0.5"/>
<line x1="422.25" y1="306.60" x2="422.25" y2="305.00" stroke="#4f9e2c" stroke-width="0.8"/>
<line x1="420.65" y1="305.00" x2="423.85" y2="305.00" stroke="#4f9e2c" stroke-width="0.8"/>
<circle cx="422.25" cy="303.00" r="1.05" fill="#4f9e2c"/>
<circle cx="420.75" cy="306.50" r="1.05" fill="#4f9e2c"/>
<circle cx="423.75" cy="306.50" r="1.05" fill="#4f9e2c"/>
<circle cx="422.25" cy="308.00" r="1.05" fill="#4f9e2c"/>
<text x="394.10" y="335.80" font-size="5.5" text-anchor="middle" fill="#2a2a2a" stroke="#2a2a2a" stroke-width="0.08">Liver</text>
<text x="417.70" y="335.80" font-size="5.5" text-anchor="middle" fill="#2a2a2a" stroke="#2a2a2a" stroke-width="0.08">Colon</text>
<text x="360.80" y="301.50" font-size="7.6" text-anchor="middle" fill="#2a2a2a" stroke="#2a2a2a" stroke-width="0.08" textLength="29" lengthAdjust="spacingAndGlyphs" transform="rotate(-90 360.80 301.50)">Eomes MFI</text>
<text x="437.50" y="188.90" font-size="12" font-weight="bold" stroke="#000" stroke-width="0.3">F</text>
<circle cx="467.80" cy="185.20" r="1.35" fill="#c8127f"/>
<text x="471.90" y="186.90" font-size="5.3" fill="#222" stroke="#222" stroke-width="0.08" textLength="38.8" lengthAdjust="spacingAndGlyphs">PD-L1<tspan dy="-1.8" font-size="3">-/-</tspan><tspan dy="1.8">Rec -IgG</tspan></text>
<circle cx="467.80" cy="192.30" r="1.35" fill="#e08a1a"/>
<text x="471.90" y="194.00" font-size="5.3" fill="#222" stroke="#222" stroke-width="0.08" textLength="40.4" lengthAdjust="spacingAndGlyphs">PD-L1<tspan dy="-1.8" font-size="3">-/-</tspan><tspan dy="1.8">Rec -anti-</tspan></text>
<text x="471.90" y="200.90" font-size="5.3" fill="#222" stroke="#222" stroke-width="0.08" textLength="39.9" lengthAdjust="spacingAndGlyphs">IL-2 (JES6-1A12)</text>
<line x1="466.90" y1="206.00" x2="466.90" y2="252.10" stroke="#111" stroke-width="1.2"/>
<line x1="466.30" y1="251.50" x2="510.50" y2="251.50" stroke="#111" stroke-width="1.2"/>
<line x1="464.30" y1="207.90" x2="466.90" y2="207.90" stroke="#111" stroke-width="0.9"/>
<text x="461.20" y="209.75" font-size="5" text-anchor="end" fill="#2a2a2a" stroke="#2a2a2a" stroke-width="0.08">8000</text>
<line x1="464.30" y1="218.80" x2="466.90" y2="218.80" stroke="#111" stroke-width="0.9"/>
<text x="461.20" y="220.65" font-size="5" text-anchor="end" fill="#2a2a2a" stroke="#2a2a2a" stroke-width="0.08">6000</text>
<line x1="464.30" y1="229.70" x2="466.90" y2="229.70" stroke="#111" stroke-width="0.9"/>
<text x="461.20" y="231.55" font-size="5" text-anchor="end" fill="#2a2a2a" stroke="#2a2a2a" stroke-width="0.08">4000</text>
<line x1="464.30" y1="240.60" x2="466.90" y2="240.60" stroke="#111" stroke-width="0.9"/>
<text x="461.20" y="242.45" font-size="5" text-anchor="end" fill="#2a2a2a" stroke="#2a2a2a" stroke-width="0.08">2000</text>
<line x1="464.30" y1="251.50" x2="466.90" y2="251.50" stroke="#111" stroke-width="0.9"/>
<text x="461.20" y="253.35" font-size="5" text-anchor="end" fill="#2a2a2a" stroke="#2a2a2a" stroke-width="0.08">0</text>
<line x1="477.20" y1="251.50" x2="477.20" y2="254.50" stroke="#111" stroke-width="1.0"/>
<line x1="499.70" y1="251.50" x2="499.70" y2="254.50" stroke="#111" stroke-width="1.0"/>
<rect x="469.90" y="238.80" width="5.70" height="12.70" fill="#df8cc2" stroke="#d06aa8" stroke-width="0.5"/>
<line x1="472.75" y1="238.80" x2="472.75" y2="238.00" stroke="#c8127f" stroke-width="0.8"/>
<line x1="471.15" y1="238.00" x2="474.35" y2="238.00" stroke="#c8127f" stroke-width="0.8"/>
<circle cx="471.25" cy="238.50" r="1.05" fill="#c8127f"/>
<circle cx="474.25" cy="238.50" r="1.05" fill="#c8127f"/>
<circle cx="472.75" cy="239.50" r="1.05" fill="#c8127f"/>
<rect x="478.10" y="238.80" width="5.90" height="12.70" fill="#f2c98d" stroke="#eab56a" stroke-width="0.5"/>
<line x1="481.05" y1="238.80" x2="481.05" y2="236.50" stroke="#e08a1a" stroke-width="0.8"/>
<line x1="479.45" y1="236.50" x2="482.65" y2="236.50" stroke="#e08a1a" stroke-width="0.8"/>
<circle cx="481.05" cy="235.50" r="1.05" fill="#e08a1a"/>
<circle cx="479.55" cy="238.00" r="1.05" fill="#e08a1a"/>
<circle cx="482.55" cy="238.50" r="1.05" fill="#e08a1a"/>
<circle cx="481.05" cy="240.00" r="1.05" fill="#e08a1a"/>
<rect x="492.90" y="232.50" width="5.90" height="19.00" fill="#df8cc2" stroke="#d06aa8" stroke-width="0.5"/>
<line x1="495.85" y1="232.50" x2="495.85" y2="225.00" stroke="#c8127f" stroke-width="0.8"/>
<line x1="494.25" y1="225.00" x2="497.45" y2="225.00" stroke="#c8127f" stroke-width="0.8"/>
<circle cx="495.85" cy="211.50" r="1.05" fill="#c8127f"/>
<circle cx="495.85" cy="229.00" r="1.05" fill="#c8127f"/>
<circle cx="494.35" cy="239.00" r="1.05" fill="#c8127f"/>
<circle cx="497.35" cy="238.50" r="1.05" fill="#c8127f"/>
<circle cx="495.85" cy="240.00" r="1.05" fill="#c8127f"/>
<rect x="501.70" y="234.20" width="5.50" height="17.30" fill="#f2c98d" stroke="#eab56a" stroke-width="0.5"/>
<line x1="504.45" y1="234.20" x2="504.45" y2="229.00" stroke="#e08a1a" stroke-width="0.8"/>
<line x1="502.85" y1="229.00" x2="506.05" y2="229.00" stroke="#e08a1a" stroke-width="0.8"/>
<circle cx="504.45" cy="223.50" r="1.05" fill="#e08a1a"/>
<circle cx="504.45" cy="232.00" r="1.05" fill="#e08a1a"/>
<circle cx="502.95" cy="239.00" r="1.05" fill="#e08a1a"/>
<circle cx="505.95" cy="238.00" r="1.05" fill="#e08a1a"/>
<circle cx="504.45" cy="236.00" r="1.05" fill="#e08a1a"/>
<text x="477.20" y="262.30" font-size="5.5" text-anchor="middle" fill="#2a2a2a" stroke="#2a2a2a" stroke-width="0.08">Liver</text>
<text x="499.70" y="262.30" font-size="5.5" text-anchor="middle" fill="#2a2a2a" stroke="#2a2a2a" stroke-width="0.08">Colon</text>
<text x="442.50" y="228.50" font-size="7.6" text-anchor="middle" fill="#2a2a2a" stroke="#2a2a2a" stroke-width="0.08" textLength="32" lengthAdjust="spacingAndGlyphs" transform="rotate(-90 442.50 228.50)">Blimp1-MFI</text>
<line x1="466.70" y1="279.10" x2="466.70" y2="325.60" stroke="#111" stroke-width="1.2"/>
<line x1="466.10" y1="325.00" x2="510.50" y2="325.00" stroke="#111" stroke-width="1.2"/>
<line x1="464.10" y1="281.00" x2="466.70" y2="281.00" stroke="#111" stroke-width="0.9"/>
<text x="461.00" y="282.85" font-size="5" text-anchor="end" fill="#2a2a2a" stroke="#2a2a2a" stroke-width="0.08">4000</text>
<line x1="464.10" y1="292.00" x2="466.70" y2="292.00" stroke="#111" stroke-width="0.9"/>
<text x="461.00" y="293.85" font-size="5" text-anchor="end" fill="#2a2a2a" stroke="#2a2a2a" stroke-width="0.08">3000</text>
<line x1="464.10" y1="303.00" x2="466.70" y2="303.00" stroke="#111" stroke-width="0.9"/>
<text x="461.00" y="304.85" font-size="5" text-anchor="end" fill="#2a2a2a" stroke="#2a2a2a" stroke-width="0.08">2000</text>
<line x1="464.10" y1="314.00" x2="466.70" y2="314.00" stroke="#111" stroke-width="0.9"/>
<text x="461.00" y="315.85" font-size="5" text-anchor="end" fill="#2a2a2a" stroke="#2a2a2a" stroke-width="0.08">1000</text>
<line x1="464.10" y1="325.00" x2="466.70" y2="325.00" stroke="#111" stroke-width="0.9"/>
<text x="461.00" y="326.85" font-size="5" text-anchor="end" fill="#2a2a2a" stroke="#2a2a2a" stroke-width="0.08">0</text>
<line x1="477.20" y1="325.00" x2="477.20" y2="328.00" stroke="#111" stroke-width="1.0"/>
<line x1="499.70" y1="325.00" x2="499.70" y2="328.00" stroke="#111" stroke-width="1.0"/>
<rect x="469.90" y="305.60" width="5.70" height="19.40" fill="#df8cc2" stroke="#d06aa8" stroke-width="0.5"/>
<line x1="472.75" y1="305.60" x2="472.75" y2="301.00" stroke="#c8127f" stroke-width="0.8"/>
<line x1="471.15" y1="301.00" x2="474.35" y2="301.00" stroke="#c8127f" stroke-width="0.8"/>
<circle cx="470.75" cy="301.00" r="1.05" fill="#c8127f"/>
<circle cx="474.75" cy="301.00" r="1.05" fill="#c8127f"/>
<circle cx="472.75" cy="305.00" r="1.05" fill="#c8127f"/>
<circle cx="471.25" cy="308.00" r="1.05" fill="#c8127f"/>
<circle cx="474.25" cy="309.00" r="1.05" fill="#c8127f"/>
<rect x="478.10" y="298.70" width="5.90" height="26.30" fill="#f2c98d" stroke="#eab56a" stroke-width="0.5"/>
<line x1="481.05" y1="298.70" x2="481.05" y2="294.50" stroke="#e08a1a" stroke-width="0.8"/>
<line x1="479.45" y1="294.50" x2="482.65" y2="294.50" stroke="#e08a1a" stroke-width="0.8"/>
<circle cx="481.05" cy="293.00" r="1.05" fill="#e08a1a"/>
<circle cx="481.05" cy="297.00" r="1.05" fill="#e08a1a"/>
<circle cx="479.55" cy="301.00" r="1.05" fill="#e08a1a"/>
<circle cx="482.55" cy="300.50" r="1.05" fill="#e08a1a"/>
<circle cx="481.05" cy="303.00" r="1.05" fill="#e08a1a"/>
<rect x="492.90" y="307.00" width="5.90" height="18.00" fill="#df8cc2" stroke="#d06aa8" stroke-width="0.5"/>
<line x1="495.85" y1="307.00" x2="495.85" y2="304.50" stroke="#c8127f" stroke-width="0.8"/>
<line x1="494.25" y1="304.50" x2="497.45" y2="304.50" stroke="#c8127f" stroke-width="0.8"/>
<circle cx="494.35" cy="304.00" r="1.05" fill="#c8127f"/>
<circle cx="497.35" cy="304.00" r="1.05" fill="#c8127f"/>
<circle cx="495.85" cy="308.00" r="1.05" fill="#c8127f"/>
<circle cx="495.85" cy="310.00" r="1.05" fill="#c8127f"/>
<rect x="501.70" y="303.00" width="5.50" height="22.00" fill="#f2c98d" stroke="#eab56a" stroke-width="0.5"/>
<line x1="504.45" y1="303.00" x2="504.45" y2="301.50" stroke="#e08a1a" stroke-width="0.8"/>
<line x1="502.85" y1="301.50" x2="506.05" y2="301.50" stroke="#e08a1a" stroke-width="0.8"/>
<circle cx="502.45" cy="302.00" r="1.05" fill="#e08a1a"/>
<circle cx="506.45" cy="302.00" r="1.05" fill="#e08a1a"/>
<circle cx="504.45" cy="303.50" r="1.05" fill="#e08a1a"/>
<circle cx="504.45" cy="306.00" r="1.05" fill="#e08a1a"/>
<text x="477.20" y="335.80" font-size="5.5" text-anchor="middle" fill="#2a2a2a" stroke="#2a2a2a" stroke-width="0.08">Liver</text>
<text x="499.70" y="335.80" font-size="5.5" text-anchor="middle" fill="#2a2a2a" stroke="#2a2a2a" stroke-width="0.08">Colon</text>
<text x="443.50" y="301.00" font-size="7.6" text-anchor="middle" fill="#2a2a2a" stroke="#2a2a2a" stroke-width="0.08" textLength="29.5" lengthAdjust="spacingAndGlyphs" transform="rotate(-90 443.50 301.00)">Eomes MFI</text>
<text x="6.90" y="364.40" font-size="12" font-weight="bold" stroke="#000" stroke-width="0.3">G</text>
<line x1="51.30" y1="370.00" x2="51.30" y2="428.10" stroke="#111" stroke-width="1.2"/>
<line x1="50.70" y1="427.50" x2="133.40" y2="427.50" stroke="#111" stroke-width="1.2"/>
<line x1="48.90" y1="372.60" x2="51.30" y2="372.60" stroke="#111" stroke-width="0.9"/>
<text x="46.30" y="374.60" font-size="5.6" text-anchor="end" fill="#2a2a2a" stroke="#2a2a2a" stroke-width="0.08">100</text>
<line x1="48.90" y1="386.33" x2="51.30" y2="386.33" stroke="#111" stroke-width="0.9"/>
<text x="46.30" y="388.33" font-size="5.6" text-anchor="end" fill="#2a2a2a" stroke="#2a2a2a" stroke-width="0.08">90</text>
<line x1="48.90" y1="400.05" x2="51.30" y2="400.05" stroke="#111" stroke-width="0.9"/>
<text x="46.30" y="402.05" font-size="5.6" text-anchor="end" fill="#2a2a2a" stroke="#2a2a2a" stroke-width="0.08">80</text>
<line x1="48.90" y1="413.77" x2="51.30" y2="413.77" stroke="#111" stroke-width="0.9"/>
<text x="46.30" y="415.77" font-size="5.6" text-anchor="end" fill="#2a2a2a" stroke="#2a2a2a" stroke-width="0.08">70</text>
<line x1="48.90" y1="427.50" x2="51.30" y2="427.50" stroke="#111" stroke-width="0.9"/>
<text x="46.30" y="429.50" font-size="5.6" text-anchor="end" fill="#2a2a2a" stroke="#2a2a2a" stroke-width="0.08">60</text>
<line x1="54.90" y1="427.50" x2="54.90" y2="429.70" stroke="#111" stroke-width="0.9"/>
<text x="54.90" y="439.20" font-size="5.6" text-anchor="middle" fill="#2a2a2a" stroke="#2a2a2a" stroke-width="0.08">0</text>
<line x1="63.70" y1="427.50" x2="63.70" y2="429.70" stroke="#111" stroke-width="0.9"/>
<text x="63.70" y="439.20" font-size="5.6" text-anchor="middle" fill="#2a2a2a" stroke="#2a2a2a" stroke-width="0.08">3</text>
<line x1="71.50" y1="427.50" x2="71.50" y2="429.70" stroke="#111" stroke-width="0.9"/>
<text x="71.50" y="439.20" font-size="5.6" text-anchor="middle" fill="#2a2a2a" stroke="#2a2a2a" stroke-width="0.08">5</text>
<line x1="79.60" y1="427.50" x2="79.60" y2="429.70" stroke="#111" stroke-width="0.9"/>
<text x="79.60" y="439.20" font-size="5.6" text-anchor="middle" fill="#2a2a2a" stroke="#2a2a2a" stroke-width="0.08">7</text>
<line x1="88.00" y1="427.50" x2="88.00" y2="429.70" stroke="#111" stroke-width="0.9"/>
<text x="88.00" y="439.20" font-size="5.6" text-anchor="middle" fill="#2a2a2a" stroke="#2a2a2a" stroke-width="0.08">10</text>
<line x1="96.20" y1="427.50" x2="96.20" y2="429.70" stroke="#111" stroke-width="0.9"/>
<text x="96.20" y="439.20" font-size="5.6" text-anchor="middle" fill="#2a2a2a" stroke="#2a2a2a" stroke-width="0.08">13</text>
<line x1="104.40" y1="427.50" x2="104.40" y2="429.70" stroke="#111" stroke-width="0.9"/>
<text x="104.40" y="439.20" font-size="5.6" text-anchor="middle" fill="#2a2a2a" stroke="#2a2a2a" stroke-width="0.08">17</text>
<line x1="113.00" y1="427.50" x2="113.00" y2="429.70" stroke="#111" stroke-width="0.9"/>
<text x="113.00" y="439.20" font-size="5.6" text-anchor="middle" fill="#2a2a2a" stroke="#2a2a2a" stroke-width="0.08">22</text>
<line x1="121.20" y1="427.50" x2="121.20" y2="429.70" stroke="#111" stroke-width="0.9"/>
<text x="121.20" y="439.20" font-size="5.6" text-anchor="middle" fill="#2a2a2a" stroke="#2a2a2a" stroke-width="0.08">28</text>
<line x1="129.40" y1="427.50" x2="129.40" y2="429.70" stroke="#111" stroke-width="0.9"/>
<text x="129.40" y="439.20" font-size="5.6" text-anchor="middle" fill="#2a2a2a" stroke="#2a2a2a" stroke-width="0.08">30</text>
<text x="92.20" y="448.60" font-size="6.8" text-anchor="middle" fill="#222" stroke="#222" stroke-width="0.08" textLength="37" lengthAdjust="spacingAndGlyphs">Days post-HCT</text>
<text x="31.70" y="399.10" font-size="7.6" text-anchor="middle" fill="#2a2a2a" stroke="#2a2a2a" stroke-width="0.08" textLength="61.2" lengthAdjust="spacingAndGlyphs" transform="rotate(-90 31.70 399.10)">% original body weight</text>
<path d="M54.9,384.3 L63.7,399.8 L71.5,404.7 L79.6,414.9 L88.0,404.9 L96.2,403.6 L104.4,407.1 L113.0,409.8 L121.2,414.2 L129.4,416.4" fill="none" stroke="#2f6e4e" stroke-width="1.45"/>
<path d="M54.9,388.3 L63.7,403.8 L71.5,410.4 L79.6,421.5" fill="none" stroke="#b3123d" stroke-width="1.45"/>
<circle cx="54.90" cy="384.30" r="1.2" fill="#2f6e4e"/>
<line x1="54.90" y1="381.70" x2="54.90" y2="384.30" stroke="#2f6e4e" stroke-width="0.8"/>
<line x1="53.80" y1="381.70" x2="56.00" y2="381.70" stroke="#2f6e4e" stroke-width="0.8"/>
<circle cx="63.70" cy="399.80" r="1.2" fill="#2f6e4e"/>
<line x1="63.70" y1="397.20" x2="63.70" y2="399.80" stroke="#2f6e4e" stroke-width="0.8"/>
<line x1="62.60" y1="397.20" x2="64.80" y2="397.20" stroke="#2f6e4e" stroke-width="0.8"/>
<circle cx="71.50" cy="404.70" r="1.2" fill="#2f6e4e"/>
<line x1="71.50" y1="402.10" x2="71.50" y2="404.70" stroke="#2f6e4e" stroke-width="0.8"/>
<line x1="70.40" y1="402.10" x2="72.60" y2="402.10" stroke="#2f6e4e" stroke-width="0.8"/>
<circle cx="79.60" cy="414.90" r="1.2" fill="#2f6e4e"/>
<line x1="79.60" y1="412.30" x2="79.60" y2="414.90" stroke="#2f6e4e" stroke-width="0.8"/>
<line x1="78.50" y1="412.30" x2="80.70" y2="412.30" stroke="#2f6e4e" stroke-width="0.8"/>
<circle cx="88.00" cy="404.90" r="1.2" fill="#2f6e4e"/>
<line x1="88.00" y1="402.30" x2="88.00" y2="404.90" stroke="#2f6e4e" stroke-width="0.8"/>
<line x1="86.90" y1="402.30" x2="89.10" y2="402.30" stroke="#2f6e4e" stroke-width="0.8"/>
<circle cx="96.20" cy="403.60" r="1.2" fill="#2f6e4e"/>
<line x1="96.20" y1="401.00" x2="96.20" y2="403.60" stroke="#2f6e4e" stroke-width="0.8"/>
<line x1="95.10" y1="401.00" x2="97.30" y2="401.00" stroke="#2f6e4e" stroke-width="0.8"/>
<circle cx="104.40" cy="407.10" r="1.2" fill="#2f6e4e"/>
<line x1="104.40" y1="404.50" x2="104.40" y2="407.10" stroke="#2f6e4e" stroke-width="0.8"/>
<line x1="103.30" y1="404.50" x2="105.50" y2="404.50" stroke="#2f6e4e" stroke-width="0.8"/>
<circle cx="113.00" cy="409.80" r="1.2" fill="#2f6e4e"/>
<line x1="113.00" y1="407.20" x2="113.00" y2="409.80" stroke="#2f6e4e" stroke-width="0.8"/>
<line x1="111.90" y1="407.20" x2="114.10" y2="407.20" stroke="#2f6e4e" stroke-width="0.8"/>
<circle cx="121.20" cy="414.20" r="1.2" fill="#2f6e4e"/>
<line x1="121.20" y1="411.60" x2="121.20" y2="414.20" stroke="#2f6e4e" stroke-width="0.8"/>
<line x1="120.10" y1="411.60" x2="122.30" y2="411.60" stroke="#2f6e4e" stroke-width="0.8"/>
<circle cx="129.40" cy="416.40" r="1.2" fill="#2f6e4e"/>
<line x1="129.40" y1="413.80" x2="129.40" y2="416.40" stroke="#2f6e4e" stroke-width="0.8"/>
<line x1="128.30" y1="413.80" x2="130.50" y2="413.80" stroke="#2f6e4e" stroke-width="0.8"/>
<rect x="53.70" y="387.10" width="2.40" height="2.40" fill="#b3123d"/>
<line x1="54.90" y1="388.30" x2="54.90" y2="390.70" stroke="#b3123d" stroke-width="0.8"/>
<line x1="53.80" y1="390.70" x2="56.00" y2="390.70" stroke="#b3123d" stroke-width="0.8"/>
<rect x="62.50" y="402.60" width="2.40" height="2.40" fill="#b3123d"/>
<line x1="63.70" y1="403.80" x2="63.70" y2="406.20" stroke="#b3123d" stroke-width="0.8"/>
<line x1="62.60" y1="406.20" x2="64.80" y2="406.20" stroke="#b3123d" stroke-width="0.8"/>
<rect x="70.30" y="409.20" width="2.40" height="2.40" fill="#b3123d"/>
<line x1="71.50" y1="410.40" x2="71.50" y2="412.80" stroke="#b3123d" stroke-width="0.8"/>
<line x1="70.40" y1="412.80" x2="72.60" y2="412.80" stroke="#b3123d" stroke-width="0.8"/>
<rect x="78.40" y="420.30" width="2.40" height="2.40" fill="#b3123d"/>
<line x1="79.60" y1="421.50" x2="79.60" y2="423.90" stroke="#b3123d" stroke-width="0.8"/>
<line x1="78.50" y1="423.90" x2="80.70" y2="423.90" stroke="#b3123d" stroke-width="0.8"/>
<line x1="64.40" y1="377.30" x2="71.90" y2="377.30" stroke="#2f6e4e" stroke-width="1.4"/>
<circle cx="68.10" cy="377.30" r="1.2" fill="#2f6e4e"/>
<text x="74.10" y="379.30" font-size="5.8" fill="#222" stroke="#222" stroke-width="0.08">WT T</text>
<line x1="64.40" y1="384.80" x2="71.90" y2="384.80" stroke="#b3123d" stroke-width="1.4"/>
<rect x="66.90" y="383.60" width="2.40" height="2.40" fill="#b3123d"/>
<text x="74.10" y="386.80" font-size="5.8" fill="#222" stroke="#222" stroke-width="0.08">IL-10<tspan dy="-1.9" font-size="3.4">-/-</tspan><tspan dy="1.9"> T</tspan></text>
<line x1="168.80" y1="370.00" x2="168.80" y2="428.20" stroke="#111" stroke-width="1.2"/>
<line x1="168.20" y1="427.70" x2="254.20" y2="427.70" stroke="#111" stroke-width="1.2"/>
<line x1="166.60" y1="427.70" x2="168.80" y2="427.70" stroke="#111" stroke-width="0.8"/>
<text x="164.60" y="429.55" font-size="5.2" text-anchor="end" fill="#2a2a2a" stroke="#2a2a2a" stroke-width="0.08">0</text>
<line x1="167.50" y1="422.20" x2="168.80" y2="422.20" stroke="#111" stroke-width="0.8"/>
<line x1="166.60" y1="416.70" x2="168.80" y2="416.70" stroke="#111" stroke-width="0.8"/>
<text x="164.60" y="418.55" font-size="5.2" text-anchor="end" fill="#2a2a2a" stroke="#2a2a2a" stroke-width="0.08">20</text>
<line x1="167.50" y1="411.20" x2="168.80" y2="411.20" stroke="#111" stroke-width="0.8"/>
<line x1="166.60" y1="405.70" x2="168.80" y2="405.70" stroke="#111" stroke-width="0.8"/>
<text x="164.60" y="407.55" font-size="5.2" text-anchor="end" fill="#2a2a2a" stroke="#2a2a2a" stroke-width="0.08">40</text>
<line x1="167.50" y1="400.20" x2="168.80" y2="400.20" stroke="#111" stroke-width="0.8"/>
<line x1="166.60" y1="394.70" x2="168.80" y2="394.70" stroke="#111" stroke-width="0.8"/>
<text x="164.60" y="396.55" font-size="5.2" text-anchor="end" fill="#2a2a2a" stroke="#2a2a2a" stroke-width="0.08">60</text>
<line x1="167.50" y1="389.20" x2="168.80" y2="389.20" stroke="#111" stroke-width="0.8"/>
<line x1="166.60" y1="383.70" x2="168.80" y2="383.70" stroke="#111" stroke-width="0.8"/>
<text x="164.60" y="385.55" font-size="5.2" text-anchor="end" fill="#2a2a2a" stroke="#2a2a2a" stroke-width="0.08">80</text>
<line x1="167.50" y1="378.20" x2="168.80" y2="378.20" stroke="#111" stroke-width="0.8"/>
<line x1="166.60" y1="372.70" x2="168.80" y2="372.70" stroke="#111" stroke-width="0.8"/>
<text x="164.60" y="374.55" font-size="5.2" text-anchor="end" fill="#2a2a2a" stroke="#2a2a2a" stroke-width="0.08">100</text>
<line x1="169.10" y1="427.70" x2="169.10" y2="429.50" stroke="#111" stroke-width="0.8"/>
<line x1="182.87" y1="427.70" x2="182.87" y2="429.50" stroke="#111" stroke-width="0.8"/>
<line x1="196.63" y1="427.70" x2="196.63" y2="429.50" stroke="#111" stroke-width="0.8"/>
<line x1="210.40" y1="427.70" x2="210.40" y2="429.50" stroke="#111" stroke-width="0.8"/>
<line x1="224.17" y1="427.70" x2="224.17" y2="429.50" stroke="#111" stroke-width="0.8"/>
<line x1="237.93" y1="427.70" x2="237.93" y2="429.50" stroke="#111" stroke-width="0.8"/>
<line x1="251.70" y1="427.70" x2="251.70" y2="429.50" stroke="#111" stroke-width="0.8"/>
<text x="169.10" y="438.30" font-size="5.0" text-anchor="middle" fill="#444" stroke="#444" stroke-width="0.08">0</text>
<text x="196.63" y="438.30" font-size="5.0" text-anchor="middle" fill="#444" stroke="#444" stroke-width="0.08">10</text>
<text x="224.17" y="438.30" font-size="5.0" text-anchor="middle" fill="#444" stroke="#444" stroke-width="0.08">20</text>
<text x="251.70" y="438.30" font-size="5.0" text-anchor="middle" fill="#444" stroke="#444" stroke-width="0.08">30</text>
<text x="211.80" y="449.30" font-size="6.8" text-anchor="middle" fill="#222" stroke="#222" stroke-width="0.08" textLength="37" lengthAdjust="spacingAndGlyphs">Days post-HCT</text>
<text x="149.50" y="398.40" font-size="7.6" text-anchor="middle" fill="#2a2a2a" stroke="#2a2a2a" stroke-width="0.08" textLength="62.8" lengthAdjust="spacingAndGlyphs" transform="rotate(-90 149.50 398.40)">% mice without diarrhea</text>
<path d="M169.1,372.9 L179.8,372.9 L179.8,383.8 L185.4,383.8 L185.4,427.7 L188,427.7" fill="none" stroke="#b3123d" stroke-width="1.4"/>
<circle cx="182.70" cy="383.80" r="1.1" fill="#b3123d"/>
<circle cx="187.90" cy="427.70" r="1.0" fill="#b3123d"/>
<line x1="169.10" y1="372.90" x2="252.00" y2="372.90" stroke="#6e9f82" stroke-width="1.5"/>
<circle cx="169.10" cy="372.90" r="0.95" fill="#2c5f42"/>
<circle cx="177.36" cy="372.90" r="0.95" fill="#2c5f42"/>
<circle cx="182.87" cy="372.90" r="0.95" fill="#2c5f42"/>
<circle cx="188.37" cy="372.90" r="0.95" fill="#2c5f42"/>
<circle cx="196.63" cy="372.90" r="0.95" fill="#2c5f42"/>
<circle cx="204.89" cy="372.90" r="0.95" fill="#2c5f42"/>
<circle cx="215.91" cy="372.90" r="0.95" fill="#2c5f42"/>
<circle cx="229.67" cy="372.90" r="0.95" fill="#2c5f42"/>
<circle cx="246.19" cy="372.90" r="0.95" fill="#2c5f42"/>
<circle cx="251.70" cy="372.90" r="0.95" fill="#2c5f42"/>
<line x1="289.40" y1="373.30" x2="289.40" y2="428.20" stroke="#111" stroke-width="1.2"/>
<line x1="288.80" y1="427.70" x2="375.00" y2="427.70" stroke="#111" stroke-width="1.2"/>
<line x1="287.20" y1="427.70" x2="289.40" y2="427.70" stroke="#111" stroke-width="0.8"/>
<text x="285.20" y="429.55" font-size="5.2" text-anchor="end" fill="#2a2a2a" stroke="#2a2a2a" stroke-width="0.08">0</text>
<line x1="288.10" y1="422.72" x2="289.40" y2="422.72" stroke="#111" stroke-width="0.8"/>
<line x1="288.10" y1="417.74" x2="289.40" y2="417.74" stroke="#111" stroke-width="0.8"/>
<line x1="288.10" y1="412.76" x2="289.40" y2="412.76" stroke="#111" stroke-width="0.8"/>
<line x1="288.10" y1="407.78" x2="289.40" y2="407.78" stroke="#111" stroke-width="0.8"/>
<line x1="287.20" y1="402.80" x2="289.40" y2="402.80" stroke="#111" stroke-width="0.8"/>
<text x="285.20" y="404.65" font-size="5.2" text-anchor="end" fill="#2a2a2a" stroke="#2a2a2a" stroke-width="0.08">50</text>
<line x1="288.10" y1="397.82" x2="289.40" y2="397.82" stroke="#111" stroke-width="0.8"/>
<line x1="288.10" y1="392.84" x2="289.40" y2="392.84" stroke="#111" stroke-width="0.8"/>
<line x1="288.10" y1="387.86" x2="289.40" y2="387.86" stroke="#111" stroke-width="0.8"/>
<line x1="288.10" y1="382.88" x2="289.40" y2="382.88" stroke="#111" stroke-width="0.8"/>
<line x1="287.20" y1="377.90" x2="289.40" y2="377.90" stroke="#111" stroke-width="0.8"/>
<text x="285.20" y="379.75" font-size="5.2" text-anchor="end" fill="#2a2a2a" stroke="#2a2a2a" stroke-width="0.08">100</text>
<line x1="289.40" y1="427.70" x2="289.40" y2="429.50" stroke="#111" stroke-width="0.8"/>
<line x1="303.22" y1="427.70" x2="303.22" y2="429.50" stroke="#111" stroke-width="0.8"/>
<line x1="317.03" y1="427.70" x2="317.03" y2="429.50" stroke="#111" stroke-width="0.8"/>
<line x1="330.85" y1="427.70" x2="330.85" y2="429.50" stroke="#111" stroke-width="0.8"/>
<line x1="344.67" y1="427.70" x2="344.67" y2="429.50" stroke="#111" stroke-width="0.8"/>
<line x1="358.48" y1="427.70" x2="358.48" y2="429.50" stroke="#111" stroke-width="0.8"/>
<line x1="372.30" y1="427.70" x2="372.30" y2="429.50" stroke="#111" stroke-width="0.8"/>
<text x="289.40" y="438.30" font-size="5.0" text-anchor="middle" fill="#444" stroke="#444" stroke-width="0.08">0</text>
<text x="317.03" y="438.30" font-size="5.0" text-anchor="middle" fill="#444" stroke="#444" stroke-width="0.08">10</text>
<text x="344.67" y="438.30" font-size="5.0" text-anchor="middle" fill="#444" stroke="#444" stroke-width="0.08">20</text>
<text x="372.30" y="438.30" font-size="5.0" text-anchor="middle" fill="#444" stroke="#444" stroke-width="0.08">30</text>
<text x="332.20" y="449.30" font-size="6.8" text-anchor="middle" fill="#222" stroke="#222" stroke-width="0.08" textLength="37" lengthAdjust="spacingAndGlyphs">Days post-HCT</text>
<text x="269.00" y="399.90" font-size="7.6" text-anchor="middle" fill="#2a2a2a" stroke="#2a2a2a" stroke-width="0.08" textLength="26" lengthAdjust="spacingAndGlyphs" transform="rotate(-90 269.00 399.90)">% survival</text>
<path d="M289.4,377.8 L308.5,377.8 L308.5,383.1 L311.4,383.1 L311.4,417.9 L314.4,417.9 L314.4,427.7" fill="none" stroke="#b3123d" stroke-width="1.4"/>
<rect x="307.60" y="382.20" width="1.80" height="1.80" fill="#b3123d"/>
<rect x="310.50" y="417.00" width="1.80" height="1.80" fill="#b3123d"/>
<rect x="313.50" y="426.80" width="1.80" height="1.80" fill="#b3123d"/>
<line x1="289.40" y1="377.80" x2="372.00" y2="377.80" stroke="#6e9f82" stroke-width="1.5"/>
<circle cx="371.90" cy="377.80" r="1.0" fill="#2c5f42"/>
<path d="M374.3,379 L377.1,379 L377.1,426.4 L374.3,426.4" fill="none" stroke="#222" stroke-width="1.1"/>
<circle cx="364.10" cy="401.00" r="0.6" fill="#2a2a2a"/>
<circle cx="366.50" cy="401.00" r="0.6" fill="#2a2a2a"/>
<circle cx="368.90" cy="401.00" r="0.6" fill="#2a2a2a"/>
<circle cx="371.30" cy="401.00" r="0.6" fill="#2a2a2a"/>
<rect x="0.5" y="0.5" width="519" height="457" fill="none" stroke="#000" stroke-width="1.2"/>
</svg>
</body></html>
